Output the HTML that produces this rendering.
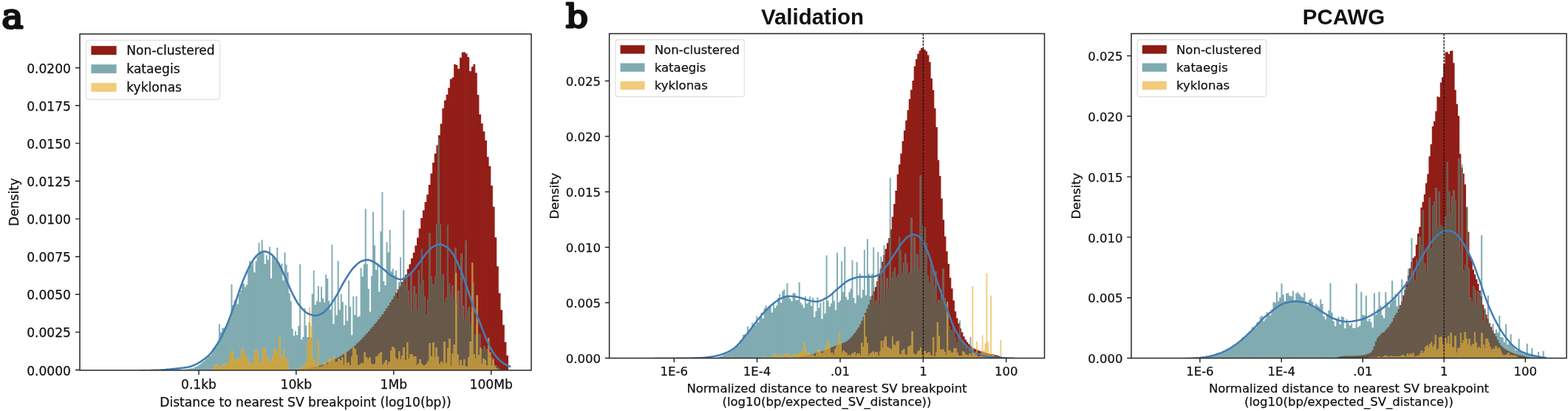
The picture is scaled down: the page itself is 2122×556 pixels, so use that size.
<!DOCTYPE html>
<html lang="en"><head><meta charset="utf-8"><title>Figure</title>
<style>html,body{margin:0;padding:0;background:#fff}body{width:2122px;height:556px;overflow:hidden}svg{display:block}</style></head>
<body>
<svg width="2122" height="556" viewBox="0 0 2122 556">
<rect width="2122" height="556" fill="#fff"/>
<defs><clipPath id="c0a"><rect x="108" y="46" width="611" height="454.9"/></clipPath>
<clipPath id="c0r"><path d="M395 500.5V500.3H397.6V500.1H400.3V499.9H402.9V499.6H405.6V499.4H408.2V499.1H410.8V498.7H413.5V498.4H416.1V498H418.8V497.6H421.4V497.1H424V496.5H426.7V496H429.3V495.3H432V494.6H434.6V493.7H437.2V492.7H439.9V491.7H442.5V490.5H445.2V489.2H447.8V488H450.4V486.7H453.1V485.3H455.7V484H458.4V482.6H461V480.9H463.6V479.2H466.3V477.5H468.9V475.7H471.6V473.6H474.2V471.5H476.8V469.4H479.5V467.2H482.1V464.6H484.8V461.9H487.4V459.4H490V456.5H492.7V453.5H495.3V450.8H498V448H500.6V444.7H503.2V441.7H505.9V438.2H508.5V435.6H511.2V432H513.8V428.6H516.4V425.3H519.1V421.1H521.7V417.2H524.4V413.7H527V409H529.6V405H532.3V400.6H534.9V396.2H537.6V391.2H540.2V387.3H542.8V381.3H545.5V376H548.1V371.5H550.8V364.1H553.4V357.6H556V349.4H558.7V341.7H561.3V332.2H564V321.6H566.6V309.2H569.2V295H571.9V284.6H574.5V273.2H577.2V263.3H579.8V250.1H582.4V234.8H585.1V219.9H587.7V207.8H590.4V196.5H593V183.1H595.6V167.4H598.3V146.4H600.9V135.8H603.6V127.9H606.2V118.8H608.8V107.1H611.5V104.7H614.1V87.1H616.8V88H619.4V93H622V78.1H624.7V70.7H627.3V70.6H630V72.6H632.6V77.3H635.2V96.2H637.9V90.2H640.5V86.8H643.2V98.5H645.8V128.3H648.4V154.7H651.1V167H653.7V177.7H656.4V190.1H659V212.3H661.6V224.8H664.3V251.1H666.9V279.8H669.6V321.3H672.2V360.2H674.8V396.4H677.5V419.2H680.1V439.6H682.8V462.8H685.4V481.1H688V500.5H690.7V500.5z"/></clipPath>
<clipPath id="c0t"><path d="M246.5 500.5V500.3H248.6V500.5zM248.6 500.5V500H250.6V500.5zM250.6 500.5V499.6H252.7V500.5zM252.7 500.5V499.3H254.7V500.5zM254.7 500.5V498.7H256.8V500.5zM256.8 500.5V498.3H258.9V500.5zM258.9 500.5V498.2H260.9V500.5zM260.9 500.5V497.6H263V500.5zM263 500.5V496.6H265V500.5zM265 500.5V495.9H267.1V500.5zM267.1 500.5V494.5H269.2V500.5zM269.2 500.5V493.3H271.2V500.5zM271.2 500.5V491.6H273.3V500.5zM273.3 500.5V489.4H275.3V500.5zM275.3 500.5V488.3H277.4V500.5zM277.4 500.5V485.4H279.5V500.5zM279.5 500.5V484.4H281.5V500.5zM281.5 500.5V481H283.6V500.5zM283.6 500.5V481.3H285.6V500.5zM285.6 500.5V477.7H287.7V500.5zM287.7 500.5V471.1H289.8V500.5zM289.8 500.5V470.4H291.8V500.5zM291.8 500.5V464.9H293.9V500.5zM293.9 500.5V461.4H295.9V500.5zM295.9 500.5V438.5H298V500.5zM298 500.5V449.6H300.1V500.5zM300.1 500.5V443.7H302.1V500.5zM302.1 500.5V443.4H304.2V500.5zM304.2 500.5V441.6H306.2V500.5zM306.2 500.5V438H308.3V500.5zM308.3 500.5V433.1H310.4V500.5zM310.4 500.5V430.3H312.4V500.5zM312.4 500.5V384.5H314.5V500.5zM314.5 500.5V412.8H316.5V500.5zM316.5 500.5V406.5H318.6V500.5zM318.6 500.5V406.1H320.7V500.5zM320.7 500.5V411.5H322.7V500.5zM322.7 500.5V397.9H324.8V500.5zM324.8 500.5V392.8H326.8V500.5zM326.8 500.5V383.6H328.9V500.5zM328.9 500.5V383.6H331V500.5zM331 500.5V388.3H333V500.5zM333 500.5V385.1H335.1V500.5zM335.1 500.5V366H337.1V500.5zM337.1 500.5V352.9H339.2V500.5zM339.2 500.5V358.4H341.3V500.5zM341.3 500.5V354.6H343.3V500.5zM343.3 500.5V368.4H345.4V500.5zM345.4 500.5V353.6H347.4V500.5zM347.4 500.5V347.1H349.5V500.5zM349.5 500.5V328.5H351.6V500.5zM351.6 500.5V340.9H353.6V500.5zM353.6 500.5V324.5H355.7V500.5zM355.7 500.5V342H357.7V500.5zM357.7 500.5V357.1H359.8V500.5zM359.8 500.5V345.4H361.9V500.5zM361.9 500.5V351.4H363.9V500.5zM363.9 500.5V334H366V500.5zM366 500.5V376.5H368V500.5zM368 500.5V346.4H370.1V500.5zM370.1 500.5V347.8H372.2V500.5zM372.2 500.5V352.8H374.2V500.5zM374.2 500.5V335H376.3V500.5zM376.3 500.5V354.7H378.3V500.5zM378.3 500.5V359.3H380.4V500.5zM380.4 500.5V356.5H382.5V500.5zM382.5 500.5V379.5H384.5V500.5zM384.5 500.5V341.5H386.6V500.5zM386.6 500.5V357.9H388.6V500.5zM388.6 500.5V368.6H390.7V500.5zM390.7 500.5V397.1H392.8V500.5zM392.8 500.5V407.2H394.8V500.5zM394.8 500.5V444.8H396.9V500.5zM396.9 500.5V454.3H398.9V500.5zM398.9 500.5V447.7H401V500.5zM401 500.5V453.3H403.1V500.5zM403.1 500.5V440.8H405.1V500.5zM405.1 500.5V357.5H407.2V500.5zM407.2 500.5V459.2H409.2V500.5zM409.2 500.5V455.7H411.3V500.5zM411.3 500.5V417H413.4V500.5zM413.4 500.5V440.2H415.4V500.5zM415.4 500.5V456.2H417.5V500.5zM417.5 500.5V436H419.5V500.5zM419.5 500.5V456.5H421.6V500.5zM421.6 500.5V397.6H423.7V500.5zM423.7 500.5V366H425.7V500.5zM425.7 500.5V412.2H427.8V500.5zM427.8 500.5V407.3H429.8V500.5zM429.8 500.5V387H431.9V500.5zM431.9 500.5V408.8H434V500.5zM434 500.5V388.1H436V500.5zM436 500.5V403.6H438.1V500.5zM438.1 500.5V409.1H440.1V500.5zM440.1 500.5V371.4H442.2V500.5zM442.2 500.5V377H444.3V500.5zM444.3 500.5V407.1H446.3V500.5zM446.3 500.5V419.1H448.4V500.5zM448.4 500.5V331H450.4V500.5zM450.4 500.5V438.2H452.5V500.5zM452.5 500.5V401.6H454.6V500.5zM454.6 500.5V426.4H456.6V500.5zM456.6 500.5V353H458.7V500.5zM458.7 500.5V419.2H460.7V500.5zM460.7 500.5V397.7H462.8V500.5zM462.8 500.5V408.6H464.9V500.5zM464.9 500.5V439.7H466.9V500.5zM466.9 500.5V412.7H469V500.5zM469 500.5V433.9H471V500.5zM471 500.5V379.5H473.1V500.5zM473.1 500.5V414.8H475.2V500.5zM475.2 500.5V453.6H477.2V500.5zM477.2 500.5V401H479.3V500.5zM479.3 500.5V426.1H481.3V500.5zM481.3 500.5V400.5H483.4V500.5zM483.4 500.5V428.7H485.5V500.5zM485.5 500.5V427.7H487.5V500.5zM487.5 500.5V362.5H489.6V500.5zM489.6 500.5V373.9H491.6V500.5zM491.6 500.5V357.4H493.7V500.5zM493.7 500.5V282.5H495.8V500.5zM495.8 500.5V357.3H497.8V500.5zM497.8 500.5V390.8H499.9V500.5zM499.9 500.5V421.7H501.9V500.5zM501.9 500.5V373.2H504V500.5zM504 500.5V286.8H506.1V500.5zM506.1 500.5V331.8H508.1V500.5zM508.1 500.5V364.9H510.2V500.5zM510.2 500.5V355.9H512.2V500.5zM512.2 500.5V394.7H514.3V500.5zM514.3 500.5V313H516.4V500.5zM516.4 500.5V260H518.4V500.5zM518.4 500.5V380.5H520.5V500.5zM520.5 500.5V386.1H522.5V500.5zM522.5 500.5V327.5H524.6V500.5zM524.6 500.5V341.6H526.7V500.5zM526.7 500.5V311H528.7V500.5zM528.7 500.5V367.2H530.8V500.5zM530.8 500.5V363.2H532.8V500.5zM532.8 500.5V372.8H534.9V500.5zM534.9 500.5V365.7H537V500.5zM537 500.5V404.2H539V500.5zM539 500.5V381.4H541.1V500.5zM541.1 500.5V348H543.1V500.5zM543.1 500.5V383H545.2V500.5zM545.2 500.5V284.3H547.3V500.5zM547.3 500.5V387.6H549.3V500.5zM549.3 500.5V371.8H551.4V500.5zM551.4 500.5V392.8H553.4V500.5zM553.4 500.5V411.2H555.5V500.5zM555.5 500.5V370.5H557.6V500.5zM557.6 500.5V421.7H559.6V500.5zM559.6 500.5V387.2H561.7V500.5zM561.7 500.5V397H563.7V500.5zM563.7 500.5V417.9H565.8V500.5zM565.8 500.5V365.7H567.9V500.5zM567.9 500.5V386.6H569.9V500.5zM569.9 500.5V336.8H572V500.5zM572 500.5V379.4H574V500.5zM574 500.5V401.4H576.1V500.5zM576.1 500.5V426.2H578.2V500.5zM578.2 500.5V405.1H580.2V500.5zM580.2 500.5V315.5H582.3V500.5zM582.3 500.5V374.2H584.3V500.5zM584.3 500.5V384.5H586.4V500.5zM586.4 500.5V385.9H588.5V500.5zM588.5 500.5V373.9H590.5V500.5zM590.5 500.5V303H592.6V500.5zM592.6 500.5V187H594.6V500.5zM594.6 500.5V303H596.7V500.5zM596.7 500.5V376.1H598.8V500.5zM598.8 500.5V371.3H600.8V500.5zM600.8 500.5V407.9H602.9V500.5zM602.9 500.5V402.7H604.9V500.5zM604.9 500.5V304H607V500.5zM607 500.5V382.9H609.1V500.5zM609.1 500.5V398H611.1V500.5zM611.1 500.5V385.9H613.2V500.5zM613.2 500.5V404.6H615.2V500.5zM615.2 500.5V335.5H617.3V500.5zM617.3 500.5V410.5H619.4V500.5zM619.4 500.5V393.2H621.4V500.5zM621.4 500.5V427.5H623.5V500.5zM623.5 500.5V343H625.5V500.5zM625.5 500.5V413.6H627.6V500.5zM627.6 500.5V432.4H629.7V500.5zM629.7 500.5V325.5H631.7V500.5zM631.7 500.5V420.1H633.8V500.5zM633.8 500.5V415.6H635.8V500.5zM635.8 500.5V438.8H637.9V500.5zM637.9 500.5V421.9H640V500.5zM640 500.5V382.5H642V500.5zM642 500.5V452H644.1V500.5zM644.1 500.5V439H646.1V500.5zM646.1 500.5V451.4H648.2V500.5zM648.2 500.5V452.2H650.3V500.5zM650.3 500.5V472.5H652.3V500.5zM652.3 500.5V473.4H654.4V500.5zM654.4 500.5V468.6H656.4V500.5zM656.4 500.5V475.5H658.5V500.5zM658.5 500.5V472.3H660.6V500.5zM660.6 500.5V484.3H662.6V500.5zM662.6 500.5V484.3H664.7V500.5zM664.7 500.5V483.6H666.7V500.5zM666.7 500.5V491.5H668.8V500.5zM668.8 500.5V493.7H670.9V500.5zM670.9 500.5V494.6H672.9V500.5zM672.9 500.5V496.7H675V500.5zM675 500.5V498.4H677V500.5z"/></clipPath>
</defs>
<g clip-path="url(#c0a)">
<path id="c0pr" d="M395 500.5V500.3H397.6V500.1H400.3V499.9H402.9V499.6H405.6V499.4H408.2V499.1H410.8V498.7H413.5V498.4H416.1V498H418.8V497.6H421.4V497.1H424V496.5H426.7V496H429.3V495.3H432V494.6H434.6V493.7H437.2V492.7H439.9V491.7H442.5V490.5H445.2V489.2H447.8V488H450.4V486.7H453.1V485.3H455.7V484H458.4V482.6H461V480.9H463.6V479.2H466.3V477.5H468.9V475.7H471.6V473.6H474.2V471.5H476.8V469.4H479.5V467.2H482.1V464.6H484.8V461.9H487.4V459.4H490V456.5H492.7V453.5H495.3V450.8H498V448H500.6V444.7H503.2V441.7H505.9V438.2H508.5V435.6H511.2V432H513.8V428.6H516.4V425.3H519.1V421.1H521.7V417.2H524.4V413.7H527V409H529.6V405H532.3V400.6H534.9V396.2H537.6V391.2H540.2V387.3H542.8V381.3H545.5V376H548.1V371.5H550.8V364.1H553.4V357.6H556V349.4H558.7V341.7H561.3V332.2H564V321.6H566.6V309.2H569.2V295H571.9V284.6H574.5V273.2H577.2V263.3H579.8V250.1H582.4V234.8H585.1V219.9H587.7V207.8H590.4V196.5H593V183.1H595.6V167.4H598.3V146.4H600.9V135.8H603.6V127.9H606.2V118.8H608.8V107.1H611.5V104.7H614.1V87.1H616.8V88H619.4V93H622V78.1H624.7V70.7H627.3V70.6H630V72.6H632.6V77.3H635.2V96.2H637.9V90.2H640.5V86.8H643.2V98.5H645.8V128.3H648.4V154.7H651.1V167H653.7V177.7H656.4V190.1H659V212.3H661.6V224.8H664.3V251.1H666.9V279.8H669.6V321.3H672.2V360.2H674.8V396.4H677.5V419.2H680.1V439.6H682.8V462.8H685.4V481.1H688V500.5H690.7V500.5z" fill="#98211a"/>
<path d="M424 500.5V497.1M426.7 500.5V496.5M429.3 500.5V496M432 500.5V495.3M434.6 500.5V494.6M437.2 500.5V493.7M439.9 500.5V492.7M442.5 500.5V491.7M445.2 500.5V490.5M447.8 500.5V489.2M450.4 500.5V488M453.1 500.5V486.7M455.7 500.5V485.3M458.4 500.5V484M461 500.5V482.6M463.6 500.5V480.9M466.3 500.5V479.2M468.9 500.5V477.5M471.6 500.5V475.7M474.2 500.5V473.6M476.8 500.5V471.5M479.5 500.5V469.4M482.1 500.5V467.2M484.8 500.5V464.6M487.4 500.5V461.9M490 500.5V459.4M492.7 500.5V456.5M495.3 500.5V453.5M498 500.5V450.8M500.6 500.5V448M503.2 500.5V444.7M505.9 500.5V441.7M508.5 500.5V438.2M511.2 500.5V435.6M513.8 500.5V432M516.4 500.5V428.6M519.1 500.5V425.3M521.7 500.5V421.1M524.4 500.5V417.2M527 500.5V413.7M529.6 500.5V409M532.3 500.5V405M534.9 500.5V400.6M537.6 500.5V396.2M540.2 500.5V391.2M542.8 500.5V387.3M545.5 500.5V381.3M548.1 500.5V376M550.8 500.5V371.5M553.4 500.5V364.1M556 500.5V357.6M558.7 500.5V349.4M561.3 500.5V341.7M564 500.5V332.2M566.6 500.5V321.6M569.2 500.5V309.2M571.9 500.5V295M574.5 500.5V284.6M577.2 500.5V273.2M579.8 500.5V263.3M582.4 500.5V250.1M585.1 500.5V234.8M587.7 500.5V219.9M590.4 500.5V207.8M593 500.5V196.5M595.6 500.5V183.1M598.3 500.5V167.4M600.9 500.5V146.4M603.6 500.5V135.8M606.2 500.5V127.9M608.8 500.5V118.8M611.5 500.5V107.1M614.1 500.5V104.7M616.8 500.5V88M619.4 500.5V93M622 500.5V93M624.7 500.5V78.1M627.3 500.5V70.7M630 500.5V72.6M632.6 500.5V77.3M635.2 500.5V96.2M637.9 500.5V96.2M640.5 500.5V90.2M643.2 500.5V98.5M645.8 500.5V128.3M648.4 500.5V154.7M651.1 500.5V167M653.7 500.5V177.7M656.4 500.5V190.1M659 500.5V212.3M661.6 500.5V224.8M664.3 500.5V251.1M666.9 500.5V279.8M669.6 500.5V321.3M672.2 500.5V360.2M674.8 500.5V396.4M677.5 500.5V419.2M680.1 500.5V439.6M682.8 500.5V462.8M685.4 500.5V481.1" stroke="#5e0f0b" stroke-width="0.6" fill="none" opacity="0.5"/>
<path d="M246.5 500.5V500.3H248.6V500.5zM248.6 500.5V500H250.6V500.5zM250.6 500.5V499.6H252.7V500.5zM252.7 500.5V499.3H254.7V500.5zM254.7 500.5V498.7H256.8V500.5zM256.8 500.5V498.3H258.9V500.5zM258.9 500.5V498.2H260.9V500.5zM260.9 500.5V497.6H263V500.5zM263 500.5V496.6H265V500.5zM265 500.5V495.9H267.1V500.5zM267.1 500.5V494.5H269.2V500.5zM269.2 500.5V493.3H271.2V500.5zM271.2 500.5V491.6H273.3V500.5zM273.3 500.5V489.4H275.3V500.5zM275.3 500.5V488.3H277.4V500.5zM277.4 500.5V485.4H279.5V500.5zM279.5 500.5V484.4H281.5V500.5zM281.5 500.5V481H283.6V500.5zM283.6 500.5V481.3H285.6V500.5zM285.6 500.5V477.7H287.7V500.5zM287.7 500.5V471.1H289.8V500.5zM289.8 500.5V470.4H291.8V500.5zM291.8 500.5V464.9H293.9V500.5zM293.9 500.5V461.4H295.9V500.5zM295.9 500.5V438.5H298V500.5zM298 500.5V449.6H300.1V500.5zM300.1 500.5V443.7H302.1V500.5zM302.1 500.5V443.4H304.2V500.5zM304.2 500.5V441.6H306.2V500.5zM306.2 500.5V438H308.3V500.5zM308.3 500.5V433.1H310.4V500.5zM310.4 500.5V430.3H312.4V500.5zM312.4 500.5V384.5H314.5V500.5zM314.5 500.5V412.8H316.5V500.5zM316.5 500.5V406.5H318.6V500.5zM318.6 500.5V406.1H320.7V500.5zM320.7 500.5V411.5H322.7V500.5zM322.7 500.5V397.9H324.8V500.5zM324.8 500.5V392.8H326.8V500.5zM326.8 500.5V383.6H328.9V500.5zM328.9 500.5V383.6H331V500.5zM331 500.5V388.3H333V500.5zM333 500.5V385.1H335.1V500.5zM335.1 500.5V366H337.1V500.5zM337.1 500.5V352.9H339.2V500.5zM339.2 500.5V358.4H341.3V500.5zM341.3 500.5V354.6H343.3V500.5zM343.3 500.5V368.4H345.4V500.5zM345.4 500.5V353.6H347.4V500.5zM347.4 500.5V347.1H349.5V500.5zM349.5 500.5V328.5H351.6V500.5zM351.6 500.5V340.9H353.6V500.5zM353.6 500.5V324.5H355.7V500.5zM355.7 500.5V342H357.7V500.5zM357.7 500.5V357.1H359.8V500.5zM359.8 500.5V345.4H361.9V500.5zM361.9 500.5V351.4H363.9V500.5zM363.9 500.5V334H366V500.5zM366 500.5V376.5H368V500.5zM368 500.5V346.4H370.1V500.5zM370.1 500.5V347.8H372.2V500.5zM372.2 500.5V352.8H374.2V500.5zM374.2 500.5V335H376.3V500.5zM376.3 500.5V354.7H378.3V500.5zM378.3 500.5V359.3H380.4V500.5zM380.4 500.5V356.5H382.5V500.5zM382.5 500.5V379.5H384.5V500.5zM384.5 500.5V341.5H386.6V500.5zM386.6 500.5V357.9H388.6V500.5zM388.6 500.5V368.6H390.7V500.5zM390.7 500.5V397.1H392.8V500.5zM392.8 500.5V407.2H394.8V500.5zM394.8 500.5V444.8H396.9V500.5zM396.9 500.5V454.3H398.9V500.5zM398.9 500.5V447.7H401V500.5zM401 500.5V453.3H403.1V500.5zM403.1 500.5V440.8H405.1V500.5zM405.1 500.5V357.5H407.2V500.5zM407.2 500.5V459.2H409.2V500.5zM409.2 500.5V455.7H411.3V500.5zM411.3 500.5V417H413.4V500.5zM413.4 500.5V440.2H415.4V500.5zM415.4 500.5V456.2H417.5V500.5zM417.5 500.5V436H419.5V500.5zM419.5 500.5V456.5H421.6V500.5zM421.6 500.5V397.6H423.7V500.5zM423.7 500.5V366H425.7V500.5zM425.7 500.5V412.2H427.8V500.5zM427.8 500.5V407.3H429.8V500.5zM429.8 500.5V387H431.9V500.5zM431.9 500.5V408.8H434V500.5zM434 500.5V388.1H436V500.5zM436 500.5V403.6H438.1V500.5zM438.1 500.5V409.1H440.1V500.5zM440.1 500.5V371.4H442.2V500.5zM442.2 500.5V377H444.3V500.5zM444.3 500.5V407.1H446.3V500.5zM446.3 500.5V419.1H448.4V500.5zM448.4 500.5V331H450.4V500.5zM450.4 500.5V438.2H452.5V500.5zM452.5 500.5V401.6H454.6V500.5zM454.6 500.5V426.4H456.6V500.5zM456.6 500.5V353H458.7V500.5zM458.7 500.5V419.2H460.7V500.5zM460.7 500.5V397.7H462.8V500.5zM462.8 500.5V408.6H464.9V500.5zM464.9 500.5V439.7H466.9V500.5zM466.9 500.5V412.7H469V500.5zM469 500.5V433.9H471V500.5zM471 500.5V379.5H473.1V500.5zM473.1 500.5V414.8H475.2V500.5zM475.2 500.5V453.6H477.2V500.5zM477.2 500.5V401H479.3V500.5zM479.3 500.5V426.1H481.3V500.5zM481.3 500.5V400.5H483.4V500.5zM483.4 500.5V428.7H485.5V500.5zM485.5 500.5V427.7H487.5V500.5zM487.5 500.5V362.5H489.6V500.5zM489.6 500.5V373.9H491.6V500.5zM491.6 500.5V357.4H493.7V500.5zM493.7 500.5V282.5H495.8V500.5zM495.8 500.5V357.3H497.8V500.5zM497.8 500.5V390.8H499.9V500.5zM499.9 500.5V421.7H501.9V500.5zM501.9 500.5V373.2H504V500.5zM504 500.5V286.8H506.1V500.5zM506.1 500.5V331.8H508.1V500.5zM508.1 500.5V364.9H510.2V500.5zM510.2 500.5V355.9H512.2V500.5zM512.2 500.5V394.7H514.3V500.5zM514.3 500.5V313H516.4V500.5zM516.4 500.5V260H518.4V500.5zM518.4 500.5V380.5H520.5V500.5zM520.5 500.5V386.1H522.5V500.5zM522.5 500.5V327.5H524.6V500.5zM524.6 500.5V341.6H526.7V500.5zM526.7 500.5V311H528.7V500.5zM528.7 500.5V367.2H530.8V500.5zM530.8 500.5V363.2H532.8V500.5zM532.8 500.5V372.8H534.9V500.5zM534.9 500.5V365.7H537V500.5zM537 500.5V404.2H539V500.5zM539 500.5V381.4H541.1V500.5zM541.1 500.5V348H543.1V500.5zM543.1 500.5V383H545.2V500.5zM545.2 500.5V284.3H547.3V500.5zM547.3 500.5V387.6H549.3V500.5zM549.3 500.5V371.8H551.4V500.5zM551.4 500.5V392.8H553.4V500.5zM553.4 500.5V411.2H555.5V500.5zM555.5 500.5V370.5H557.6V500.5zM557.6 500.5V421.7H559.6V500.5zM559.6 500.5V387.2H561.7V500.5zM561.7 500.5V397H563.7V500.5zM563.7 500.5V417.9H565.8V500.5zM565.8 500.5V365.7H567.9V500.5zM567.9 500.5V386.6H569.9V500.5zM569.9 500.5V336.8H572V500.5zM572 500.5V379.4H574V500.5zM574 500.5V401.4H576.1V500.5zM576.1 500.5V426.2H578.2V500.5zM578.2 500.5V405.1H580.2V500.5zM580.2 500.5V315.5H582.3V500.5zM582.3 500.5V374.2H584.3V500.5zM584.3 500.5V384.5H586.4V500.5zM586.4 500.5V385.9H588.5V500.5zM588.5 500.5V373.9H590.5V500.5zM590.5 500.5V303H592.6V500.5zM592.6 500.5V187H594.6V500.5zM594.6 500.5V303H596.7V500.5zM596.7 500.5V376.1H598.8V500.5zM598.8 500.5V371.3H600.8V500.5zM600.8 500.5V407.9H602.9V500.5zM602.9 500.5V402.7H604.9V500.5zM604.9 500.5V304H607V500.5zM607 500.5V382.9H609.1V500.5zM609.1 500.5V398H611.1V500.5zM611.1 500.5V385.9H613.2V500.5zM613.2 500.5V404.6H615.2V500.5zM615.2 500.5V335.5H617.3V500.5zM617.3 500.5V410.5H619.4V500.5zM619.4 500.5V393.2H621.4V500.5zM621.4 500.5V427.5H623.5V500.5zM623.5 500.5V343H625.5V500.5zM625.5 500.5V413.6H627.6V500.5zM627.6 500.5V432.4H629.7V500.5zM629.7 500.5V325.5H631.7V500.5zM631.7 500.5V420.1H633.8V500.5zM633.8 500.5V415.6H635.8V500.5zM635.8 500.5V438.8H637.9V500.5zM637.9 500.5V421.9H640V500.5zM640 500.5V382.5H642V500.5zM642 500.5V452H644.1V500.5zM644.1 500.5V439H646.1V500.5zM646.1 500.5V451.4H648.2V500.5zM648.2 500.5V452.2H650.3V500.5zM650.3 500.5V472.5H652.3V500.5zM652.3 500.5V473.4H654.4V500.5zM654.4 500.5V468.6H656.4V500.5zM656.4 500.5V475.5H658.5V500.5zM658.5 500.5V472.3H660.6V500.5zM660.6 500.5V484.3H662.6V500.5zM662.6 500.5V484.3H664.7V500.5zM664.7 500.5V483.6H666.7V500.5zM666.7 500.5V491.5H668.8V500.5zM668.8 500.5V493.7H670.9V500.5zM670.9 500.5V494.6H672.9V500.5zM672.9 500.5V496.7H675V500.5zM675 500.5V498.4H677V500.5z" fill="#86b0b6"/>
<path d="M265 500.5V496.6M267.1 500.5V495.9M269.2 500.5V494.5M271.2 500.5V493.3M273.3 500.5V491.6M275.3 500.5V489.4M277.4 500.5V488.3M279.5 500.5V485.4M281.5 500.5V484.4M283.6 500.5V481.3M285.6 500.5V481.3M287.7 500.5V477.7M289.8 500.5V471.1M291.8 500.5V470.4M293.9 500.5V464.9M295.9 500.5V461.4M298 500.5V449.6M300.1 500.5V449.6M302.1 500.5V443.7M304.2 500.5V443.4M306.2 500.5V441.6M308.3 500.5V438M310.4 500.5V433.1M312.4 500.5V430.3M314.5 500.5V412.8M316.5 500.5V412.8M318.6 500.5V406.5M320.7 500.5V411.5M322.7 500.5V411.5M324.8 500.5V397.9M326.8 500.5V392.8M328.9 500.5V383.6M331 500.5V388.3M333 500.5V388.3M335.1 500.5V385.1M337.1 500.5V366M339.2 500.5V358.4M341.3 500.5V358.4M343.3 500.5V368.4M345.4 500.5V368.4M347.4 500.5V353.6M349.5 500.5V347.1M351.6 500.5V340.9M353.6 500.5V340.9M355.7 500.5V342M357.7 500.5V357.1M359.8 500.5V357.1M361.9 500.5V351.4M363.9 500.5V351.4M366 500.5V376.5M368 500.5V376.5M370.1 500.5V347.8M372.2 500.5V352.8M374.2 500.5V352.8M376.3 500.5V354.7M378.3 500.5V359.3M380.4 500.5V359.3M382.5 500.5V379.5M384.5 500.5V379.5M386.6 500.5V357.9M388.6 500.5V368.6M390.7 500.5V397.1M392.8 500.5V407.2M394.8 500.5V444.8M396.9 500.5V454.3M398.9 500.5V454.3M401 500.5V453.3M403.1 500.5V453.3M405.1 500.5V440.8M407.2 500.5V459.2M409.2 500.5V459.2M411.3 500.5V455.7M413.4 500.5V440.2M415.4 500.5V456.2M417.5 500.5V456.2M419.5 500.5V456.5M421.6 500.5V456.5M423.7 500.5V397.6M425.7 500.5V412.2M427.8 500.5V412.2M429.8 500.5V407.3M431.9 500.5V408.8M434 500.5V408.8M436 500.5V403.6M438.1 500.5V409.1M440.1 500.5V409.1M442.2 500.5V377M444.3 500.5V407.1M446.3 500.5V419.1M448.4 500.5V419.1M450.4 500.5V438.2M452.5 500.5V438.2M454.6 500.5V426.4M456.6 500.5V426.4M458.7 500.5V419.2M460.7 500.5V419.2M462.8 500.5V408.6M464.9 500.5V439.7M466.9 500.5V439.7M469 500.5V433.9M471 500.5V433.9M473.1 500.5V414.8M475.2 500.5V453.6M477.2 500.5V453.6M479.3 500.5V426.1M481.3 500.5V426.1M483.4 500.5V428.7M485.5 500.5V428.7M487.5 500.5V427.7M489.6 500.5V373.9M491.6 500.5V373.9M493.7 500.5V357.4M495.8 500.5V357.3M497.8 500.5V390.8M499.9 500.5V421.7M501.9 500.5V421.7M504 500.5V373.2M506.1 500.5V331.8M508.1 500.5V364.9M510.2 500.5V364.9M512.2 500.5V394.7M514.3 500.5V394.7M516.4 500.5V313M518.4 500.5V380.5M520.5 500.5V386.1M522.5 500.5V386.1M524.6 500.5V341.6M526.7 500.5V341.6M528.7 500.5V367.2M530.8 500.5V367.2M532.8 500.5V372.8M534.9 500.5V372.8M537 500.5V404.2M539 500.5V404.2M541.1 500.5V381.4M543.1 500.5V383M545.2 500.5V383M547.3 500.5V387.6M549.3 500.5V387.6M551.4 500.5V392.8M553.4 500.5V411.2M555.5 500.5V411.2M557.6 500.5V421.7M559.6 500.5V421.7M561.7 500.5V397M563.7 500.5V417.9M565.8 500.5V417.9M567.9 500.5V386.6M569.9 500.5V386.6M572 500.5V379.4M574 500.5V401.4M576.1 500.5V426.2M578.2 500.5V426.2M580.2 500.5V405.1M582.3 500.5V374.2M584.3 500.5V384.5M586.4 500.5V385.9M588.5 500.5V385.9M590.5 500.5V373.9M592.6 500.5V303M594.6 500.5V303M596.7 500.5V376.1M598.8 500.5V376.1M600.8 500.5V407.9M602.9 500.5V407.9M604.9 500.5V402.7M607 500.5V382.9M609.1 500.5V398M611.1 500.5V398M613.2 500.5V404.6M615.2 500.5V404.6M617.3 500.5V410.5M619.4 500.5V410.5M621.4 500.5V427.5M623.5 500.5V427.5M625.5 500.5V413.6M627.6 500.5V432.4M629.7 500.5V432.4M631.7 500.5V420.1M633.8 500.5V420.1M635.8 500.5V438.8M637.9 500.5V438.8M640 500.5V421.9M642 500.5V452M644.1 500.5V452M646.1 500.5V451.4M648.2 500.5V452.2M650.3 500.5V472.5M652.3 500.5V473.4M654.4 500.5V473.4M656.4 500.5V475.5M658.5 500.5V475.5M660.6 500.5V484.3M662.6 500.5V484.3M664.7 500.5V484.3M666.7 500.5V491.5M668.8 500.5V493.7M670.9 500.5V494.6M672.9 500.5V496.7" stroke="#5d8e95" stroke-width="0.5" fill="none" opacity="0.5"/>
<g clip-path="url(#c0r)"><path d="M246.5 500.5V500.3H248.6V500.5zM248.6 500.5V500H250.6V500.5zM250.6 500.5V499.6H252.7V500.5zM252.7 500.5V499.3H254.7V500.5zM254.7 500.5V498.7H256.8V500.5zM256.8 500.5V498.3H258.9V500.5zM258.9 500.5V498.2H260.9V500.5zM260.9 500.5V497.6H263V500.5zM263 500.5V496.6H265V500.5zM265 500.5V495.9H267.1V500.5zM267.1 500.5V494.5H269.2V500.5zM269.2 500.5V493.3H271.2V500.5zM271.2 500.5V491.6H273.3V500.5zM273.3 500.5V489.4H275.3V500.5zM275.3 500.5V488.3H277.4V500.5zM277.4 500.5V485.4H279.5V500.5zM279.5 500.5V484.4H281.5V500.5zM281.5 500.5V481H283.6V500.5zM283.6 500.5V481.3H285.6V500.5zM285.6 500.5V477.7H287.7V500.5zM287.7 500.5V471.1H289.8V500.5zM289.8 500.5V470.4H291.8V500.5zM291.8 500.5V464.9H293.9V500.5zM293.9 500.5V461.4H295.9V500.5zM295.9 500.5V438.5H298V500.5zM298 500.5V449.6H300.1V500.5zM300.1 500.5V443.7H302.1V500.5zM302.1 500.5V443.4H304.2V500.5zM304.2 500.5V441.6H306.2V500.5zM306.2 500.5V438H308.3V500.5zM308.3 500.5V433.1H310.4V500.5zM310.4 500.5V430.3H312.4V500.5zM312.4 500.5V384.5H314.5V500.5zM314.5 500.5V412.8H316.5V500.5zM316.5 500.5V406.5H318.6V500.5zM318.6 500.5V406.1H320.7V500.5zM320.7 500.5V411.5H322.7V500.5zM322.7 500.5V397.9H324.8V500.5zM324.8 500.5V392.8H326.8V500.5zM326.8 500.5V383.6H328.9V500.5zM328.9 500.5V383.6H331V500.5zM331 500.5V388.3H333V500.5zM333 500.5V385.1H335.1V500.5zM335.1 500.5V366H337.1V500.5zM337.1 500.5V352.9H339.2V500.5zM339.2 500.5V358.4H341.3V500.5zM341.3 500.5V354.6H343.3V500.5zM343.3 500.5V368.4H345.4V500.5zM345.4 500.5V353.6H347.4V500.5zM347.4 500.5V347.1H349.5V500.5zM349.5 500.5V328.5H351.6V500.5zM351.6 500.5V340.9H353.6V500.5zM353.6 500.5V324.5H355.7V500.5zM355.7 500.5V342H357.7V500.5zM357.7 500.5V357.1H359.8V500.5zM359.8 500.5V345.4H361.9V500.5zM361.9 500.5V351.4H363.9V500.5zM363.9 500.5V334H366V500.5zM366 500.5V376.5H368V500.5zM368 500.5V346.4H370.1V500.5zM370.1 500.5V347.8H372.2V500.5zM372.2 500.5V352.8H374.2V500.5zM374.2 500.5V335H376.3V500.5zM376.3 500.5V354.7H378.3V500.5zM378.3 500.5V359.3H380.4V500.5zM380.4 500.5V356.5H382.5V500.5zM382.5 500.5V379.5H384.5V500.5zM384.5 500.5V341.5H386.6V500.5zM386.6 500.5V357.9H388.6V500.5zM388.6 500.5V368.6H390.7V500.5zM390.7 500.5V397.1H392.8V500.5zM392.8 500.5V407.2H394.8V500.5zM394.8 500.5V444.8H396.9V500.5zM396.9 500.5V454.3H398.9V500.5zM398.9 500.5V447.7H401V500.5zM401 500.5V453.3H403.1V500.5zM403.1 500.5V440.8H405.1V500.5zM405.1 500.5V357.5H407.2V500.5zM407.2 500.5V459.2H409.2V500.5zM409.2 500.5V455.7H411.3V500.5zM411.3 500.5V417H413.4V500.5zM413.4 500.5V440.2H415.4V500.5zM415.4 500.5V456.2H417.5V500.5zM417.5 500.5V436H419.5V500.5zM419.5 500.5V456.5H421.6V500.5zM421.6 500.5V397.6H423.7V500.5zM423.7 500.5V366H425.7V500.5zM425.7 500.5V412.2H427.8V500.5zM427.8 500.5V407.3H429.8V500.5zM429.8 500.5V387H431.9V500.5zM431.9 500.5V408.8H434V500.5zM434 500.5V388.1H436V500.5zM436 500.5V403.6H438.1V500.5zM438.1 500.5V409.1H440.1V500.5zM440.1 500.5V371.4H442.2V500.5zM442.2 500.5V377H444.3V500.5zM444.3 500.5V407.1H446.3V500.5zM446.3 500.5V419.1H448.4V500.5zM448.4 500.5V331H450.4V500.5zM450.4 500.5V438.2H452.5V500.5zM452.5 500.5V401.6H454.6V500.5zM454.6 500.5V426.4H456.6V500.5zM456.6 500.5V353H458.7V500.5zM458.7 500.5V419.2H460.7V500.5zM460.7 500.5V397.7H462.8V500.5zM462.8 500.5V408.6H464.9V500.5zM464.9 500.5V439.7H466.9V500.5zM466.9 500.5V412.7H469V500.5zM469 500.5V433.9H471V500.5zM471 500.5V379.5H473.1V500.5zM473.1 500.5V414.8H475.2V500.5zM475.2 500.5V453.6H477.2V500.5zM477.2 500.5V401H479.3V500.5zM479.3 500.5V426.1H481.3V500.5zM481.3 500.5V400.5H483.4V500.5zM483.4 500.5V428.7H485.5V500.5zM485.5 500.5V427.7H487.5V500.5zM487.5 500.5V362.5H489.6V500.5zM489.6 500.5V373.9H491.6V500.5zM491.6 500.5V357.4H493.7V500.5zM493.7 500.5V282.5H495.8V500.5zM495.8 500.5V357.3H497.8V500.5zM497.8 500.5V390.8H499.9V500.5zM499.9 500.5V421.7H501.9V500.5zM501.9 500.5V373.2H504V500.5zM504 500.5V286.8H506.1V500.5zM506.1 500.5V331.8H508.1V500.5zM508.1 500.5V364.9H510.2V500.5zM510.2 500.5V355.9H512.2V500.5zM512.2 500.5V394.7H514.3V500.5zM514.3 500.5V313H516.4V500.5zM516.4 500.5V260H518.4V500.5zM518.4 500.5V380.5H520.5V500.5zM520.5 500.5V386.1H522.5V500.5zM522.5 500.5V327.5H524.6V500.5zM524.6 500.5V341.6H526.7V500.5zM526.7 500.5V311H528.7V500.5zM528.7 500.5V367.2H530.8V500.5zM530.8 500.5V363.2H532.8V500.5zM532.8 500.5V372.8H534.9V500.5zM534.9 500.5V365.7H537V500.5zM537 500.5V404.2H539V500.5zM539 500.5V381.4H541.1V500.5zM541.1 500.5V348H543.1V500.5zM543.1 500.5V383H545.2V500.5zM545.2 500.5V284.3H547.3V500.5zM547.3 500.5V387.6H549.3V500.5zM549.3 500.5V371.8H551.4V500.5zM551.4 500.5V392.8H553.4V500.5zM553.4 500.5V411.2H555.5V500.5zM555.5 500.5V370.5H557.6V500.5zM557.6 500.5V421.7H559.6V500.5zM559.6 500.5V387.2H561.7V500.5zM561.7 500.5V397H563.7V500.5zM563.7 500.5V417.9H565.8V500.5zM565.8 500.5V365.7H567.9V500.5zM567.9 500.5V386.6H569.9V500.5zM569.9 500.5V336.8H572V500.5zM572 500.5V379.4H574V500.5zM574 500.5V401.4H576.1V500.5zM576.1 500.5V426.2H578.2V500.5zM578.2 500.5V405.1H580.2V500.5zM580.2 500.5V315.5H582.3V500.5zM582.3 500.5V374.2H584.3V500.5zM584.3 500.5V384.5H586.4V500.5zM586.4 500.5V385.9H588.5V500.5zM588.5 500.5V373.9H590.5V500.5zM590.5 500.5V303H592.6V500.5zM592.6 500.5V187H594.6V500.5zM594.6 500.5V303H596.7V500.5zM596.7 500.5V376.1H598.8V500.5zM598.8 500.5V371.3H600.8V500.5zM600.8 500.5V407.9H602.9V500.5zM602.9 500.5V402.7H604.9V500.5zM604.9 500.5V304H607V500.5zM607 500.5V382.9H609.1V500.5zM609.1 500.5V398H611.1V500.5zM611.1 500.5V385.9H613.2V500.5zM613.2 500.5V404.6H615.2V500.5zM615.2 500.5V335.5H617.3V500.5zM617.3 500.5V410.5H619.4V500.5zM619.4 500.5V393.2H621.4V500.5zM621.4 500.5V427.5H623.5V500.5zM623.5 500.5V343H625.5V500.5zM625.5 500.5V413.6H627.6V500.5zM627.6 500.5V432.4H629.7V500.5zM629.7 500.5V325.5H631.7V500.5zM631.7 500.5V420.1H633.8V500.5zM633.8 500.5V415.6H635.8V500.5zM635.8 500.5V438.8H637.9V500.5zM637.9 500.5V421.9H640V500.5zM640 500.5V382.5H642V500.5zM642 500.5V452H644.1V500.5zM644.1 500.5V439H646.1V500.5zM646.1 500.5V451.4H648.2V500.5zM648.2 500.5V452.2H650.3V500.5zM650.3 500.5V472.5H652.3V500.5zM652.3 500.5V473.4H654.4V500.5zM654.4 500.5V468.6H656.4V500.5zM656.4 500.5V475.5H658.5V500.5zM658.5 500.5V472.3H660.6V500.5zM660.6 500.5V484.3H662.6V500.5zM662.6 500.5V484.3H664.7V500.5zM664.7 500.5V483.6H666.7V500.5zM666.7 500.5V491.5H668.8V500.5zM668.8 500.5V493.7H670.9V500.5zM670.9 500.5V494.6H672.9V500.5zM672.9 500.5V496.7H675V500.5zM675 500.5V498.4H677V500.5z" fill="#6c5d4e"/><path d="M265 500.5V496.6M267.1 500.5V495.9M269.2 500.5V494.5M271.2 500.5V493.3M273.3 500.5V491.6M275.3 500.5V489.4M277.4 500.5V488.3M279.5 500.5V485.4M281.5 500.5V484.4M283.6 500.5V481.3M285.6 500.5V481.3M287.7 500.5V477.7M289.8 500.5V471.1M291.8 500.5V470.4M293.9 500.5V464.9M295.9 500.5V461.4M298 500.5V449.6M300.1 500.5V449.6M302.1 500.5V443.7M304.2 500.5V443.4M306.2 500.5V441.6M308.3 500.5V438M310.4 500.5V433.1M312.4 500.5V430.3M314.5 500.5V412.8M316.5 500.5V412.8M318.6 500.5V406.5M320.7 500.5V411.5M322.7 500.5V411.5M324.8 500.5V397.9M326.8 500.5V392.8M328.9 500.5V383.6M331 500.5V388.3M333 500.5V388.3M335.1 500.5V385.1M337.1 500.5V366M339.2 500.5V358.4M341.3 500.5V358.4M343.3 500.5V368.4M345.4 500.5V368.4M347.4 500.5V353.6M349.5 500.5V347.1M351.6 500.5V340.9M353.6 500.5V340.9M355.7 500.5V342M357.7 500.5V357.1M359.8 500.5V357.1M361.9 500.5V351.4M363.9 500.5V351.4M366 500.5V376.5M368 500.5V376.5M370.1 500.5V347.8M372.2 500.5V352.8M374.2 500.5V352.8M376.3 500.5V354.7M378.3 500.5V359.3M380.4 500.5V359.3M382.5 500.5V379.5M384.5 500.5V379.5M386.6 500.5V357.9M388.6 500.5V368.6M390.7 500.5V397.1M392.8 500.5V407.2M394.8 500.5V444.8M396.9 500.5V454.3M398.9 500.5V454.3M401 500.5V453.3M403.1 500.5V453.3M405.1 500.5V440.8M407.2 500.5V459.2M409.2 500.5V459.2M411.3 500.5V455.7M413.4 500.5V440.2M415.4 500.5V456.2M417.5 500.5V456.2M419.5 500.5V456.5M421.6 500.5V456.5M423.7 500.5V397.6M425.7 500.5V412.2M427.8 500.5V412.2M429.8 500.5V407.3M431.9 500.5V408.8M434 500.5V408.8M436 500.5V403.6M438.1 500.5V409.1M440.1 500.5V409.1M442.2 500.5V377M444.3 500.5V407.1M446.3 500.5V419.1M448.4 500.5V419.1M450.4 500.5V438.2M452.5 500.5V438.2M454.6 500.5V426.4M456.6 500.5V426.4M458.7 500.5V419.2M460.7 500.5V419.2M462.8 500.5V408.6M464.9 500.5V439.7M466.9 500.5V439.7M469 500.5V433.9M471 500.5V433.9M473.1 500.5V414.8M475.2 500.5V453.6M477.2 500.5V453.6M479.3 500.5V426.1M481.3 500.5V426.1M483.4 500.5V428.7M485.5 500.5V428.7M487.5 500.5V427.7M489.6 500.5V373.9M491.6 500.5V373.9M493.7 500.5V357.4M495.8 500.5V357.3M497.8 500.5V390.8M499.9 500.5V421.7M501.9 500.5V421.7M504 500.5V373.2M506.1 500.5V331.8M508.1 500.5V364.9M510.2 500.5V364.9M512.2 500.5V394.7M514.3 500.5V394.7M516.4 500.5V313M518.4 500.5V380.5M520.5 500.5V386.1M522.5 500.5V386.1M524.6 500.5V341.6M526.7 500.5V341.6M528.7 500.5V367.2M530.8 500.5V367.2M532.8 500.5V372.8M534.9 500.5V372.8M537 500.5V404.2M539 500.5V404.2M541.1 500.5V381.4M543.1 500.5V383M545.2 500.5V383M547.3 500.5V387.6M549.3 500.5V387.6M551.4 500.5V392.8M553.4 500.5V411.2M555.5 500.5V411.2M557.6 500.5V421.7M559.6 500.5V421.7M561.7 500.5V397M563.7 500.5V417.9M565.8 500.5V417.9M567.9 500.5V386.6M569.9 500.5V386.6M572 500.5V379.4M574 500.5V401.4M576.1 500.5V426.2M578.2 500.5V426.2M580.2 500.5V405.1M582.3 500.5V374.2M584.3 500.5V384.5M586.4 500.5V385.9M588.5 500.5V385.9M590.5 500.5V373.9M592.6 500.5V303M594.6 500.5V303M596.7 500.5V376.1M598.8 500.5V376.1M600.8 500.5V407.9M602.9 500.5V407.9M604.9 500.5V402.7M607 500.5V382.9M609.1 500.5V398M611.1 500.5V398M613.2 500.5V404.6M615.2 500.5V404.6M617.3 500.5V410.5M619.4 500.5V410.5M621.4 500.5V427.5M623.5 500.5V427.5M625.5 500.5V413.6M627.6 500.5V432.4M629.7 500.5V432.4M631.7 500.5V420.1M633.8 500.5V420.1M635.8 500.5V438.8M637.9 500.5V438.8M640 500.5V421.9M642 500.5V452M644.1 500.5V452M646.1 500.5V451.4M648.2 500.5V452.2M650.3 500.5V472.5M652.3 500.5V473.4M654.4 500.5V473.4M656.4 500.5V475.5M658.5 500.5V475.5M660.6 500.5V484.3M662.6 500.5V484.3M664.7 500.5V484.3M666.7 500.5V491.5M668.8 500.5V493.7M670.9 500.5V494.6M672.9 500.5V496.7" stroke="#43372b" stroke-width="0.5" fill="none" opacity="0.4"/></g>
<path d="M287 500.5V499.1H289.2V500.5zM289.2 500.5V494.7H291.4V500.5zM291.4 500.5V492.5H293.6V500.5zM293.6 500.5V494.8H295.8V500.5zM295.8 500.5V496.1H298V500.5zM298 500.5V496.2H300.2V500.5zM300.2 500.5V493.6H302.4V500.5zM302.4 500.5V491.4H304.6V500.5zM304.6 500.5V493H306.8V500.5zM306.8 500.5V491.9H309V500.5zM309 500.5V484.1H311.2V500.5zM311.2 500.5V475.8H313.4V500.5zM313.4 500.5V474.7H315.6V500.5zM315.6 500.5V485H317.8V500.5zM317.8 500.5V487.5H320V500.5zM320 500.5V484.8H322.2V500.5zM322.2 500.5V484.9H324.4V500.5zM324.4 500.5V482.9H326.6V500.5zM326.6 500.5V472.5H328.8V500.5zM328.8 500.5V473.6H331V500.5zM331 500.5V478.9H333.2V500.5zM333.2 500.5V484.8H335.4V500.5zM335.4 500.5V489.5H337.6V500.5zM337.6 500.5V492.4H339.8V500.5zM339.8 500.5V492.9H342V500.5zM342 500.5V485.2H344.2V500.5zM344.2 500.5V475.6H346.4V500.5zM346.4 500.5V473.3H348.6V500.5zM348.6 500.5V480.3H350.8V500.5zM350.8 500.5V489H353V500.5zM353 500.5V490.4H355.2V500.5zM355.2 500.5V470.5H357.4V500.5zM357.4 500.5V470.2H359.6V500.5zM359.6 500.5V481.3H361.8V500.5zM361.8 500.5V484.4H364V500.5zM364 500.5V487.7H366.2V500.5zM366.2 500.5V489.7H368.4V500.5zM368.4 500.5V481.5H370.6V500.5zM370.6 500.5V471.5H372.8V500.5zM372.8 500.5V473.8H375V500.5zM375 500.5V475.2H377.2V500.5zM377.2 500.5V455.5H379.4V500.5zM379.4 500.5V484.7H381.6V500.5zM381.6 500.5V481.2H383.8V500.5zM383.8 500.5V472.5H386V500.5zM386 500.5V483.9H388.2V500.5zM388.2 500.5V489.2H390.4V500.5zM403.6 500.5V498H405.8V500.5zM404.8 500.5V497.9H407V500.5zM407 500.5V495.1H409.2V500.5zM409.2 500.5V496.4H411.4V500.5zM411.4 500.5V495.1H413.6V500.5zM413.6 500.5V488.1H415.8V500.5zM415.8 500.5V460.5H418V500.5zM418 500.5V415.5H420.2V500.5zM420.2 500.5V440.5H422.4V500.5zM422.4 500.5V486.4H424.6V500.5zM424.6 500.5V487.7H426.8V500.5zM426.8 500.5V493H429V500.5zM429 500.5V459.5H431.2V500.5zM431.2 500.5V495.9H433.4V500.5zM433.4 500.5V496.2H435.6V500.5zM435.6 500.5V495.2H437.8V500.5zM437.8 500.5V490.2H440V500.5zM440 500.5V490.1H442.2V500.5zM442.2 500.5V493.7H444.4V500.5zM444.4 500.5V486H446.6V500.5zM446.6 500.5V483.9H448.8V500.5zM448.8 500.5V487.1H451V500.5zM451 500.5V481.6H453.2V500.5zM453.2 500.5V490.1H455.4V500.5zM455.4 500.5V489.4H457.6V500.5zM457.6 500.5V485.4H459.8V500.5zM459.8 500.5V487.4H462V500.5zM462 500.5V483.6H464.2V500.5zM464.2 500.5V492.9H466.4V500.5zM466.4 500.5V477.6H468.6V500.5zM468.6 500.5V491.3H470.8V500.5zM470.8 500.5V490.6H473V500.5zM473 500.5V494.1H475.2V500.5zM475.2 500.5V482.6H477.4V500.5zM477.4 500.5V470.5H479.6V500.5zM479.6 500.5V472.4H481.8V500.5zM481.8 500.5V480.3H484V500.5zM484 500.5V494.6H486.2V500.5zM486.2 500.5V492.9H488.4V500.5zM488.4 500.5V491.2H490.6V500.5zM490.6 500.5V491.7H492.8V500.5zM492.8 500.5V476.7H495V500.5zM495 500.5V483.7H497.2V500.5zM497.2 500.5V486H499.4V500.5zM499.4 500.5V483.7H501.6V500.5zM501.6 500.5V492.3H503.8V500.5zM503.8 500.5V493H506V500.5zM506 500.5V492H508.2V500.5zM508.2 500.5V482.7H510.4V500.5zM510.4 500.5V481.8H512.6V500.5zM512.6 500.5V478.5H514.8V500.5zM514.8 500.5V476.4H517V500.5zM517 500.5V493.2H519.2V500.5zM519.2 500.5V490.8H521.4V500.5zM521.4 500.5V487H523.6V500.5zM523.6 500.5V493.7H525.8V500.5zM525.8 500.5V489.8H528V500.5zM528 500.5V474H530.2V500.5zM530.2 500.5V469H532.4V500.5zM532.4 500.5V471.6H534.6V500.5zM534.6 500.5V484.3H536.8V500.5zM536.8 500.5V486H539V500.5zM539 500.5V475.2H541.2V500.5zM541.2 500.5V486.8H543.4V500.5zM543.4 500.5V481.2H545.6V500.5zM545.6 500.5V470.1H547.8V500.5zM547.8 500.5V487.5H550V500.5zM550 500.5V463.5H552.2V500.5zM552.2 500.5V485.6H554.4V500.5zM554.4 500.5V479H556.6V500.5zM556.6 500.5V479.8H558.8V500.5zM558.8 500.5V482.8H561V500.5zM561 500.5V482.5H563.2V500.5zM563.2 500.5V494.3H565.4V500.5zM565.4 500.5V492.1H567.6V500.5zM567.6 500.5V486.3H569.8V500.5zM569.8 500.5V492.2H572V500.5zM572 500.5V494.4H574.2V500.5zM574.2 500.5V494H576.4V500.5zM576.4 500.5V492.3H578.6V500.5zM578.6 500.5V488.8H580.8V500.5zM580.8 500.5V464.5H583V500.5zM583 500.5V482.5H585.2V500.5zM585.2 500.5V462.9H587.4V500.5zM587.4 500.5V482.9H589.6V500.5zM589.6 500.5V470.4H591.8V500.5zM591.8 500.5V482.8H594V500.5zM594 500.5V492.3H596.2V500.5zM596.2 500.5V489.5H598.4V500.5zM598.4 500.5V491.3H600.6V500.5zM600.6 500.5V462.5H602.8V500.5zM602.8 500.5V491H605V500.5zM605 500.5V471.3H607.2V500.5zM607.2 500.5V458.5H609.4V500.5zM609.4 500.5V494.9H611.6V500.5zM611.6 500.5V478.5H613.8V500.5zM613.8 500.5V465.9H616V500.5zM616 500.5V369.5H618.2V500.5zM618.2 500.5V479.8H620.4V500.5zM620.4 500.5V494.2H622.6V500.5zM622.6 500.5V487.5H624.8V500.5zM624.8 500.5V494H627V500.5zM627 500.5V485.9H629.2V500.5zM629.2 500.5V495.8H631.4V500.5zM631.4 500.5V496.1H633.6V500.5zM633.6 500.5V483.1H635.8V500.5zM635.8 500.5V462H638V500.5zM638 500.5V355.5H640.2V500.5zM640.2 500.5V479.6H642.4V500.5zM642.4 500.5V485.3H644.6V500.5zM644.6 500.5V399.5H646.8V500.5zM646.8 500.5V480H649V500.5zM649 500.5V470.6H651.2V500.5zM651.2 500.5V492.7H653.4V500.5zM653.4 500.5V485.2H655.6V500.5zM655.6 500.5V487.6H657.8V500.5zM657.8 500.5V494.7H660V500.5zM660 500.5V457H662.2V500.5zM662.2 500.5V476.7H664.4V500.5zM664.4 500.5V494.3H666.6V500.5zM666.6 500.5V485.7H668.8V500.5zM668.8 500.5V495.5H671V500.5zM671 500.5V498.4H673.2V500.5z" fill="#f2cb7c"/>
<g clip-path="url(#c0r)"><path d="M287 500.5V499.1H289.2V500.5zM289.2 500.5V494.7H291.4V500.5zM291.4 500.5V492.5H293.6V500.5zM293.6 500.5V494.8H295.8V500.5zM295.8 500.5V496.1H298V500.5zM298 500.5V496.2H300.2V500.5zM300.2 500.5V493.6H302.4V500.5zM302.4 500.5V491.4H304.6V500.5zM304.6 500.5V493H306.8V500.5zM306.8 500.5V491.9H309V500.5zM309 500.5V484.1H311.2V500.5zM311.2 500.5V475.8H313.4V500.5zM313.4 500.5V474.7H315.6V500.5zM315.6 500.5V485H317.8V500.5zM317.8 500.5V487.5H320V500.5zM320 500.5V484.8H322.2V500.5zM322.2 500.5V484.9H324.4V500.5zM324.4 500.5V482.9H326.6V500.5zM326.6 500.5V472.5H328.8V500.5zM328.8 500.5V473.6H331V500.5zM331 500.5V478.9H333.2V500.5zM333.2 500.5V484.8H335.4V500.5zM335.4 500.5V489.5H337.6V500.5zM337.6 500.5V492.4H339.8V500.5zM339.8 500.5V492.9H342V500.5zM342 500.5V485.2H344.2V500.5zM344.2 500.5V475.6H346.4V500.5zM346.4 500.5V473.3H348.6V500.5zM348.6 500.5V480.3H350.8V500.5zM350.8 500.5V489H353V500.5zM353 500.5V490.4H355.2V500.5zM355.2 500.5V470.5H357.4V500.5zM357.4 500.5V470.2H359.6V500.5zM359.6 500.5V481.3H361.8V500.5zM361.8 500.5V484.4H364V500.5zM364 500.5V487.7H366.2V500.5zM366.2 500.5V489.7H368.4V500.5zM368.4 500.5V481.5H370.6V500.5zM370.6 500.5V471.5H372.8V500.5zM372.8 500.5V473.8H375V500.5zM375 500.5V475.2H377.2V500.5zM377.2 500.5V455.5H379.4V500.5zM379.4 500.5V484.7H381.6V500.5zM381.6 500.5V481.2H383.8V500.5zM383.8 500.5V472.5H386V500.5zM386 500.5V483.9H388.2V500.5zM388.2 500.5V489.2H390.4V500.5zM403.6 500.5V498H405.8V500.5zM404.8 500.5V497.9H407V500.5zM407 500.5V495.1H409.2V500.5zM409.2 500.5V496.4H411.4V500.5zM411.4 500.5V495.1H413.6V500.5zM413.6 500.5V488.1H415.8V500.5zM415.8 500.5V460.5H418V500.5zM418 500.5V415.5H420.2V500.5zM420.2 500.5V440.5H422.4V500.5zM422.4 500.5V486.4H424.6V500.5zM424.6 500.5V487.7H426.8V500.5zM426.8 500.5V493H429V500.5zM429 500.5V459.5H431.2V500.5zM431.2 500.5V495.9H433.4V500.5zM433.4 500.5V496.2H435.6V500.5zM435.6 500.5V495.2H437.8V500.5zM437.8 500.5V490.2H440V500.5zM440 500.5V490.1H442.2V500.5zM442.2 500.5V493.7H444.4V500.5zM444.4 500.5V486H446.6V500.5zM446.6 500.5V483.9H448.8V500.5zM448.8 500.5V487.1H451V500.5zM451 500.5V481.6H453.2V500.5zM453.2 500.5V490.1H455.4V500.5zM455.4 500.5V489.4H457.6V500.5zM457.6 500.5V485.4H459.8V500.5zM459.8 500.5V487.4H462V500.5zM462 500.5V483.6H464.2V500.5zM464.2 500.5V492.9H466.4V500.5zM466.4 500.5V477.6H468.6V500.5zM468.6 500.5V491.3H470.8V500.5zM470.8 500.5V490.6H473V500.5zM473 500.5V494.1H475.2V500.5zM475.2 500.5V482.6H477.4V500.5zM477.4 500.5V470.5H479.6V500.5zM479.6 500.5V472.4H481.8V500.5zM481.8 500.5V480.3H484V500.5zM484 500.5V494.6H486.2V500.5zM486.2 500.5V492.9H488.4V500.5zM488.4 500.5V491.2H490.6V500.5zM490.6 500.5V491.7H492.8V500.5zM492.8 500.5V476.7H495V500.5zM495 500.5V483.7H497.2V500.5zM497.2 500.5V486H499.4V500.5zM499.4 500.5V483.7H501.6V500.5zM501.6 500.5V492.3H503.8V500.5zM503.8 500.5V493H506V500.5zM506 500.5V492H508.2V500.5zM508.2 500.5V482.7H510.4V500.5zM510.4 500.5V481.8H512.6V500.5zM512.6 500.5V478.5H514.8V500.5zM514.8 500.5V476.4H517V500.5zM517 500.5V493.2H519.2V500.5zM519.2 500.5V490.8H521.4V500.5zM521.4 500.5V487H523.6V500.5zM523.6 500.5V493.7H525.8V500.5zM525.8 500.5V489.8H528V500.5zM528 500.5V474H530.2V500.5zM530.2 500.5V469H532.4V500.5zM532.4 500.5V471.6H534.6V500.5zM534.6 500.5V484.3H536.8V500.5zM536.8 500.5V486H539V500.5zM539 500.5V475.2H541.2V500.5zM541.2 500.5V486.8H543.4V500.5zM543.4 500.5V481.2H545.6V500.5zM545.6 500.5V470.1H547.8V500.5zM547.8 500.5V487.5H550V500.5zM550 500.5V463.5H552.2V500.5zM552.2 500.5V485.6H554.4V500.5zM554.4 500.5V479H556.6V500.5zM556.6 500.5V479.8H558.8V500.5zM558.8 500.5V482.8H561V500.5zM561 500.5V482.5H563.2V500.5zM563.2 500.5V494.3H565.4V500.5zM565.4 500.5V492.1H567.6V500.5zM567.6 500.5V486.3H569.8V500.5zM569.8 500.5V492.2H572V500.5zM572 500.5V494.4H574.2V500.5zM574.2 500.5V494H576.4V500.5zM576.4 500.5V492.3H578.6V500.5zM578.6 500.5V488.8H580.8V500.5zM580.8 500.5V464.5H583V500.5zM583 500.5V482.5H585.2V500.5zM585.2 500.5V462.9H587.4V500.5zM587.4 500.5V482.9H589.6V500.5zM589.6 500.5V470.4H591.8V500.5zM591.8 500.5V482.8H594V500.5zM594 500.5V492.3H596.2V500.5zM596.2 500.5V489.5H598.4V500.5zM598.4 500.5V491.3H600.6V500.5zM600.6 500.5V462.5H602.8V500.5zM602.8 500.5V491H605V500.5zM605 500.5V471.3H607.2V500.5zM607.2 500.5V458.5H609.4V500.5zM609.4 500.5V494.9H611.6V500.5zM611.6 500.5V478.5H613.8V500.5zM613.8 500.5V465.9H616V500.5zM616 500.5V369.5H618.2V500.5zM618.2 500.5V479.8H620.4V500.5zM620.4 500.5V494.2H622.6V500.5zM622.6 500.5V487.5H624.8V500.5zM624.8 500.5V494H627V500.5zM627 500.5V485.9H629.2V500.5zM629.2 500.5V495.8H631.4V500.5zM631.4 500.5V496.1H633.6V500.5zM633.6 500.5V483.1H635.8V500.5zM635.8 500.5V462H638V500.5zM638 500.5V355.5H640.2V500.5zM640.2 500.5V479.6H642.4V500.5zM642.4 500.5V485.3H644.6V500.5zM644.6 500.5V399.5H646.8V500.5zM646.8 500.5V480H649V500.5zM649 500.5V470.6H651.2V500.5zM651.2 500.5V492.7H653.4V500.5zM653.4 500.5V485.2H655.6V500.5zM655.6 500.5V487.6H657.8V500.5zM657.8 500.5V494.7H660V500.5zM660 500.5V457H662.2V500.5zM662.2 500.5V476.7H664.4V500.5zM664.4 500.5V494.3H666.6V500.5zM666.6 500.5V485.7H668.8V500.5zM668.8 500.5V495.5H671V500.5zM671 500.5V498.4H673.2V500.5z" fill="#c08535"/></g>
<g clip-path="url(#c0t)"><path d="M287 500.5V499.1H289.2V500.5zM289.2 500.5V494.7H291.4V500.5zM291.4 500.5V492.5H293.6V500.5zM293.6 500.5V494.8H295.8V500.5zM295.8 500.5V496.1H298V500.5zM298 500.5V496.2H300.2V500.5zM300.2 500.5V493.6H302.4V500.5zM302.4 500.5V491.4H304.6V500.5zM304.6 500.5V493H306.8V500.5zM306.8 500.5V491.9H309V500.5zM309 500.5V484.1H311.2V500.5zM311.2 500.5V475.8H313.4V500.5zM313.4 500.5V474.7H315.6V500.5zM315.6 500.5V485H317.8V500.5zM317.8 500.5V487.5H320V500.5zM320 500.5V484.8H322.2V500.5zM322.2 500.5V484.9H324.4V500.5zM324.4 500.5V482.9H326.6V500.5zM326.6 500.5V472.5H328.8V500.5zM328.8 500.5V473.6H331V500.5zM331 500.5V478.9H333.2V500.5zM333.2 500.5V484.8H335.4V500.5zM335.4 500.5V489.5H337.6V500.5zM337.6 500.5V492.4H339.8V500.5zM339.8 500.5V492.9H342V500.5zM342 500.5V485.2H344.2V500.5zM344.2 500.5V475.6H346.4V500.5zM346.4 500.5V473.3H348.6V500.5zM348.6 500.5V480.3H350.8V500.5zM350.8 500.5V489H353V500.5zM353 500.5V490.4H355.2V500.5zM355.2 500.5V470.5H357.4V500.5zM357.4 500.5V470.2H359.6V500.5zM359.6 500.5V481.3H361.8V500.5zM361.8 500.5V484.4H364V500.5zM364 500.5V487.7H366.2V500.5zM366.2 500.5V489.7H368.4V500.5zM368.4 500.5V481.5H370.6V500.5zM370.6 500.5V471.5H372.8V500.5zM372.8 500.5V473.8H375V500.5zM375 500.5V475.2H377.2V500.5zM377.2 500.5V455.5H379.4V500.5zM379.4 500.5V484.7H381.6V500.5zM381.6 500.5V481.2H383.8V500.5zM383.8 500.5V472.5H386V500.5zM386 500.5V483.9H388.2V500.5zM388.2 500.5V489.2H390.4V500.5zM403.6 500.5V498H405.8V500.5zM404.8 500.5V497.9H407V500.5zM407 500.5V495.1H409.2V500.5zM409.2 500.5V496.4H411.4V500.5zM411.4 500.5V495.1H413.6V500.5zM413.6 500.5V488.1H415.8V500.5zM415.8 500.5V460.5H418V500.5zM418 500.5V415.5H420.2V500.5zM420.2 500.5V440.5H422.4V500.5zM422.4 500.5V486.4H424.6V500.5zM424.6 500.5V487.7H426.8V500.5zM426.8 500.5V493H429V500.5zM429 500.5V459.5H431.2V500.5zM431.2 500.5V495.9H433.4V500.5zM433.4 500.5V496.2H435.6V500.5zM435.6 500.5V495.2H437.8V500.5zM437.8 500.5V490.2H440V500.5zM440 500.5V490.1H442.2V500.5zM442.2 500.5V493.7H444.4V500.5zM444.4 500.5V486H446.6V500.5zM446.6 500.5V483.9H448.8V500.5zM448.8 500.5V487.1H451V500.5zM451 500.5V481.6H453.2V500.5zM453.2 500.5V490.1H455.4V500.5zM455.4 500.5V489.4H457.6V500.5zM457.6 500.5V485.4H459.8V500.5zM459.8 500.5V487.4H462V500.5zM462 500.5V483.6H464.2V500.5zM464.2 500.5V492.9H466.4V500.5zM466.4 500.5V477.6H468.6V500.5zM468.6 500.5V491.3H470.8V500.5zM470.8 500.5V490.6H473V500.5zM473 500.5V494.1H475.2V500.5zM475.2 500.5V482.6H477.4V500.5zM477.4 500.5V470.5H479.6V500.5zM479.6 500.5V472.4H481.8V500.5zM481.8 500.5V480.3H484V500.5zM484 500.5V494.6H486.2V500.5zM486.2 500.5V492.9H488.4V500.5zM488.4 500.5V491.2H490.6V500.5zM490.6 500.5V491.7H492.8V500.5zM492.8 500.5V476.7H495V500.5zM495 500.5V483.7H497.2V500.5zM497.2 500.5V486H499.4V500.5zM499.4 500.5V483.7H501.6V500.5zM501.6 500.5V492.3H503.8V500.5zM503.8 500.5V493H506V500.5zM506 500.5V492H508.2V500.5zM508.2 500.5V482.7H510.4V500.5zM510.4 500.5V481.8H512.6V500.5zM512.6 500.5V478.5H514.8V500.5zM514.8 500.5V476.4H517V500.5zM517 500.5V493.2H519.2V500.5zM519.2 500.5V490.8H521.4V500.5zM521.4 500.5V487H523.6V500.5zM523.6 500.5V493.7H525.8V500.5zM525.8 500.5V489.8H528V500.5zM528 500.5V474H530.2V500.5zM530.2 500.5V469H532.4V500.5zM532.4 500.5V471.6H534.6V500.5zM534.6 500.5V484.3H536.8V500.5zM536.8 500.5V486H539V500.5zM539 500.5V475.2H541.2V500.5zM541.2 500.5V486.8H543.4V500.5zM543.4 500.5V481.2H545.6V500.5zM545.6 500.5V470.1H547.8V500.5zM547.8 500.5V487.5H550V500.5zM550 500.5V463.5H552.2V500.5zM552.2 500.5V485.6H554.4V500.5zM554.4 500.5V479H556.6V500.5zM556.6 500.5V479.8H558.8V500.5zM558.8 500.5V482.8H561V500.5zM561 500.5V482.5H563.2V500.5zM563.2 500.5V494.3H565.4V500.5zM565.4 500.5V492.1H567.6V500.5zM567.6 500.5V486.3H569.8V500.5zM569.8 500.5V492.2H572V500.5zM572 500.5V494.4H574.2V500.5zM574.2 500.5V494H576.4V500.5zM576.4 500.5V492.3H578.6V500.5zM578.6 500.5V488.8H580.8V500.5zM580.8 500.5V464.5H583V500.5zM583 500.5V482.5H585.2V500.5zM585.2 500.5V462.9H587.4V500.5zM587.4 500.5V482.9H589.6V500.5zM589.6 500.5V470.4H591.8V500.5zM591.8 500.5V482.8H594V500.5zM594 500.5V492.3H596.2V500.5zM596.2 500.5V489.5H598.4V500.5zM598.4 500.5V491.3H600.6V500.5zM600.6 500.5V462.5H602.8V500.5zM602.8 500.5V491H605V500.5zM605 500.5V471.3H607.2V500.5zM607.2 500.5V458.5H609.4V500.5zM609.4 500.5V494.9H611.6V500.5zM611.6 500.5V478.5H613.8V500.5zM613.8 500.5V465.9H616V500.5zM616 500.5V369.5H618.2V500.5zM618.2 500.5V479.8H620.4V500.5zM620.4 500.5V494.2H622.6V500.5zM622.6 500.5V487.5H624.8V500.5zM624.8 500.5V494H627V500.5zM627 500.5V485.9H629.2V500.5zM629.2 500.5V495.8H631.4V500.5zM631.4 500.5V496.1H633.6V500.5zM633.6 500.5V483.1H635.8V500.5zM635.8 500.5V462H638V500.5zM638 500.5V355.5H640.2V500.5zM640.2 500.5V479.6H642.4V500.5zM642.4 500.5V485.3H644.6V500.5zM644.6 500.5V399.5H646.8V500.5zM646.8 500.5V480H649V500.5zM649 500.5V470.6H651.2V500.5zM651.2 500.5V492.7H653.4V500.5zM653.4 500.5V485.2H655.6V500.5zM655.6 500.5V487.6H657.8V500.5zM657.8 500.5V494.7H660V500.5zM660 500.5V457H662.2V500.5zM662.2 500.5V476.7H664.4V500.5zM664.4 500.5V494.3H666.6V500.5zM666.6 500.5V485.7H668.8V500.5zM668.8 500.5V495.5H671V500.5zM671 500.5V498.4H673.2V500.5z" fill="#c9a544"/>
<g clip-path="url(#c0r)"><path d="M287 500.5V499.1H289.2V500.5zM289.2 500.5V494.7H291.4V500.5zM291.4 500.5V492.5H293.6V500.5zM293.6 500.5V494.8H295.8V500.5zM295.8 500.5V496.1H298V500.5zM298 500.5V496.2H300.2V500.5zM300.2 500.5V493.6H302.4V500.5zM302.4 500.5V491.4H304.6V500.5zM304.6 500.5V493H306.8V500.5zM306.8 500.5V491.9H309V500.5zM309 500.5V484.1H311.2V500.5zM311.2 500.5V475.8H313.4V500.5zM313.4 500.5V474.7H315.6V500.5zM315.6 500.5V485H317.8V500.5zM317.8 500.5V487.5H320V500.5zM320 500.5V484.8H322.2V500.5zM322.2 500.5V484.9H324.4V500.5zM324.4 500.5V482.9H326.6V500.5zM326.6 500.5V472.5H328.8V500.5zM328.8 500.5V473.6H331V500.5zM331 500.5V478.9H333.2V500.5zM333.2 500.5V484.8H335.4V500.5zM335.4 500.5V489.5H337.6V500.5zM337.6 500.5V492.4H339.8V500.5zM339.8 500.5V492.9H342V500.5zM342 500.5V485.2H344.2V500.5zM344.2 500.5V475.6H346.4V500.5zM346.4 500.5V473.3H348.6V500.5zM348.6 500.5V480.3H350.8V500.5zM350.8 500.5V489H353V500.5zM353 500.5V490.4H355.2V500.5zM355.2 500.5V470.5H357.4V500.5zM357.4 500.5V470.2H359.6V500.5zM359.6 500.5V481.3H361.8V500.5zM361.8 500.5V484.4H364V500.5zM364 500.5V487.7H366.2V500.5zM366.2 500.5V489.7H368.4V500.5zM368.4 500.5V481.5H370.6V500.5zM370.6 500.5V471.5H372.8V500.5zM372.8 500.5V473.8H375V500.5zM375 500.5V475.2H377.2V500.5zM377.2 500.5V455.5H379.4V500.5zM379.4 500.5V484.7H381.6V500.5zM381.6 500.5V481.2H383.8V500.5zM383.8 500.5V472.5H386V500.5zM386 500.5V483.9H388.2V500.5zM388.2 500.5V489.2H390.4V500.5zM403.6 500.5V498H405.8V500.5zM404.8 500.5V497.9H407V500.5zM407 500.5V495.1H409.2V500.5zM409.2 500.5V496.4H411.4V500.5zM411.4 500.5V495.1H413.6V500.5zM413.6 500.5V488.1H415.8V500.5zM415.8 500.5V460.5H418V500.5zM418 500.5V415.5H420.2V500.5zM420.2 500.5V440.5H422.4V500.5zM422.4 500.5V486.4H424.6V500.5zM424.6 500.5V487.7H426.8V500.5zM426.8 500.5V493H429V500.5zM429 500.5V459.5H431.2V500.5zM431.2 500.5V495.9H433.4V500.5zM433.4 500.5V496.2H435.6V500.5zM435.6 500.5V495.2H437.8V500.5zM437.8 500.5V490.2H440V500.5zM440 500.5V490.1H442.2V500.5zM442.2 500.5V493.7H444.4V500.5zM444.4 500.5V486H446.6V500.5zM446.6 500.5V483.9H448.8V500.5zM448.8 500.5V487.1H451V500.5zM451 500.5V481.6H453.2V500.5zM453.2 500.5V490.1H455.4V500.5zM455.4 500.5V489.4H457.6V500.5zM457.6 500.5V485.4H459.8V500.5zM459.8 500.5V487.4H462V500.5zM462 500.5V483.6H464.2V500.5zM464.2 500.5V492.9H466.4V500.5zM466.4 500.5V477.6H468.6V500.5zM468.6 500.5V491.3H470.8V500.5zM470.8 500.5V490.6H473V500.5zM473 500.5V494.1H475.2V500.5zM475.2 500.5V482.6H477.4V500.5zM477.4 500.5V470.5H479.6V500.5zM479.6 500.5V472.4H481.8V500.5zM481.8 500.5V480.3H484V500.5zM484 500.5V494.6H486.2V500.5zM486.2 500.5V492.9H488.4V500.5zM488.4 500.5V491.2H490.6V500.5zM490.6 500.5V491.7H492.8V500.5zM492.8 500.5V476.7H495V500.5zM495 500.5V483.7H497.2V500.5zM497.2 500.5V486H499.4V500.5zM499.4 500.5V483.7H501.6V500.5zM501.6 500.5V492.3H503.8V500.5zM503.8 500.5V493H506V500.5zM506 500.5V492H508.2V500.5zM508.2 500.5V482.7H510.4V500.5zM510.4 500.5V481.8H512.6V500.5zM512.6 500.5V478.5H514.8V500.5zM514.8 500.5V476.4H517V500.5zM517 500.5V493.2H519.2V500.5zM519.2 500.5V490.8H521.4V500.5zM521.4 500.5V487H523.6V500.5zM523.6 500.5V493.7H525.8V500.5zM525.8 500.5V489.8H528V500.5zM528 500.5V474H530.2V500.5zM530.2 500.5V469H532.4V500.5zM532.4 500.5V471.6H534.6V500.5zM534.6 500.5V484.3H536.8V500.5zM536.8 500.5V486H539V500.5zM539 500.5V475.2H541.2V500.5zM541.2 500.5V486.8H543.4V500.5zM543.4 500.5V481.2H545.6V500.5zM545.6 500.5V470.1H547.8V500.5zM547.8 500.5V487.5H550V500.5zM550 500.5V463.5H552.2V500.5zM552.2 500.5V485.6H554.4V500.5zM554.4 500.5V479H556.6V500.5zM556.6 500.5V479.8H558.8V500.5zM558.8 500.5V482.8H561V500.5zM561 500.5V482.5H563.2V500.5zM563.2 500.5V494.3H565.4V500.5zM565.4 500.5V492.1H567.6V500.5zM567.6 500.5V486.3H569.8V500.5zM569.8 500.5V492.2H572V500.5zM572 500.5V494.4H574.2V500.5zM574.2 500.5V494H576.4V500.5zM576.4 500.5V492.3H578.6V500.5zM578.6 500.5V488.8H580.8V500.5zM580.8 500.5V464.5H583V500.5zM583 500.5V482.5H585.2V500.5zM585.2 500.5V462.9H587.4V500.5zM587.4 500.5V482.9H589.6V500.5zM589.6 500.5V470.4H591.8V500.5zM591.8 500.5V482.8H594V500.5zM594 500.5V492.3H596.2V500.5zM596.2 500.5V489.5H598.4V500.5zM598.4 500.5V491.3H600.6V500.5zM600.6 500.5V462.5H602.8V500.5zM602.8 500.5V491H605V500.5zM605 500.5V471.3H607.2V500.5zM607.2 500.5V458.5H609.4V500.5zM609.4 500.5V494.9H611.6V500.5zM611.6 500.5V478.5H613.8V500.5zM613.8 500.5V465.9H616V500.5zM616 500.5V369.5H618.2V500.5zM618.2 500.5V479.8H620.4V500.5zM620.4 500.5V494.2H622.6V500.5zM622.6 500.5V487.5H624.8V500.5zM624.8 500.5V494H627V500.5zM627 500.5V485.9H629.2V500.5zM629.2 500.5V495.8H631.4V500.5zM631.4 500.5V496.1H633.6V500.5zM633.6 500.5V483.1H635.8V500.5zM635.8 500.5V462H638V500.5zM638 500.5V355.5H640.2V500.5zM640.2 500.5V479.6H642.4V500.5zM642.4 500.5V485.3H644.6V500.5zM644.6 500.5V399.5H646.8V500.5zM646.8 500.5V480H649V500.5zM649 500.5V470.6H651.2V500.5zM651.2 500.5V492.7H653.4V500.5zM653.4 500.5V485.2H655.6V500.5zM655.6 500.5V487.6H657.8V500.5zM657.8 500.5V494.7H660V500.5zM660 500.5V457H662.2V500.5zM662.2 500.5V476.7H664.4V500.5zM664.4 500.5V494.3H666.6V500.5zM666.6 500.5V485.7H668.8V500.5zM668.8 500.5V495.5H671V500.5zM671 500.5V498.4H673.2V500.5z" fill="#b8923e"/></g></g>
<path d="M190 501.4L192 501.4L194 501.4L196 501.3L198 501.3L200 501.3L202 501.2L204 501.1L206 501.1L208 501L210 500.9L212 500.8L214 500.7L216 500.7L218 500.5L220 500.4L222 500.2L224 500.1L226 499.9L228 499.7L230 499.5L232 499.3L234 499.1L236 499L238 498.8L240 498.6L242 498.4L244 498.2L246 497.9L248 497.7L250 497.4L252 497L254 496.7L256 496.3L258 495.8L260 495.1L262 494.3L264 493.4L266 492.4L268 491.3L270 490.1L272 488.8L274 487.5L276 486L278 484.5L280 483L282 481.3L284 479.2L286 476.9L288 474.3L290 471.5L292 468.6L294 465.6L296 462.4L298 458.9L300 455.1L302 451L304 446.7L306 442.2L308 437.4L310 432.3L312 427L314 421.5L316 416.1L318 410.6L320 405L322 399.1L324 393.2L326 387.4L328 382L330 377L332 372.4L334 367.9L336 363.6L338 359.6L340 355.9L342 352.7L344 349.9L346 347.3L348 345.1L350 343.5L352 342.2L354 341L356 340.2L358 340L360 340.4L362 341.1L364 342L366 343.1L368 344.6L370 346.6L372 349L374 351.6L376 354.5L378 358L380 362.1L382 366.4L384 370.8L386 375.2L388 379.7L390 384.4L392 389.1L394 393.5L396 397.5L398 401.4L400 405.2L402 408.7L404 411.7L406 414.2L408 416.6L410 418.8L412 420.8L414 422.5L416 423.8L418 424.7L420 425.4L422 426.1L424 426.6L426 426.9L428 427L430 426.6L432 425.9L434 425L436 424L438 422.6L440 420.8L442 418.8L444 416.6L446 414.3L448 411.6L450 408.6L452 405.4L454 402.1L456 398.8L458 395.3L460 391.5L462 387.7L464 384L466 380.5L468 377.2L470 374L472 370.9L474 367.9L476 365.1L478 362.6L480 360.5L482 358.6L484 356.8L486 355.2L488 353.9L490 353L492 352.4L494 351.9L496 351.6L498 351.5L500 351.9L502 352.6L504 353.5L506 354.5L508 355.7L510 357.1L512 358.6L514 360.2L516 361.8L518 363.4L520 365L522 366.8L524 368.6L526 370.3L528 371.8L530 373L532 374.1L534 375.2L536 376.2L538 377.1L540 377.7L542 378L544 377.8L546 377.1L548 376L550 374.6L552 373L554 371.3L556 369.6L558 367.6L560 365.3L562 362.7L564 360.1L566 357.4L568 354.9L570 352.2L572 349.3L574 346.5L576 343.7L578 341.2L580 339L582 337.1L584 335.3L586 333.8L588 332.8L590 331.8L592 331L594 330.6L596 330.6L598 331L600 331.8L602 332.8L604 333.9L606 335.5L608 337.5L610 339.8L612 342.3L614 345.2L616 348.8L618 352.8L620 357.3L622 361.8L624 366.6L626 371.8L628 377.4L630 383L632 388.9L634 395L636 401.2L638 407.3L640 413L642 418.3L644 423.3L646 428.2L648 433.1L650 438L652 443.1L654 448.4L656 453.6L658 458.6L660 463L662 467L664 470.9L666 474.5L668 477.7L670 480.5L672 483L674 485.2L676 487.2L678 489L680 490.5L682 491.8L684 493L686 494.1L688 495L690 495.7" fill="none" stroke="#427db4" stroke-width="2.6" stroke-linejoin="round" stroke-linecap="round"/>
</g>
<rect x="108" y="46" width="611" height="454.9" fill="none" stroke="#262626" stroke-width="1.5"/>
<path d="M269 500.9v6M400.8 500.9v6M532.8 500.9v6M664.7 500.9v6M108 500.5h-6M108 449.4h-6M108 398.3h-6M108 347.2h-6M108 296.1h-6M108 245h-6M108 193.9h-6M108 142.8h-6M108 91.7h-6" stroke="#222" stroke-width="1.4" fill="none"/>
<g font-family='DejaVu Sans, Liberation Sans, sans-serif' font-size="17.1" fill="#111" stroke="#111" stroke-width="0.25">
<text x="269" y="526.2" text-anchor="middle">0.1kb</text>
<text x="400.8" y="526.2" text-anchor="middle">10kb</text>
<text x="532.8" y="526.2" text-anchor="middle">1Mb</text>
<text x="664.7" y="526.2" text-anchor="middle">100Mb</text>
<text x="96" y="507.5" text-anchor="end">0.0000</text>
<text x="96" y="456.4" text-anchor="end">0.0025</text>
<text x="96" y="405.3" text-anchor="end">0.0050</text>
<text x="96" y="354.2" text-anchor="end">0.0075</text>
<text x="96" y="303.1" text-anchor="end">0.0100</text>
<text x="96" y="252" text-anchor="end">0.0125</text>
<text x="96" y="200.9" text-anchor="end">0.0150</text>
<text x="96" y="149.8" text-anchor="end">0.0175</text>
<text x="96" y="98.7" text-anchor="end">0.0200</text>
<text x="413.5" y="549.6" text-anchor="middle">Distance to nearest SV breakpoint (log10(bp))</text>
<text transform="translate(25.2 273.4) rotate(-90)" text-anchor="middle">Density</text>
<rect x="116.5" y="54.5" width="181" height="80" rx="3.4" fill="#fff" fill-opacity="0.8" stroke="#dcdcdc" stroke-opacity="0.8" stroke-width="1.4"/>
<rect x="123.4" y="62.2" width="34.2" height="12" fill="#8f1b15" stroke="none"/>
<text x="171.3" y="74.2">Non-clustered</text>
<rect x="123.4" y="87.2" width="34.2" height="12" fill="#7fabb0" stroke="none"/>
<text x="171.3" y="99.2">kataegis</text>
<rect x="123.4" y="112.2" width="34.2" height="12" fill="#f2cb7c" stroke="none"/>
<text x="171.3" y="124.2">kyklonas</text>
</g>
<defs><clipPath id="c1a"><rect x="824.6" y="45.5" width="588.9" height="439"/></clipPath>
<clipPath id="c1r"><path d="M1078 484.5V484H1080.3V483.4H1082.6V482.8H1084.9V482.2H1087.2V481.6H1089.5V481.1H1091.8V480.5H1094.1V480H1096.4V479.4H1098.7V478.9H1101V478.2H1103.3V477.6H1105.6V476.9H1107.9V476.3H1110.2V475.5H1112.5V474.8H1114.8V474H1117.1V473.1H1119.4V472.1H1121.7V471.1H1124V470.1H1126.3V469.2H1128.6V468.1H1130.9V467.2H1133.2V466.3H1135.5V465.4H1137.8V464.5H1140.1V463.7H1142.4V462.8H1144.7V461.6H1147V459.7H1149.3V457.8H1151.6V455.2H1153.9V452.4H1156.2V450H1158.5V446.3H1160.8V442.9H1163.1V438.7H1165.4V433.8H1167.7V428.4H1170V423.3H1172.3V417.7H1174.6V412.1H1176.9V405.6H1179.2V399.7H1181.5V394.2H1183.8V388.3H1186.1V380.6H1188.4V372.1H1190.7V363.5H1193V354H1195.3V344.9H1197.6V336.7H1199.9V328.8H1202.2V322H1204.5V310.5H1206.8V293.2H1209.1V276H1211.4V257.9H1213.7V235.7H1216V222.4H1218.3V207.8H1220.6V190.9H1222.9V176.4H1225.2V163.1H1227.5V148.9H1229.8V133.9H1232.1V121.4H1234.4V109.1H1236.7V89.5H1239V79.9H1241.3V72.8H1243.6V68.6H1245.9V65H1248.2V65.4H1250.5V67.3H1252.8V69.5H1255.1V74.4H1257.4V83.9H1259.7V106.3H1262V121.9H1264.3V146.6H1266.6V171.9H1268.9V216.4H1271.2V238H1273.5V268.5H1275.8V297.3H1278.1V319.8H1280.4V339.9H1282.7V356.9H1285V375.7H1287.3V390.3H1289.6V406.6H1291.9V421.2H1294.2V430.5H1296.5V437.6H1298.8V444.2H1301.1V449.6H1303.4V455.2H1305.7V459.5H1308V462.7H1310.3V465.6H1312.6V468.1H1314.9V470H1317.2V471.5H1319.5V472.6H1321.8V473.6H1324.1V474.4H1326.4V475.2H1328.7V476H1331V476.6H1333.3V477.2H1335.6V477.9H1337.9V478.4H1340.2V478.9H1342.5V479.4H1344.8V480H1347.1V480.6H1349.4V481.2H1351.7V481.8H1354V482.4H1356.3V483H1358.6V483.7H1360.9V484.5H1363.2V484.5z"/></clipPath>
<clipPath id="c1t"><path d="M968 484.5V484.2H970V484.5zM970 484.5V483.6H972.1V484.5zM972.1 484.5V482.7H974.1V484.5zM974.1 484.5V481.8H976.2V484.5zM976.2 484.5V481.5H978.2V484.5zM978.2 484.5V480.1H980.3V484.5zM980.3 484.5V479.6H982.3V484.5zM982.3 484.5V478.3H984.4V484.5zM984.4 484.5V477.3H986.4V484.5zM986.4 484.5V474.9H988.5V484.5zM988.5 484.5V475.1H990.5V484.5zM990.5 484.5V473.2H992.6V484.5zM992.6 484.5V471.2H994.6V484.5zM994.6 484.5V468.2H996.7V484.5zM996.7 484.5V465.6H998.7V484.5zM998.7 484.5V466.9H1000.8V484.5zM1000.8 484.5V460.4H1002.8V484.5zM1002.8 484.5V459.7H1004.9V484.5zM1004.9 484.5V452.9H1006.9V484.5zM1006.9 484.5V452.3H1009V484.5zM1009 484.5V454.3H1011V484.5zM1011 484.5V441.5H1013.1V484.5zM1013.1 484.5V448.5H1015.1V484.5zM1015.1 484.5V443.5H1017.2V484.5zM1017.2 484.5V436.8H1019.2V484.5zM1019.2 484.5V439.1H1021.3V484.5zM1021.3 484.5V439.4H1023.3V484.5zM1023.3 484.5V427.7H1025.4V484.5zM1025.4 484.5V436.1H1027.4V484.5zM1027.4 484.5V429.1H1029.5V484.5zM1029.5 484.5V423H1031.5V484.5zM1031.5 484.5V430.8H1033.6V484.5zM1033.6 484.5V417.3H1035.6V484.5zM1035.6 484.5V413.2H1037.7V484.5zM1037.7 484.5V418H1039.7V484.5zM1039.7 484.5V415.2H1041.8V484.5zM1041.8 484.5V414.8H1043.8V484.5zM1043.8 484.5V422.7H1045.9V484.5zM1045.9 484.5V408.7H1047.9V484.5zM1047.9 484.5V416.7H1050V484.5zM1050 484.5V413.6H1052V484.5zM1052 484.5V402.9H1054.1V484.5zM1054.1 484.5V397.6H1056.1V484.5zM1056.1 484.5V409.6H1058.2V484.5zM1058.2 484.5V393.9H1060.2V484.5zM1060.2 484.5V391.6H1062.3V484.5zM1062.3 484.5V399.9H1064.3V484.5zM1064.3 484.5V383H1066.4V484.5zM1066.4 484.5V399.5H1068.4V484.5zM1068.4 484.5V404.1H1070.5V484.5zM1070.5 484.5V407.5H1072.5V484.5zM1072.5 484.5V396.6H1074.6V484.5zM1074.6 484.5V396.4H1076.6V484.5zM1076.6 484.5V406H1078.7V484.5zM1078.7 484.5V406.1H1080.7V484.5zM1080.7 484.5V382H1082.8V484.5zM1082.8 484.5V409.6H1084.8V484.5zM1084.8 484.5V412.2H1086.9V484.5zM1086.9 484.5V416.4H1088.9V484.5zM1088.9 484.5V401H1091V484.5zM1091 484.5V410.8H1093V484.5zM1093 484.5V408.9H1095.1V484.5zM1095.1 484.5V401H1097.1V484.5zM1097.1 484.5V414H1099.2V484.5zM1099.2 484.5V402.5H1101.2V484.5zM1101.2 484.5V429.1H1103.3V484.5zM1103.3 484.5V421H1105.3V484.5zM1105.3 484.5V402.3H1107.4V484.5zM1107.4 484.5V416.7H1109.4V484.5zM1109.4 484.5V409.7H1111.5V484.5zM1111.5 484.5V431.6H1113.5V484.5zM1113.5 484.5V407.4H1115.6V484.5zM1115.6 484.5V424.3H1117.6V484.5zM1117.6 484.5V345.5H1119.7V484.5zM1119.7 484.5V407H1121.7V484.5zM1121.7 484.5V415.1H1123.8V484.5zM1123.8 484.5V410.6H1125.8V484.5zM1125.8 484.5V396.3H1127.9V484.5zM1127.9 484.5V406.8H1129.9V484.5zM1129.9 484.5V419.6H1132V484.5zM1132 484.5V342H1134V484.5zM1134 484.5V409.3H1136.1V484.5zM1136.1 484.5V406.6H1138.1V484.5zM1138.1 484.5V353.2H1140.2V484.5zM1140.2 484.5V395.2H1142.2V484.5zM1142.2 484.5V333.9H1144.3V484.5zM1144.3 484.5V402.1H1146.3V484.5zM1146.3 484.5V405.7H1148.4V484.5zM1148.4 484.5V395.2H1150.4V484.5zM1150.4 484.5V390.8H1152.5V484.5zM1152.5 484.5V352H1154.5V484.5zM1154.5 484.5V403H1156.6V484.5zM1156.6 484.5V410.2H1158.6V484.5zM1158.6 484.5V354.5H1160.7V484.5zM1160.7 484.5V399.5H1162.7V484.5zM1162.7 484.5V370.1H1164.8V484.5zM1164.8 484.5V402.9H1166.8V484.5zM1166.8 484.5V392H1168.9V484.5zM1168.9 484.5V338H1170.9V484.5zM1170.9 484.5V399.5H1173V484.5zM1173 484.5V323.2H1175V484.5zM1175 484.5V370.4H1177.1V484.5zM1177.1 484.5V400.9H1179.1V484.5zM1179.1 484.5V370.4H1181.2V484.5zM1181.2 484.5V334.5H1183.2V484.5zM1183.2 484.5V409.8H1185.3V484.5zM1185.3 484.5V405.9H1187.3V484.5zM1187.3 484.5V341H1189.4V484.5zM1189.4 484.5V410.9H1191.4V484.5zM1191.4 484.5V347H1193.5V484.5zM1193.5 484.5V382.5H1195.5V484.5zM1195.5 484.5V331.6H1197.6V484.5zM1197.6 484.5V403.9H1199.6V484.5zM1199.6 484.5V376.2H1201.7V484.5zM1201.7 484.5V389.7H1203.7V484.5zM1203.7 484.5V240.8H1205.8V484.5zM1205.8 484.5V377.4H1207.8V484.5zM1207.8 484.5V367.9H1209.9V484.5zM1209.9 484.5V362.3H1211.9V484.5zM1211.9 484.5V375.3H1214V484.5zM1214 484.5V370.9H1216V484.5zM1216 484.5V320.8H1218.1V484.5zM1218.1 484.5V339.7H1220.1V484.5zM1220.1 484.5V368.9H1222.2V484.5zM1222.2 484.5V355.7H1224.2V484.5zM1224.2 484.5V343H1226.3V484.5zM1226.3 484.5V356.4H1228.3V484.5zM1228.3 484.5V372.8H1230.4V484.5zM1230.4 484.5V368.8H1232.4V484.5zM1232.4 484.5V294.5H1234.5V484.5zM1234.5 484.5V363.1H1236.5V484.5zM1236.5 484.5V320.3H1238.6V484.5zM1238.6 484.5V343.1H1240.6V484.5zM1240.6 484.5V344.6H1242.7V484.5zM1242.7 484.5V365.2H1244.7V484.5zM1244.7 484.5V237H1246.8V484.5zM1246.8 484.5V304.5H1248.8V484.5zM1248.8 484.5V369.5H1250.9V484.5zM1250.9 484.5V307H1252.9V484.5zM1252.9 484.5V329.2H1255V484.5zM1255 484.5V373.5H1257V484.5zM1257 484.5V382.1H1259.1V484.5zM1259.1 484.5V350.7H1261.1V484.5zM1261.1 484.5V365.4H1263.2V484.5zM1263.2 484.5V388.4H1265.2V484.5zM1265.2 484.5V367.5H1267.3V484.5zM1267.3 484.5V413H1269.3V484.5zM1269.3 484.5V405.7H1271.4V484.5zM1271.4 484.5V408H1273.4V484.5zM1273.4 484.5V391.6H1275.5V484.5zM1275.5 484.5V363.5H1277.5V484.5zM1277.5 484.5V403.2H1279.6V484.5zM1279.6 484.5V418.8H1281.6V484.5zM1281.6 484.5V423.9H1283.7V484.5zM1283.7 484.5V441.5H1285.7V484.5zM1285.7 484.5V446H1287.8V484.5zM1287.8 484.5V445.9H1289.8V484.5zM1289.8 484.5V441.6H1291.9V484.5zM1291.9 484.5V455.9H1293.9V484.5zM1293.9 484.5V463H1296V484.5zM1296 484.5V453.3H1298V484.5zM1298 484.5V433.5H1300.1V484.5zM1300.1 484.5V459.4H1302.1V484.5zM1302.1 484.5V463.6H1304.2V484.5zM1304.2 484.5V464H1306.2V484.5zM1306.2 484.5V466.3H1308.3V484.5zM1308.3 484.5V474.2H1310.3V484.5zM1310.3 484.5V473.2H1312.4V484.5zM1312.4 484.5V456H1314.4V484.5zM1314.4 484.5V475.2H1316.5V484.5zM1316.5 484.5V477.7H1318.5V484.5zM1318.5 484.5V480.8H1320.6V484.5zM1320.6 484.5V483.9H1322.6V484.5z"/></clipPath>
</defs>
<g clip-path="url(#c1a)">
<path id="c1pr" d="M1078 484.5V484H1080.3V483.4H1082.6V482.8H1084.9V482.2H1087.2V481.6H1089.5V481.1H1091.8V480.5H1094.1V480H1096.4V479.4H1098.7V478.9H1101V478.2H1103.3V477.6H1105.6V476.9H1107.9V476.3H1110.2V475.5H1112.5V474.8H1114.8V474H1117.1V473.1H1119.4V472.1H1121.7V471.1H1124V470.1H1126.3V469.2H1128.6V468.1H1130.9V467.2H1133.2V466.3H1135.5V465.4H1137.8V464.5H1140.1V463.7H1142.4V462.8H1144.7V461.6H1147V459.7H1149.3V457.8H1151.6V455.2H1153.9V452.4H1156.2V450H1158.5V446.3H1160.8V442.9H1163.1V438.7H1165.4V433.8H1167.7V428.4H1170V423.3H1172.3V417.7H1174.6V412.1H1176.9V405.6H1179.2V399.7H1181.5V394.2H1183.8V388.3H1186.1V380.6H1188.4V372.1H1190.7V363.5H1193V354H1195.3V344.9H1197.6V336.7H1199.9V328.8H1202.2V322H1204.5V310.5H1206.8V293.2H1209.1V276H1211.4V257.9H1213.7V235.7H1216V222.4H1218.3V207.8H1220.6V190.9H1222.9V176.4H1225.2V163.1H1227.5V148.9H1229.8V133.9H1232.1V121.4H1234.4V109.1H1236.7V89.5H1239V79.9H1241.3V72.8H1243.6V68.6H1245.9V65H1248.2V65.4H1250.5V67.3H1252.8V69.5H1255.1V74.4H1257.4V83.9H1259.7V106.3H1262V121.9H1264.3V146.6H1266.6V171.9H1268.9V216.4H1271.2V238H1273.5V268.5H1275.8V297.3H1278.1V319.8H1280.4V339.9H1282.7V356.9H1285V375.7H1287.3V390.3H1289.6V406.6H1291.9V421.2H1294.2V430.5H1296.5V437.6H1298.8V444.2H1301.1V449.6H1303.4V455.2H1305.7V459.5H1308V462.7H1310.3V465.6H1312.6V468.1H1314.9V470H1317.2V471.5H1319.5V472.6H1321.8V473.6H1324.1V474.4H1326.4V475.2H1328.7V476H1331V476.6H1333.3V477.2H1335.6V477.9H1337.9V478.4H1340.2V478.9H1342.5V479.4H1344.8V480H1347.1V480.6H1349.4V481.2H1351.7V481.8H1354V482.4H1356.3V483H1358.6V483.7H1360.9V484.5H1363.2V484.5z" fill="#98211a"/>
<path d="M1091.8 484.5V481.1M1094.1 484.5V480.5M1096.4 484.5V480M1098.7 484.5V479.4M1101 484.5V478.9M1103.3 484.5V478.2M1105.6 484.5V477.6M1107.9 484.5V476.9M1110.2 484.5V476.3M1112.5 484.5V475.5M1114.8 484.5V474.8M1117.1 484.5V474M1119.4 484.5V473.1M1121.7 484.5V472.1M1124 484.5V471.1M1126.3 484.5V470.1M1128.6 484.5V469.2M1130.9 484.5V468.1M1133.2 484.5V467.2M1135.5 484.5V466.3M1137.8 484.5V465.4M1140.1 484.5V464.5M1142.4 484.5V463.7M1144.7 484.5V462.8M1147 484.5V461.6M1149.3 484.5V459.7M1151.6 484.5V457.8M1153.9 484.5V455.2M1156.2 484.5V452.4M1158.5 484.5V450M1160.8 484.5V446.3M1163.1 484.5V442.9M1165.4 484.5V438.7M1167.7 484.5V433.8M1170 484.5V428.4M1172.3 484.5V423.3M1174.6 484.5V417.7M1176.9 484.5V412.1M1179.2 484.5V405.6M1181.5 484.5V399.7M1183.8 484.5V394.2M1186.1 484.5V388.3M1188.4 484.5V380.6M1190.7 484.5V372.1M1193 484.5V363.5M1195.3 484.5V354M1197.6 484.5V344.9M1199.9 484.5V336.7M1202.2 484.5V328.8M1204.5 484.5V322M1206.8 484.5V310.5M1209.1 484.5V293.2M1211.4 484.5V276M1213.7 484.5V257.9M1216 484.5V235.7M1218.3 484.5V222.4M1220.6 484.5V207.8M1222.9 484.5V190.9M1225.2 484.5V176.4M1227.5 484.5V163.1M1229.8 484.5V148.9M1232.1 484.5V133.9M1234.4 484.5V121.4M1236.7 484.5V109.1M1239 484.5V89.5M1241.3 484.5V79.9M1243.6 484.5V72.8M1245.9 484.5V68.6M1248.2 484.5V65.4M1250.5 484.5V67.3M1252.8 484.5V69.5M1255.1 484.5V74.4M1257.4 484.5V83.9M1259.7 484.5V106.3M1262 484.5V121.9M1264.3 484.5V146.6M1266.6 484.5V171.9M1268.9 484.5V216.4M1271.2 484.5V238M1273.5 484.5V268.5M1275.8 484.5V297.3M1278.1 484.5V319.8M1280.4 484.5V339.9M1282.7 484.5V356.9M1285 484.5V375.7M1287.3 484.5V390.3M1289.6 484.5V406.6M1291.9 484.5V421.2M1294.2 484.5V430.5M1296.5 484.5V437.6M1298.8 484.5V444.2M1301.1 484.5V449.6M1303.4 484.5V455.2M1305.7 484.5V459.5M1308 484.5V462.7M1310.3 484.5V465.6M1312.6 484.5V468.1M1314.9 484.5V470M1317.2 484.5V471.5M1319.5 484.5V472.6M1321.8 484.5V473.6M1324.1 484.5V474.4M1326.4 484.5V475.2M1328.7 484.5V476M1331 484.5V476.6M1333.3 484.5V477.2M1335.6 484.5V477.9M1337.9 484.5V478.4M1340.2 484.5V478.9M1342.5 484.5V479.4M1344.8 484.5V480M1347.1 484.5V480.6M1349.4 484.5V481.2" stroke="#5e0f0b" stroke-width="0.6" fill="none" opacity="0.5"/>
<path d="M968 484.5V484.2H970V484.5zM970 484.5V483.6H972.1V484.5zM972.1 484.5V482.7H974.1V484.5zM974.1 484.5V481.8H976.2V484.5zM976.2 484.5V481.5H978.2V484.5zM978.2 484.5V480.1H980.3V484.5zM980.3 484.5V479.6H982.3V484.5zM982.3 484.5V478.3H984.4V484.5zM984.4 484.5V477.3H986.4V484.5zM986.4 484.5V474.9H988.5V484.5zM988.5 484.5V475.1H990.5V484.5zM990.5 484.5V473.2H992.6V484.5zM992.6 484.5V471.2H994.6V484.5zM994.6 484.5V468.2H996.7V484.5zM996.7 484.5V465.6H998.7V484.5zM998.7 484.5V466.9H1000.8V484.5zM1000.8 484.5V460.4H1002.8V484.5zM1002.8 484.5V459.7H1004.9V484.5zM1004.9 484.5V452.9H1006.9V484.5zM1006.9 484.5V452.3H1009V484.5zM1009 484.5V454.3H1011V484.5zM1011 484.5V441.5H1013.1V484.5zM1013.1 484.5V448.5H1015.1V484.5zM1015.1 484.5V443.5H1017.2V484.5zM1017.2 484.5V436.8H1019.2V484.5zM1019.2 484.5V439.1H1021.3V484.5zM1021.3 484.5V439.4H1023.3V484.5zM1023.3 484.5V427.7H1025.4V484.5zM1025.4 484.5V436.1H1027.4V484.5zM1027.4 484.5V429.1H1029.5V484.5zM1029.5 484.5V423H1031.5V484.5zM1031.5 484.5V430.8H1033.6V484.5zM1033.6 484.5V417.3H1035.6V484.5zM1035.6 484.5V413.2H1037.7V484.5zM1037.7 484.5V418H1039.7V484.5zM1039.7 484.5V415.2H1041.8V484.5zM1041.8 484.5V414.8H1043.8V484.5zM1043.8 484.5V422.7H1045.9V484.5zM1045.9 484.5V408.7H1047.9V484.5zM1047.9 484.5V416.7H1050V484.5zM1050 484.5V413.6H1052V484.5zM1052 484.5V402.9H1054.1V484.5zM1054.1 484.5V397.6H1056.1V484.5zM1056.1 484.5V409.6H1058.2V484.5zM1058.2 484.5V393.9H1060.2V484.5zM1060.2 484.5V391.6H1062.3V484.5zM1062.3 484.5V399.9H1064.3V484.5zM1064.3 484.5V383H1066.4V484.5zM1066.4 484.5V399.5H1068.4V484.5zM1068.4 484.5V404.1H1070.5V484.5zM1070.5 484.5V407.5H1072.5V484.5zM1072.5 484.5V396.6H1074.6V484.5zM1074.6 484.5V396.4H1076.6V484.5zM1076.6 484.5V406H1078.7V484.5zM1078.7 484.5V406.1H1080.7V484.5zM1080.7 484.5V382H1082.8V484.5zM1082.8 484.5V409.6H1084.8V484.5zM1084.8 484.5V412.2H1086.9V484.5zM1086.9 484.5V416.4H1088.9V484.5zM1088.9 484.5V401H1091V484.5zM1091 484.5V410.8H1093V484.5zM1093 484.5V408.9H1095.1V484.5zM1095.1 484.5V401H1097.1V484.5zM1097.1 484.5V414H1099.2V484.5zM1099.2 484.5V402.5H1101.2V484.5zM1101.2 484.5V429.1H1103.3V484.5zM1103.3 484.5V421H1105.3V484.5zM1105.3 484.5V402.3H1107.4V484.5zM1107.4 484.5V416.7H1109.4V484.5zM1109.4 484.5V409.7H1111.5V484.5zM1111.5 484.5V431.6H1113.5V484.5zM1113.5 484.5V407.4H1115.6V484.5zM1115.6 484.5V424.3H1117.6V484.5zM1117.6 484.5V345.5H1119.7V484.5zM1119.7 484.5V407H1121.7V484.5zM1121.7 484.5V415.1H1123.8V484.5zM1123.8 484.5V410.6H1125.8V484.5zM1125.8 484.5V396.3H1127.9V484.5zM1127.9 484.5V406.8H1129.9V484.5zM1129.9 484.5V419.6H1132V484.5zM1132 484.5V342H1134V484.5zM1134 484.5V409.3H1136.1V484.5zM1136.1 484.5V406.6H1138.1V484.5zM1138.1 484.5V353.2H1140.2V484.5zM1140.2 484.5V395.2H1142.2V484.5zM1142.2 484.5V333.9H1144.3V484.5zM1144.3 484.5V402.1H1146.3V484.5zM1146.3 484.5V405.7H1148.4V484.5zM1148.4 484.5V395.2H1150.4V484.5zM1150.4 484.5V390.8H1152.5V484.5zM1152.5 484.5V352H1154.5V484.5zM1154.5 484.5V403H1156.6V484.5zM1156.6 484.5V410.2H1158.6V484.5zM1158.6 484.5V354.5H1160.7V484.5zM1160.7 484.5V399.5H1162.7V484.5zM1162.7 484.5V370.1H1164.8V484.5zM1164.8 484.5V402.9H1166.8V484.5zM1166.8 484.5V392H1168.9V484.5zM1168.9 484.5V338H1170.9V484.5zM1170.9 484.5V399.5H1173V484.5zM1173 484.5V323.2H1175V484.5zM1175 484.5V370.4H1177.1V484.5zM1177.1 484.5V400.9H1179.1V484.5zM1179.1 484.5V370.4H1181.2V484.5zM1181.2 484.5V334.5H1183.2V484.5zM1183.2 484.5V409.8H1185.3V484.5zM1185.3 484.5V405.9H1187.3V484.5zM1187.3 484.5V341H1189.4V484.5zM1189.4 484.5V410.9H1191.4V484.5zM1191.4 484.5V347H1193.5V484.5zM1193.5 484.5V382.5H1195.5V484.5zM1195.5 484.5V331.6H1197.6V484.5zM1197.6 484.5V403.9H1199.6V484.5zM1199.6 484.5V376.2H1201.7V484.5zM1201.7 484.5V389.7H1203.7V484.5zM1203.7 484.5V240.8H1205.8V484.5zM1205.8 484.5V377.4H1207.8V484.5zM1207.8 484.5V367.9H1209.9V484.5zM1209.9 484.5V362.3H1211.9V484.5zM1211.9 484.5V375.3H1214V484.5zM1214 484.5V370.9H1216V484.5zM1216 484.5V320.8H1218.1V484.5zM1218.1 484.5V339.7H1220.1V484.5zM1220.1 484.5V368.9H1222.2V484.5zM1222.2 484.5V355.7H1224.2V484.5zM1224.2 484.5V343H1226.3V484.5zM1226.3 484.5V356.4H1228.3V484.5zM1228.3 484.5V372.8H1230.4V484.5zM1230.4 484.5V368.8H1232.4V484.5zM1232.4 484.5V294.5H1234.5V484.5zM1234.5 484.5V363.1H1236.5V484.5zM1236.5 484.5V320.3H1238.6V484.5zM1238.6 484.5V343.1H1240.6V484.5zM1240.6 484.5V344.6H1242.7V484.5zM1242.7 484.5V365.2H1244.7V484.5zM1244.7 484.5V237H1246.8V484.5zM1246.8 484.5V304.5H1248.8V484.5zM1248.8 484.5V369.5H1250.9V484.5zM1250.9 484.5V307H1252.9V484.5zM1252.9 484.5V329.2H1255V484.5zM1255 484.5V373.5H1257V484.5zM1257 484.5V382.1H1259.1V484.5zM1259.1 484.5V350.7H1261.1V484.5zM1261.1 484.5V365.4H1263.2V484.5zM1263.2 484.5V388.4H1265.2V484.5zM1265.2 484.5V367.5H1267.3V484.5zM1267.3 484.5V413H1269.3V484.5zM1269.3 484.5V405.7H1271.4V484.5zM1271.4 484.5V408H1273.4V484.5zM1273.4 484.5V391.6H1275.5V484.5zM1275.5 484.5V363.5H1277.5V484.5zM1277.5 484.5V403.2H1279.6V484.5zM1279.6 484.5V418.8H1281.6V484.5zM1281.6 484.5V423.9H1283.7V484.5zM1283.7 484.5V441.5H1285.7V484.5zM1285.7 484.5V446H1287.8V484.5zM1287.8 484.5V445.9H1289.8V484.5zM1289.8 484.5V441.6H1291.9V484.5zM1291.9 484.5V455.9H1293.9V484.5zM1293.9 484.5V463H1296V484.5zM1296 484.5V453.3H1298V484.5zM1298 484.5V433.5H1300.1V484.5zM1300.1 484.5V459.4H1302.1V484.5zM1302.1 484.5V463.6H1304.2V484.5zM1304.2 484.5V464H1306.2V484.5zM1306.2 484.5V466.3H1308.3V484.5zM1308.3 484.5V474.2H1310.3V484.5zM1310.3 484.5V473.2H1312.4V484.5zM1312.4 484.5V456H1314.4V484.5zM1314.4 484.5V475.2H1316.5V484.5zM1316.5 484.5V477.7H1318.5V484.5zM1318.5 484.5V480.8H1320.6V484.5zM1320.6 484.5V483.9H1322.6V484.5z" fill="#86b0b6"/>
<path d="M978.2 484.5V481.5M980.3 484.5V480.1M982.3 484.5V479.6M984.4 484.5V478.3M986.4 484.5V477.3M988.5 484.5V475.1M990.5 484.5V475.1M992.6 484.5V473.2M994.6 484.5V471.2M996.7 484.5V468.2M998.7 484.5V466.9M1000.8 484.5V466.9M1002.8 484.5V460.4M1004.9 484.5V459.7M1006.9 484.5V452.9M1009 484.5V454.3M1011 484.5V454.3M1013.1 484.5V448.5M1015.1 484.5V448.5M1017.2 484.5V443.5M1019.2 484.5V439.1M1021.3 484.5V439.4M1023.3 484.5V439.4M1025.4 484.5V436.1M1027.4 484.5V436.1M1029.5 484.5V429.1M1031.5 484.5V430.8M1033.6 484.5V430.8M1035.6 484.5V417.3M1037.7 484.5V418M1039.7 484.5V418M1041.8 484.5V415.2M1043.8 484.5V422.7M1045.9 484.5V422.7M1047.9 484.5V416.7M1050 484.5V416.7M1052 484.5V413.6M1054.1 484.5V402.9M1056.1 484.5V409.6M1058.2 484.5V409.6M1060.2 484.5V393.9M1062.3 484.5V399.9M1064.3 484.5V399.9M1066.4 484.5V399.5M1068.4 484.5V404.1M1070.5 484.5V407.5M1072.5 484.5V407.5M1074.6 484.5V396.6M1076.6 484.5V406M1078.7 484.5V406.1M1080.7 484.5V406.1M1082.8 484.5V409.6M1084.8 484.5V412.2M1086.9 484.5V416.4M1088.9 484.5V416.4M1091 484.5V410.8M1093 484.5V410.8M1095.1 484.5V408.9M1097.1 484.5V414M1099.2 484.5V414M1101.2 484.5V429.1M1103.3 484.5V429.1M1105.3 484.5V421M1107.4 484.5V416.7M1109.4 484.5V416.7M1111.5 484.5V431.6M1113.5 484.5V431.6M1115.6 484.5V424.3M1117.6 484.5V424.3M1119.7 484.5V407M1121.7 484.5V415.1M1123.8 484.5V415.1M1125.8 484.5V410.6M1127.9 484.5V406.8M1129.9 484.5V419.6M1132 484.5V419.6M1134 484.5V409.3M1136.1 484.5V409.3M1138.1 484.5V406.6M1140.2 484.5V395.2M1142.2 484.5V395.2M1144.3 484.5V402.1M1146.3 484.5V405.7M1148.4 484.5V405.7M1150.4 484.5V395.2M1152.5 484.5V390.8M1154.5 484.5V403M1156.6 484.5V410.2M1158.6 484.5V410.2M1160.7 484.5V399.5M1162.7 484.5V399.5M1164.8 484.5V402.9M1166.8 484.5V402.9M1168.9 484.5V392M1170.9 484.5V399.5M1173 484.5V399.5M1175 484.5V370.4M1177.1 484.5V400.9M1179.1 484.5V400.9M1181.2 484.5V370.4M1183.2 484.5V409.8M1185.3 484.5V409.8M1187.3 484.5V405.9M1189.4 484.5V410.9M1191.4 484.5V410.9M1193.5 484.5V382.5M1195.5 484.5V382.5M1197.6 484.5V403.9M1199.6 484.5V403.9M1201.7 484.5V389.7M1203.7 484.5V389.7M1205.8 484.5V377.4M1207.8 484.5V377.4M1209.9 484.5V367.9M1211.9 484.5V375.3M1214 484.5V375.3M1216 484.5V370.9M1218.1 484.5V339.7M1220.1 484.5V368.9M1222.2 484.5V368.9M1224.2 484.5V355.7M1226.3 484.5V356.4M1228.3 484.5V372.8M1230.4 484.5V372.8M1232.4 484.5V368.8M1234.5 484.5V363.1M1236.5 484.5V363.1M1238.6 484.5V343.1M1240.6 484.5V344.6M1242.7 484.5V365.2M1244.7 484.5V365.2M1246.8 484.5V304.5M1248.8 484.5V369.5M1250.9 484.5V369.5M1252.9 484.5V329.2M1255 484.5V373.5M1257 484.5V382.1M1259.1 484.5V382.1M1261.1 484.5V365.4M1263.2 484.5V388.4M1265.2 484.5V388.4M1267.3 484.5V413M1269.3 484.5V413M1271.4 484.5V408M1273.4 484.5V408M1275.5 484.5V391.6M1277.5 484.5V403.2M1279.6 484.5V418.8M1281.6 484.5V423.9M1283.7 484.5V441.5M1285.7 484.5V446M1287.8 484.5V446M1289.8 484.5V445.9M1291.9 484.5V455.9M1293.9 484.5V463M1296 484.5V463M1298 484.5V453.3M1300.1 484.5V459.4M1302.1 484.5V463.6M1304.2 484.5V464M1306.2 484.5V466.3M1308.3 484.5V474.2M1310.3 484.5V474.2M1312.4 484.5V473.2M1314.4 484.5V475.2M1316.5 484.5V477.7M1318.5 484.5V480.8" stroke="#5d8e95" stroke-width="0.5" fill="none" opacity="0.5"/>
<g clip-path="url(#c1r)"><path d="M968 484.5V484.2H970V484.5zM970 484.5V483.6H972.1V484.5zM972.1 484.5V482.7H974.1V484.5zM974.1 484.5V481.8H976.2V484.5zM976.2 484.5V481.5H978.2V484.5zM978.2 484.5V480.1H980.3V484.5zM980.3 484.5V479.6H982.3V484.5zM982.3 484.5V478.3H984.4V484.5zM984.4 484.5V477.3H986.4V484.5zM986.4 484.5V474.9H988.5V484.5zM988.5 484.5V475.1H990.5V484.5zM990.5 484.5V473.2H992.6V484.5zM992.6 484.5V471.2H994.6V484.5zM994.6 484.5V468.2H996.7V484.5zM996.7 484.5V465.6H998.7V484.5zM998.7 484.5V466.9H1000.8V484.5zM1000.8 484.5V460.4H1002.8V484.5zM1002.8 484.5V459.7H1004.9V484.5zM1004.9 484.5V452.9H1006.9V484.5zM1006.9 484.5V452.3H1009V484.5zM1009 484.5V454.3H1011V484.5zM1011 484.5V441.5H1013.1V484.5zM1013.1 484.5V448.5H1015.1V484.5zM1015.1 484.5V443.5H1017.2V484.5zM1017.2 484.5V436.8H1019.2V484.5zM1019.2 484.5V439.1H1021.3V484.5zM1021.3 484.5V439.4H1023.3V484.5zM1023.3 484.5V427.7H1025.4V484.5zM1025.4 484.5V436.1H1027.4V484.5zM1027.4 484.5V429.1H1029.5V484.5zM1029.5 484.5V423H1031.5V484.5zM1031.5 484.5V430.8H1033.6V484.5zM1033.6 484.5V417.3H1035.6V484.5zM1035.6 484.5V413.2H1037.7V484.5zM1037.7 484.5V418H1039.7V484.5zM1039.7 484.5V415.2H1041.8V484.5zM1041.8 484.5V414.8H1043.8V484.5zM1043.8 484.5V422.7H1045.9V484.5zM1045.9 484.5V408.7H1047.9V484.5zM1047.9 484.5V416.7H1050V484.5zM1050 484.5V413.6H1052V484.5zM1052 484.5V402.9H1054.1V484.5zM1054.1 484.5V397.6H1056.1V484.5zM1056.1 484.5V409.6H1058.2V484.5zM1058.2 484.5V393.9H1060.2V484.5zM1060.2 484.5V391.6H1062.3V484.5zM1062.3 484.5V399.9H1064.3V484.5zM1064.3 484.5V383H1066.4V484.5zM1066.4 484.5V399.5H1068.4V484.5zM1068.4 484.5V404.1H1070.5V484.5zM1070.5 484.5V407.5H1072.5V484.5zM1072.5 484.5V396.6H1074.6V484.5zM1074.6 484.5V396.4H1076.6V484.5zM1076.6 484.5V406H1078.7V484.5zM1078.7 484.5V406.1H1080.7V484.5zM1080.7 484.5V382H1082.8V484.5zM1082.8 484.5V409.6H1084.8V484.5zM1084.8 484.5V412.2H1086.9V484.5zM1086.9 484.5V416.4H1088.9V484.5zM1088.9 484.5V401H1091V484.5zM1091 484.5V410.8H1093V484.5zM1093 484.5V408.9H1095.1V484.5zM1095.1 484.5V401H1097.1V484.5zM1097.1 484.5V414H1099.2V484.5zM1099.2 484.5V402.5H1101.2V484.5zM1101.2 484.5V429.1H1103.3V484.5zM1103.3 484.5V421H1105.3V484.5zM1105.3 484.5V402.3H1107.4V484.5zM1107.4 484.5V416.7H1109.4V484.5zM1109.4 484.5V409.7H1111.5V484.5zM1111.5 484.5V431.6H1113.5V484.5zM1113.5 484.5V407.4H1115.6V484.5zM1115.6 484.5V424.3H1117.6V484.5zM1117.6 484.5V345.5H1119.7V484.5zM1119.7 484.5V407H1121.7V484.5zM1121.7 484.5V415.1H1123.8V484.5zM1123.8 484.5V410.6H1125.8V484.5zM1125.8 484.5V396.3H1127.9V484.5zM1127.9 484.5V406.8H1129.9V484.5zM1129.9 484.5V419.6H1132V484.5zM1132 484.5V342H1134V484.5zM1134 484.5V409.3H1136.1V484.5zM1136.1 484.5V406.6H1138.1V484.5zM1138.1 484.5V353.2H1140.2V484.5zM1140.2 484.5V395.2H1142.2V484.5zM1142.2 484.5V333.9H1144.3V484.5zM1144.3 484.5V402.1H1146.3V484.5zM1146.3 484.5V405.7H1148.4V484.5zM1148.4 484.5V395.2H1150.4V484.5zM1150.4 484.5V390.8H1152.5V484.5zM1152.5 484.5V352H1154.5V484.5zM1154.5 484.5V403H1156.6V484.5zM1156.6 484.5V410.2H1158.6V484.5zM1158.6 484.5V354.5H1160.7V484.5zM1160.7 484.5V399.5H1162.7V484.5zM1162.7 484.5V370.1H1164.8V484.5zM1164.8 484.5V402.9H1166.8V484.5zM1166.8 484.5V392H1168.9V484.5zM1168.9 484.5V338H1170.9V484.5zM1170.9 484.5V399.5H1173V484.5zM1173 484.5V323.2H1175V484.5zM1175 484.5V370.4H1177.1V484.5zM1177.1 484.5V400.9H1179.1V484.5zM1179.1 484.5V370.4H1181.2V484.5zM1181.2 484.5V334.5H1183.2V484.5zM1183.2 484.5V409.8H1185.3V484.5zM1185.3 484.5V405.9H1187.3V484.5zM1187.3 484.5V341H1189.4V484.5zM1189.4 484.5V410.9H1191.4V484.5zM1191.4 484.5V347H1193.5V484.5zM1193.5 484.5V382.5H1195.5V484.5zM1195.5 484.5V331.6H1197.6V484.5zM1197.6 484.5V403.9H1199.6V484.5zM1199.6 484.5V376.2H1201.7V484.5zM1201.7 484.5V389.7H1203.7V484.5zM1203.7 484.5V240.8H1205.8V484.5zM1205.8 484.5V377.4H1207.8V484.5zM1207.8 484.5V367.9H1209.9V484.5zM1209.9 484.5V362.3H1211.9V484.5zM1211.9 484.5V375.3H1214V484.5zM1214 484.5V370.9H1216V484.5zM1216 484.5V320.8H1218.1V484.5zM1218.1 484.5V339.7H1220.1V484.5zM1220.1 484.5V368.9H1222.2V484.5zM1222.2 484.5V355.7H1224.2V484.5zM1224.2 484.5V343H1226.3V484.5zM1226.3 484.5V356.4H1228.3V484.5zM1228.3 484.5V372.8H1230.4V484.5zM1230.4 484.5V368.8H1232.4V484.5zM1232.4 484.5V294.5H1234.5V484.5zM1234.5 484.5V363.1H1236.5V484.5zM1236.5 484.5V320.3H1238.6V484.5zM1238.6 484.5V343.1H1240.6V484.5zM1240.6 484.5V344.6H1242.7V484.5zM1242.7 484.5V365.2H1244.7V484.5zM1244.7 484.5V237H1246.8V484.5zM1246.8 484.5V304.5H1248.8V484.5zM1248.8 484.5V369.5H1250.9V484.5zM1250.9 484.5V307H1252.9V484.5zM1252.9 484.5V329.2H1255V484.5zM1255 484.5V373.5H1257V484.5zM1257 484.5V382.1H1259.1V484.5zM1259.1 484.5V350.7H1261.1V484.5zM1261.1 484.5V365.4H1263.2V484.5zM1263.2 484.5V388.4H1265.2V484.5zM1265.2 484.5V367.5H1267.3V484.5zM1267.3 484.5V413H1269.3V484.5zM1269.3 484.5V405.7H1271.4V484.5zM1271.4 484.5V408H1273.4V484.5zM1273.4 484.5V391.6H1275.5V484.5zM1275.5 484.5V363.5H1277.5V484.5zM1277.5 484.5V403.2H1279.6V484.5zM1279.6 484.5V418.8H1281.6V484.5zM1281.6 484.5V423.9H1283.7V484.5zM1283.7 484.5V441.5H1285.7V484.5zM1285.7 484.5V446H1287.8V484.5zM1287.8 484.5V445.9H1289.8V484.5zM1289.8 484.5V441.6H1291.9V484.5zM1291.9 484.5V455.9H1293.9V484.5zM1293.9 484.5V463H1296V484.5zM1296 484.5V453.3H1298V484.5zM1298 484.5V433.5H1300.1V484.5zM1300.1 484.5V459.4H1302.1V484.5zM1302.1 484.5V463.6H1304.2V484.5zM1304.2 484.5V464H1306.2V484.5zM1306.2 484.5V466.3H1308.3V484.5zM1308.3 484.5V474.2H1310.3V484.5zM1310.3 484.5V473.2H1312.4V484.5zM1312.4 484.5V456H1314.4V484.5zM1314.4 484.5V475.2H1316.5V484.5zM1316.5 484.5V477.7H1318.5V484.5zM1318.5 484.5V480.8H1320.6V484.5zM1320.6 484.5V483.9H1322.6V484.5z" fill="#6c5d4e"/><path d="M978.2 484.5V481.5M980.3 484.5V480.1M982.3 484.5V479.6M984.4 484.5V478.3M986.4 484.5V477.3M988.5 484.5V475.1M990.5 484.5V475.1M992.6 484.5V473.2M994.6 484.5V471.2M996.7 484.5V468.2M998.7 484.5V466.9M1000.8 484.5V466.9M1002.8 484.5V460.4M1004.9 484.5V459.7M1006.9 484.5V452.9M1009 484.5V454.3M1011 484.5V454.3M1013.1 484.5V448.5M1015.1 484.5V448.5M1017.2 484.5V443.5M1019.2 484.5V439.1M1021.3 484.5V439.4M1023.3 484.5V439.4M1025.4 484.5V436.1M1027.4 484.5V436.1M1029.5 484.5V429.1M1031.5 484.5V430.8M1033.6 484.5V430.8M1035.6 484.5V417.3M1037.7 484.5V418M1039.7 484.5V418M1041.8 484.5V415.2M1043.8 484.5V422.7M1045.9 484.5V422.7M1047.9 484.5V416.7M1050 484.5V416.7M1052 484.5V413.6M1054.1 484.5V402.9M1056.1 484.5V409.6M1058.2 484.5V409.6M1060.2 484.5V393.9M1062.3 484.5V399.9M1064.3 484.5V399.9M1066.4 484.5V399.5M1068.4 484.5V404.1M1070.5 484.5V407.5M1072.5 484.5V407.5M1074.6 484.5V396.6M1076.6 484.5V406M1078.7 484.5V406.1M1080.7 484.5V406.1M1082.8 484.5V409.6M1084.8 484.5V412.2M1086.9 484.5V416.4M1088.9 484.5V416.4M1091 484.5V410.8M1093 484.5V410.8M1095.1 484.5V408.9M1097.1 484.5V414M1099.2 484.5V414M1101.2 484.5V429.1M1103.3 484.5V429.1M1105.3 484.5V421M1107.4 484.5V416.7M1109.4 484.5V416.7M1111.5 484.5V431.6M1113.5 484.5V431.6M1115.6 484.5V424.3M1117.6 484.5V424.3M1119.7 484.5V407M1121.7 484.5V415.1M1123.8 484.5V415.1M1125.8 484.5V410.6M1127.9 484.5V406.8M1129.9 484.5V419.6M1132 484.5V419.6M1134 484.5V409.3M1136.1 484.5V409.3M1138.1 484.5V406.6M1140.2 484.5V395.2M1142.2 484.5V395.2M1144.3 484.5V402.1M1146.3 484.5V405.7M1148.4 484.5V405.7M1150.4 484.5V395.2M1152.5 484.5V390.8M1154.5 484.5V403M1156.6 484.5V410.2M1158.6 484.5V410.2M1160.7 484.5V399.5M1162.7 484.5V399.5M1164.8 484.5V402.9M1166.8 484.5V402.9M1168.9 484.5V392M1170.9 484.5V399.5M1173 484.5V399.5M1175 484.5V370.4M1177.1 484.5V400.9M1179.1 484.5V400.9M1181.2 484.5V370.4M1183.2 484.5V409.8M1185.3 484.5V409.8M1187.3 484.5V405.9M1189.4 484.5V410.9M1191.4 484.5V410.9M1193.5 484.5V382.5M1195.5 484.5V382.5M1197.6 484.5V403.9M1199.6 484.5V403.9M1201.7 484.5V389.7M1203.7 484.5V389.7M1205.8 484.5V377.4M1207.8 484.5V377.4M1209.9 484.5V367.9M1211.9 484.5V375.3M1214 484.5V375.3M1216 484.5V370.9M1218.1 484.5V339.7M1220.1 484.5V368.9M1222.2 484.5V368.9M1224.2 484.5V355.7M1226.3 484.5V356.4M1228.3 484.5V372.8M1230.4 484.5V372.8M1232.4 484.5V368.8M1234.5 484.5V363.1M1236.5 484.5V363.1M1238.6 484.5V343.1M1240.6 484.5V344.6M1242.7 484.5V365.2M1244.7 484.5V365.2M1246.8 484.5V304.5M1248.8 484.5V369.5M1250.9 484.5V369.5M1252.9 484.5V329.2M1255 484.5V373.5M1257 484.5V382.1M1259.1 484.5V382.1M1261.1 484.5V365.4M1263.2 484.5V388.4M1265.2 484.5V388.4M1267.3 484.5V413M1269.3 484.5V413M1271.4 484.5V408M1273.4 484.5V408M1275.5 484.5V391.6M1277.5 484.5V403.2M1279.6 484.5V418.8M1281.6 484.5V423.9M1283.7 484.5V441.5M1285.7 484.5V446M1287.8 484.5V446M1289.8 484.5V445.9M1291.9 484.5V455.9M1293.9 484.5V463M1296 484.5V463M1298 484.5V453.3M1300.1 484.5V459.4M1302.1 484.5V463.6M1304.2 484.5V464M1306.2 484.5V466.3M1308.3 484.5V474.2M1310.3 484.5V474.2M1312.4 484.5V473.2M1314.4 484.5V475.2M1316.5 484.5V477.7M1318.5 484.5V480.8" stroke="#43372b" stroke-width="0.5" fill="none" opacity="0.4"/></g>
<path d="M1030.4 484.5V483.8H1032.3V484.5zM1032.3 484.5V483.6H1034.2V484.5zM1034.2 484.5V482.4H1036.1V484.5zM1036.1 484.5V483.2H1038V484.5zM1038 484.5V483.1H1039.9V484.5zM1039.9 484.5V483H1041.8V484.5zM1041.8 484.5V483H1043.7V484.5zM1043.7 484.5V482.7H1045.6V484.5zM1045.6 484.5V480.3H1047.5V484.5zM1047.5 484.5V478.4H1049.4V484.5zM1049.4 484.5V482.7H1051.3V484.5zM1051.3 484.5V483H1053.2V484.5zM1053.2 484.5V479.8H1055.1V484.5zM1055.1 484.5V481.8H1057V484.5zM1057 484.5V481.2H1058.9V484.5zM1058.9 484.5V480.7H1060.8V484.5zM1060.8 484.5V479.6H1062.7V484.5zM1062.7 484.5V481.9H1064.6V484.5zM1064.6 484.5V477.7H1066.5V484.5zM1066.5 484.5V479.1H1068.4V484.5zM1068.4 484.5V483.2H1070.3V484.5zM1070.3 484.5V481.5H1072.2V484.5zM1072.2 484.5V480.6H1074.1V484.5zM1074.1 484.5V478.6H1076V484.5zM1076 484.5V479.5H1077.9V484.5zM1077.9 484.5V480.8H1079.8V484.5zM1079.8 484.5V479.4H1081.7V484.5zM1081.7 484.5V476.1H1083.6V484.5zM1083.6 484.5V476.5H1085.5V484.5zM1085.5 484.5V475.1H1087.4V484.5zM1087.4 484.5V462.3H1089.3V484.5zM1089.3 484.5V472.5H1091.2V484.5zM1091.2 484.5V480.2H1093.1V484.5zM1093.1 484.5V477.5H1095V484.5zM1095 484.5V477.1H1096.9V484.5zM1096.9 484.5V480.7H1098.8V484.5zM1098.8 484.5V479.3H1100.7V484.5zM1100.7 484.5V481.6H1102.6V484.5zM1102.6 484.5V482.8H1104.5V484.5zM1104.5 484.5V477.9H1106.4V484.5zM1106.4 484.5V473.4H1108.3V484.5zM1108.3 484.5V473.5H1110.2V484.5zM1110.2 484.5V477.3H1112.1V484.5zM1112.1 484.5V478.6H1114V484.5zM1114 484.5V474.9H1115.9V484.5zM1115.9 484.5V471.7H1117.8V484.5zM1117.8 484.5V465.9H1119.7V484.5zM1119.7 484.5V460.8H1121.6V484.5zM1121.6 484.5V468.9H1123.5V484.5zM1123.5 484.5V477.4H1125.4V484.5zM1125.4 484.5V477.5H1127.3V484.5zM1127.3 484.5V480.1H1129.2V484.5zM1129.2 484.5V472.1H1131.1V484.5zM1131.1 484.5V468.8H1133V484.5zM1133 484.5V464.2H1134.9V484.5zM1134.9 484.5V449.5H1136.8V484.5zM1136.8 484.5V462.7H1138.7V484.5zM1138.7 484.5V476.9H1140.6V484.5zM1140.6 484.5V474.5H1142.5V484.5zM1142.5 484.5V476.3H1144.4V484.5zM1144.4 484.5V477.7H1146.3V484.5zM1146.3 484.5V481.3H1148.2V484.5zM1148.2 484.5V480.2H1150.1V484.5zM1150.1 484.5V481.6H1152V484.5zM1152 484.5V478.4H1153.9V484.5zM1153.9 484.5V477.9H1155.8V484.5zM1155.8 484.5V476.3H1157.7V484.5zM1157.7 484.5V481.1H1159.6V484.5zM1159.6 484.5V478.6H1161.5V484.5zM1161.5 484.5V478.2H1163.4V484.5zM1163.4 484.5V481.3H1165.3V484.5zM1165.3 484.5V463.7H1167.2V484.5zM1167.2 484.5V469.8H1169.1V484.5zM1169.1 484.5V426H1171V484.5zM1171 484.5V455.8H1172.9V484.5zM1172.9 484.5V464.1H1174.8V484.5zM1174.8 484.5V481.7H1176.7V484.5zM1176.7 484.5V478.5H1178.6V484.5zM1178.6 484.5V477.6H1180.5V484.5zM1180.5 484.5V475.8H1182.4V484.5zM1182.4 484.5V478.8H1184.3V484.5zM1184.3 484.5V476.6H1186.2V484.5zM1186.2 484.5V476.8H1188.1V484.5zM1188.1 484.5V481.7H1190V484.5zM1190 484.5V474.9H1191.9V484.5zM1191.9 484.5V461.2H1193.8V484.5zM1193.8 484.5V469.9H1195.7V484.5zM1195.7 484.5V460.7H1197.6V484.5zM1197.6 484.5V455.4H1199.5V484.5zM1199.5 484.5V469.4H1201.4V484.5zM1201.4 484.5V470.6H1203.3V484.5zM1203.3 484.5V471.6H1205.2V484.5zM1205.2 484.5V473.5H1207.1V484.5zM1207.1 484.5V455.4H1209V484.5zM1209 484.5V466H1210.9V484.5zM1210.9 484.5V467.7H1212.8V484.5zM1212.8 484.5V461.9H1214.7V484.5zM1214.7 484.5V461.4H1216.6V484.5zM1216.6 484.5V479.5H1218.5V484.5zM1218.5 484.5V479.5H1220.4V484.5zM1220.4 484.5V473.9H1222.3V484.5zM1222.3 484.5V472.2H1224.2V484.5zM1224.2 484.5V479.8H1226.1V484.5zM1226.1 484.5V480H1228V484.5zM1228 484.5V469.7H1229.9V484.5zM1229.9 484.5V468.2H1231.8V484.5zM1231.8 484.5V467.5H1233.7V484.5zM1233.7 484.5V448.5H1235.6V484.5zM1235.6 484.5V478.6H1237.5V484.5zM1237.5 484.5V480.2H1239.4V484.5zM1239.4 484.5V479.2H1241.3V484.5zM1241.3 484.5V474.9H1243.2V484.5zM1243.2 484.5V474.5H1245.1V484.5zM1245.1 484.5V470.2H1247V484.5zM1247 484.5V480.3H1248.9V484.5zM1248.9 484.5V481.2H1250.8V484.5zM1250.8 484.5V474.7H1252.7V484.5zM1252.7 484.5V478.8H1254.6V484.5zM1254.6 484.5V477.4H1256.5V484.5zM1256.5 484.5V476.6H1258.4V484.5zM1258.4 484.5V480.7H1260.3V484.5zM1260.3 484.5V481.1H1262.2V484.5zM1262.2 484.5V456H1264.1V484.5zM1264.1 484.5V481.9H1266V484.5zM1266 484.5V476.8H1267.9V484.5zM1267.9 484.5V436H1269.8V484.5zM1269.8 484.5V454.5H1271.7V484.5zM1271.7 484.5V472.8H1273.6V484.5zM1273.6 484.5V473.7H1275.5V484.5zM1275.5 484.5V472.7H1277.4V484.5zM1277.4 484.5V476.2H1279.3V484.5zM1279.3 484.5V480.2H1281.2V484.5zM1281.2 484.5V408.5H1283.1V484.5zM1283.1 484.5V474.5H1285V484.5zM1285 484.5V474.3H1286.9V484.5zM1286.9 484.5V477.3H1288.8V484.5zM1288.8 484.5V477.6H1290.7V484.5zM1290.7 484.5V471.6H1292.6V484.5zM1292.6 484.5V471.3H1294.5V484.5zM1294.5 484.5V477.3H1296.4V484.5zM1296.4 484.5V481.6H1298.3V484.5zM1298.3 484.5V481.8H1300.2V484.5zM1300.2 484.5V481.3H1302.1V484.5zM1302.1 484.5V474.9H1304V484.5zM1304 484.5V476.7H1305.9V484.5zM1305.9 484.5V479.2H1307.8V484.5zM1307.8 484.5V480.4H1309.7V484.5zM1309.7 484.5V481.1H1311.6V484.5zM1311.6 484.5V478.2H1313.5V484.5zM1313.5 484.5V481.8H1315.4V484.5zM1315.4 484.5V387.2H1317.3V484.5zM1317.3 484.5V476.7H1319.2V484.5zM1319.2 484.5V476.8H1321.1V484.5zM1321.1 484.5V462H1323V484.5zM1323 484.5V482.4H1324.9V484.5zM1324.9 484.5V482.2H1326.8V484.5zM1326.8 484.5V477.3H1328.7V484.5zM1328.7 484.5V453.5H1330.6V484.5zM1330.6 484.5V474H1332.5V484.5zM1332.5 484.5V464.5H1334.4V484.5zM1334.4 484.5V369.8H1336.3V484.5zM1336.3 484.5V462.5H1338.2V484.5zM1338.2 484.5V478.1H1340.1V484.5zM1340.1 484.5V399.8H1342V484.5zM1342 484.5V480.6H1343.9V484.5zM1343.9 484.5V478.3H1345.8V484.5zM1345.8 484.5V483.1H1347.7V484.5zM1347.7 484.5V483.7H1349.6V484.5zM1349.6 484.5V483.6H1351.5V484.5zM1351.5 484.5V483.7H1353.4V484.5zM1353.4 484.5V459.8H1355.3V484.5zM1355.3 484.5V483H1357.2V484.5zM1357.2 484.5V483.6H1359.1V484.5zM1359.1 484.5V483.7H1361V484.5zM1361 484.5V484.4H1362.9V484.5z" fill="#f2cb7c"/>
<g clip-path="url(#c1r)"><path d="M1030.4 484.5V483.8H1032.3V484.5zM1032.3 484.5V483.6H1034.2V484.5zM1034.2 484.5V482.4H1036.1V484.5zM1036.1 484.5V483.2H1038V484.5zM1038 484.5V483.1H1039.9V484.5zM1039.9 484.5V483H1041.8V484.5zM1041.8 484.5V483H1043.7V484.5zM1043.7 484.5V482.7H1045.6V484.5zM1045.6 484.5V480.3H1047.5V484.5zM1047.5 484.5V478.4H1049.4V484.5zM1049.4 484.5V482.7H1051.3V484.5zM1051.3 484.5V483H1053.2V484.5zM1053.2 484.5V479.8H1055.1V484.5zM1055.1 484.5V481.8H1057V484.5zM1057 484.5V481.2H1058.9V484.5zM1058.9 484.5V480.7H1060.8V484.5zM1060.8 484.5V479.6H1062.7V484.5zM1062.7 484.5V481.9H1064.6V484.5zM1064.6 484.5V477.7H1066.5V484.5zM1066.5 484.5V479.1H1068.4V484.5zM1068.4 484.5V483.2H1070.3V484.5zM1070.3 484.5V481.5H1072.2V484.5zM1072.2 484.5V480.6H1074.1V484.5zM1074.1 484.5V478.6H1076V484.5zM1076 484.5V479.5H1077.9V484.5zM1077.9 484.5V480.8H1079.8V484.5zM1079.8 484.5V479.4H1081.7V484.5zM1081.7 484.5V476.1H1083.6V484.5zM1083.6 484.5V476.5H1085.5V484.5zM1085.5 484.5V475.1H1087.4V484.5zM1087.4 484.5V462.3H1089.3V484.5zM1089.3 484.5V472.5H1091.2V484.5zM1091.2 484.5V480.2H1093.1V484.5zM1093.1 484.5V477.5H1095V484.5zM1095 484.5V477.1H1096.9V484.5zM1096.9 484.5V480.7H1098.8V484.5zM1098.8 484.5V479.3H1100.7V484.5zM1100.7 484.5V481.6H1102.6V484.5zM1102.6 484.5V482.8H1104.5V484.5zM1104.5 484.5V477.9H1106.4V484.5zM1106.4 484.5V473.4H1108.3V484.5zM1108.3 484.5V473.5H1110.2V484.5zM1110.2 484.5V477.3H1112.1V484.5zM1112.1 484.5V478.6H1114V484.5zM1114 484.5V474.9H1115.9V484.5zM1115.9 484.5V471.7H1117.8V484.5zM1117.8 484.5V465.9H1119.7V484.5zM1119.7 484.5V460.8H1121.6V484.5zM1121.6 484.5V468.9H1123.5V484.5zM1123.5 484.5V477.4H1125.4V484.5zM1125.4 484.5V477.5H1127.3V484.5zM1127.3 484.5V480.1H1129.2V484.5zM1129.2 484.5V472.1H1131.1V484.5zM1131.1 484.5V468.8H1133V484.5zM1133 484.5V464.2H1134.9V484.5zM1134.9 484.5V449.5H1136.8V484.5zM1136.8 484.5V462.7H1138.7V484.5zM1138.7 484.5V476.9H1140.6V484.5zM1140.6 484.5V474.5H1142.5V484.5zM1142.5 484.5V476.3H1144.4V484.5zM1144.4 484.5V477.7H1146.3V484.5zM1146.3 484.5V481.3H1148.2V484.5zM1148.2 484.5V480.2H1150.1V484.5zM1150.1 484.5V481.6H1152V484.5zM1152 484.5V478.4H1153.9V484.5zM1153.9 484.5V477.9H1155.8V484.5zM1155.8 484.5V476.3H1157.7V484.5zM1157.7 484.5V481.1H1159.6V484.5zM1159.6 484.5V478.6H1161.5V484.5zM1161.5 484.5V478.2H1163.4V484.5zM1163.4 484.5V481.3H1165.3V484.5zM1165.3 484.5V463.7H1167.2V484.5zM1167.2 484.5V469.8H1169.1V484.5zM1169.1 484.5V426H1171V484.5zM1171 484.5V455.8H1172.9V484.5zM1172.9 484.5V464.1H1174.8V484.5zM1174.8 484.5V481.7H1176.7V484.5zM1176.7 484.5V478.5H1178.6V484.5zM1178.6 484.5V477.6H1180.5V484.5zM1180.5 484.5V475.8H1182.4V484.5zM1182.4 484.5V478.8H1184.3V484.5zM1184.3 484.5V476.6H1186.2V484.5zM1186.2 484.5V476.8H1188.1V484.5zM1188.1 484.5V481.7H1190V484.5zM1190 484.5V474.9H1191.9V484.5zM1191.9 484.5V461.2H1193.8V484.5zM1193.8 484.5V469.9H1195.7V484.5zM1195.7 484.5V460.7H1197.6V484.5zM1197.6 484.5V455.4H1199.5V484.5zM1199.5 484.5V469.4H1201.4V484.5zM1201.4 484.5V470.6H1203.3V484.5zM1203.3 484.5V471.6H1205.2V484.5zM1205.2 484.5V473.5H1207.1V484.5zM1207.1 484.5V455.4H1209V484.5zM1209 484.5V466H1210.9V484.5zM1210.9 484.5V467.7H1212.8V484.5zM1212.8 484.5V461.9H1214.7V484.5zM1214.7 484.5V461.4H1216.6V484.5zM1216.6 484.5V479.5H1218.5V484.5zM1218.5 484.5V479.5H1220.4V484.5zM1220.4 484.5V473.9H1222.3V484.5zM1222.3 484.5V472.2H1224.2V484.5zM1224.2 484.5V479.8H1226.1V484.5zM1226.1 484.5V480H1228V484.5zM1228 484.5V469.7H1229.9V484.5zM1229.9 484.5V468.2H1231.8V484.5zM1231.8 484.5V467.5H1233.7V484.5zM1233.7 484.5V448.5H1235.6V484.5zM1235.6 484.5V478.6H1237.5V484.5zM1237.5 484.5V480.2H1239.4V484.5zM1239.4 484.5V479.2H1241.3V484.5zM1241.3 484.5V474.9H1243.2V484.5zM1243.2 484.5V474.5H1245.1V484.5zM1245.1 484.5V470.2H1247V484.5zM1247 484.5V480.3H1248.9V484.5zM1248.9 484.5V481.2H1250.8V484.5zM1250.8 484.5V474.7H1252.7V484.5zM1252.7 484.5V478.8H1254.6V484.5zM1254.6 484.5V477.4H1256.5V484.5zM1256.5 484.5V476.6H1258.4V484.5zM1258.4 484.5V480.7H1260.3V484.5zM1260.3 484.5V481.1H1262.2V484.5zM1262.2 484.5V456H1264.1V484.5zM1264.1 484.5V481.9H1266V484.5zM1266 484.5V476.8H1267.9V484.5zM1267.9 484.5V436H1269.8V484.5zM1269.8 484.5V454.5H1271.7V484.5zM1271.7 484.5V472.8H1273.6V484.5zM1273.6 484.5V473.7H1275.5V484.5zM1275.5 484.5V472.7H1277.4V484.5zM1277.4 484.5V476.2H1279.3V484.5zM1279.3 484.5V480.2H1281.2V484.5zM1281.2 484.5V408.5H1283.1V484.5zM1283.1 484.5V474.5H1285V484.5zM1285 484.5V474.3H1286.9V484.5zM1286.9 484.5V477.3H1288.8V484.5zM1288.8 484.5V477.6H1290.7V484.5zM1290.7 484.5V471.6H1292.6V484.5zM1292.6 484.5V471.3H1294.5V484.5zM1294.5 484.5V477.3H1296.4V484.5zM1296.4 484.5V481.6H1298.3V484.5zM1298.3 484.5V481.8H1300.2V484.5zM1300.2 484.5V481.3H1302.1V484.5zM1302.1 484.5V474.9H1304V484.5zM1304 484.5V476.7H1305.9V484.5zM1305.9 484.5V479.2H1307.8V484.5zM1307.8 484.5V480.4H1309.7V484.5zM1309.7 484.5V481.1H1311.6V484.5zM1311.6 484.5V478.2H1313.5V484.5zM1313.5 484.5V481.8H1315.4V484.5zM1315.4 484.5V387.2H1317.3V484.5zM1317.3 484.5V476.7H1319.2V484.5zM1319.2 484.5V476.8H1321.1V484.5zM1321.1 484.5V462H1323V484.5zM1323 484.5V482.4H1324.9V484.5zM1324.9 484.5V482.2H1326.8V484.5zM1326.8 484.5V477.3H1328.7V484.5zM1328.7 484.5V453.5H1330.6V484.5zM1330.6 484.5V474H1332.5V484.5zM1332.5 484.5V464.5H1334.4V484.5zM1334.4 484.5V369.8H1336.3V484.5zM1336.3 484.5V462.5H1338.2V484.5zM1338.2 484.5V478.1H1340.1V484.5zM1340.1 484.5V399.8H1342V484.5zM1342 484.5V480.6H1343.9V484.5zM1343.9 484.5V478.3H1345.8V484.5zM1345.8 484.5V483.1H1347.7V484.5zM1347.7 484.5V483.7H1349.6V484.5zM1349.6 484.5V483.6H1351.5V484.5zM1351.5 484.5V483.7H1353.4V484.5zM1353.4 484.5V459.8H1355.3V484.5zM1355.3 484.5V483H1357.2V484.5zM1357.2 484.5V483.6H1359.1V484.5zM1359.1 484.5V483.7H1361V484.5zM1361 484.5V484.4H1362.9V484.5z" fill="#c08535"/></g>
<g clip-path="url(#c1t)"><path d="M1030.4 484.5V483.8H1032.3V484.5zM1032.3 484.5V483.6H1034.2V484.5zM1034.2 484.5V482.4H1036.1V484.5zM1036.1 484.5V483.2H1038V484.5zM1038 484.5V483.1H1039.9V484.5zM1039.9 484.5V483H1041.8V484.5zM1041.8 484.5V483H1043.7V484.5zM1043.7 484.5V482.7H1045.6V484.5zM1045.6 484.5V480.3H1047.5V484.5zM1047.5 484.5V478.4H1049.4V484.5zM1049.4 484.5V482.7H1051.3V484.5zM1051.3 484.5V483H1053.2V484.5zM1053.2 484.5V479.8H1055.1V484.5zM1055.1 484.5V481.8H1057V484.5zM1057 484.5V481.2H1058.9V484.5zM1058.9 484.5V480.7H1060.8V484.5zM1060.8 484.5V479.6H1062.7V484.5zM1062.7 484.5V481.9H1064.6V484.5zM1064.6 484.5V477.7H1066.5V484.5zM1066.5 484.5V479.1H1068.4V484.5zM1068.4 484.5V483.2H1070.3V484.5zM1070.3 484.5V481.5H1072.2V484.5zM1072.2 484.5V480.6H1074.1V484.5zM1074.1 484.5V478.6H1076V484.5zM1076 484.5V479.5H1077.9V484.5zM1077.9 484.5V480.8H1079.8V484.5zM1079.8 484.5V479.4H1081.7V484.5zM1081.7 484.5V476.1H1083.6V484.5zM1083.6 484.5V476.5H1085.5V484.5zM1085.5 484.5V475.1H1087.4V484.5zM1087.4 484.5V462.3H1089.3V484.5zM1089.3 484.5V472.5H1091.2V484.5zM1091.2 484.5V480.2H1093.1V484.5zM1093.1 484.5V477.5H1095V484.5zM1095 484.5V477.1H1096.9V484.5zM1096.9 484.5V480.7H1098.8V484.5zM1098.8 484.5V479.3H1100.7V484.5zM1100.7 484.5V481.6H1102.6V484.5zM1102.6 484.5V482.8H1104.5V484.5zM1104.5 484.5V477.9H1106.4V484.5zM1106.4 484.5V473.4H1108.3V484.5zM1108.3 484.5V473.5H1110.2V484.5zM1110.2 484.5V477.3H1112.1V484.5zM1112.1 484.5V478.6H1114V484.5zM1114 484.5V474.9H1115.9V484.5zM1115.9 484.5V471.7H1117.8V484.5zM1117.8 484.5V465.9H1119.7V484.5zM1119.7 484.5V460.8H1121.6V484.5zM1121.6 484.5V468.9H1123.5V484.5zM1123.5 484.5V477.4H1125.4V484.5zM1125.4 484.5V477.5H1127.3V484.5zM1127.3 484.5V480.1H1129.2V484.5zM1129.2 484.5V472.1H1131.1V484.5zM1131.1 484.5V468.8H1133V484.5zM1133 484.5V464.2H1134.9V484.5zM1134.9 484.5V449.5H1136.8V484.5zM1136.8 484.5V462.7H1138.7V484.5zM1138.7 484.5V476.9H1140.6V484.5zM1140.6 484.5V474.5H1142.5V484.5zM1142.5 484.5V476.3H1144.4V484.5zM1144.4 484.5V477.7H1146.3V484.5zM1146.3 484.5V481.3H1148.2V484.5zM1148.2 484.5V480.2H1150.1V484.5zM1150.1 484.5V481.6H1152V484.5zM1152 484.5V478.4H1153.9V484.5zM1153.9 484.5V477.9H1155.8V484.5zM1155.8 484.5V476.3H1157.7V484.5zM1157.7 484.5V481.1H1159.6V484.5zM1159.6 484.5V478.6H1161.5V484.5zM1161.5 484.5V478.2H1163.4V484.5zM1163.4 484.5V481.3H1165.3V484.5zM1165.3 484.5V463.7H1167.2V484.5zM1167.2 484.5V469.8H1169.1V484.5zM1169.1 484.5V426H1171V484.5zM1171 484.5V455.8H1172.9V484.5zM1172.9 484.5V464.1H1174.8V484.5zM1174.8 484.5V481.7H1176.7V484.5zM1176.7 484.5V478.5H1178.6V484.5zM1178.6 484.5V477.6H1180.5V484.5zM1180.5 484.5V475.8H1182.4V484.5zM1182.4 484.5V478.8H1184.3V484.5zM1184.3 484.5V476.6H1186.2V484.5zM1186.2 484.5V476.8H1188.1V484.5zM1188.1 484.5V481.7H1190V484.5zM1190 484.5V474.9H1191.9V484.5zM1191.9 484.5V461.2H1193.8V484.5zM1193.8 484.5V469.9H1195.7V484.5zM1195.7 484.5V460.7H1197.6V484.5zM1197.6 484.5V455.4H1199.5V484.5zM1199.5 484.5V469.4H1201.4V484.5zM1201.4 484.5V470.6H1203.3V484.5zM1203.3 484.5V471.6H1205.2V484.5zM1205.2 484.5V473.5H1207.1V484.5zM1207.1 484.5V455.4H1209V484.5zM1209 484.5V466H1210.9V484.5zM1210.9 484.5V467.7H1212.8V484.5zM1212.8 484.5V461.9H1214.7V484.5zM1214.7 484.5V461.4H1216.6V484.5zM1216.6 484.5V479.5H1218.5V484.5zM1218.5 484.5V479.5H1220.4V484.5zM1220.4 484.5V473.9H1222.3V484.5zM1222.3 484.5V472.2H1224.2V484.5zM1224.2 484.5V479.8H1226.1V484.5zM1226.1 484.5V480H1228V484.5zM1228 484.5V469.7H1229.9V484.5zM1229.9 484.5V468.2H1231.8V484.5zM1231.8 484.5V467.5H1233.7V484.5zM1233.7 484.5V448.5H1235.6V484.5zM1235.6 484.5V478.6H1237.5V484.5zM1237.5 484.5V480.2H1239.4V484.5zM1239.4 484.5V479.2H1241.3V484.5zM1241.3 484.5V474.9H1243.2V484.5zM1243.2 484.5V474.5H1245.1V484.5zM1245.1 484.5V470.2H1247V484.5zM1247 484.5V480.3H1248.9V484.5zM1248.9 484.5V481.2H1250.8V484.5zM1250.8 484.5V474.7H1252.7V484.5zM1252.7 484.5V478.8H1254.6V484.5zM1254.6 484.5V477.4H1256.5V484.5zM1256.5 484.5V476.6H1258.4V484.5zM1258.4 484.5V480.7H1260.3V484.5zM1260.3 484.5V481.1H1262.2V484.5zM1262.2 484.5V456H1264.1V484.5zM1264.1 484.5V481.9H1266V484.5zM1266 484.5V476.8H1267.9V484.5zM1267.9 484.5V436H1269.8V484.5zM1269.8 484.5V454.5H1271.7V484.5zM1271.7 484.5V472.8H1273.6V484.5zM1273.6 484.5V473.7H1275.5V484.5zM1275.5 484.5V472.7H1277.4V484.5zM1277.4 484.5V476.2H1279.3V484.5zM1279.3 484.5V480.2H1281.2V484.5zM1281.2 484.5V408.5H1283.1V484.5zM1283.1 484.5V474.5H1285V484.5zM1285 484.5V474.3H1286.9V484.5zM1286.9 484.5V477.3H1288.8V484.5zM1288.8 484.5V477.6H1290.7V484.5zM1290.7 484.5V471.6H1292.6V484.5zM1292.6 484.5V471.3H1294.5V484.5zM1294.5 484.5V477.3H1296.4V484.5zM1296.4 484.5V481.6H1298.3V484.5zM1298.3 484.5V481.8H1300.2V484.5zM1300.2 484.5V481.3H1302.1V484.5zM1302.1 484.5V474.9H1304V484.5zM1304 484.5V476.7H1305.9V484.5zM1305.9 484.5V479.2H1307.8V484.5zM1307.8 484.5V480.4H1309.7V484.5zM1309.7 484.5V481.1H1311.6V484.5zM1311.6 484.5V478.2H1313.5V484.5zM1313.5 484.5V481.8H1315.4V484.5zM1315.4 484.5V387.2H1317.3V484.5zM1317.3 484.5V476.7H1319.2V484.5zM1319.2 484.5V476.8H1321.1V484.5zM1321.1 484.5V462H1323V484.5zM1323 484.5V482.4H1324.9V484.5zM1324.9 484.5V482.2H1326.8V484.5zM1326.8 484.5V477.3H1328.7V484.5zM1328.7 484.5V453.5H1330.6V484.5zM1330.6 484.5V474H1332.5V484.5zM1332.5 484.5V464.5H1334.4V484.5zM1334.4 484.5V369.8H1336.3V484.5zM1336.3 484.5V462.5H1338.2V484.5zM1338.2 484.5V478.1H1340.1V484.5zM1340.1 484.5V399.8H1342V484.5zM1342 484.5V480.6H1343.9V484.5zM1343.9 484.5V478.3H1345.8V484.5zM1345.8 484.5V483.1H1347.7V484.5zM1347.7 484.5V483.7H1349.6V484.5zM1349.6 484.5V483.6H1351.5V484.5zM1351.5 484.5V483.7H1353.4V484.5zM1353.4 484.5V459.8H1355.3V484.5zM1355.3 484.5V483H1357.2V484.5zM1357.2 484.5V483.6H1359.1V484.5zM1359.1 484.5V483.7H1361V484.5zM1361 484.5V484.4H1362.9V484.5z" fill="#c9a544"/>
<g clip-path="url(#c1r)"><path d="M1030.4 484.5V483.8H1032.3V484.5zM1032.3 484.5V483.6H1034.2V484.5zM1034.2 484.5V482.4H1036.1V484.5zM1036.1 484.5V483.2H1038V484.5zM1038 484.5V483.1H1039.9V484.5zM1039.9 484.5V483H1041.8V484.5zM1041.8 484.5V483H1043.7V484.5zM1043.7 484.5V482.7H1045.6V484.5zM1045.6 484.5V480.3H1047.5V484.5zM1047.5 484.5V478.4H1049.4V484.5zM1049.4 484.5V482.7H1051.3V484.5zM1051.3 484.5V483H1053.2V484.5zM1053.2 484.5V479.8H1055.1V484.5zM1055.1 484.5V481.8H1057V484.5zM1057 484.5V481.2H1058.9V484.5zM1058.9 484.5V480.7H1060.8V484.5zM1060.8 484.5V479.6H1062.7V484.5zM1062.7 484.5V481.9H1064.6V484.5zM1064.6 484.5V477.7H1066.5V484.5zM1066.5 484.5V479.1H1068.4V484.5zM1068.4 484.5V483.2H1070.3V484.5zM1070.3 484.5V481.5H1072.2V484.5zM1072.2 484.5V480.6H1074.1V484.5zM1074.1 484.5V478.6H1076V484.5zM1076 484.5V479.5H1077.9V484.5zM1077.9 484.5V480.8H1079.8V484.5zM1079.8 484.5V479.4H1081.7V484.5zM1081.7 484.5V476.1H1083.6V484.5zM1083.6 484.5V476.5H1085.5V484.5zM1085.5 484.5V475.1H1087.4V484.5zM1087.4 484.5V462.3H1089.3V484.5zM1089.3 484.5V472.5H1091.2V484.5zM1091.2 484.5V480.2H1093.1V484.5zM1093.1 484.5V477.5H1095V484.5zM1095 484.5V477.1H1096.9V484.5zM1096.9 484.5V480.7H1098.8V484.5zM1098.8 484.5V479.3H1100.7V484.5zM1100.7 484.5V481.6H1102.6V484.5zM1102.6 484.5V482.8H1104.5V484.5zM1104.5 484.5V477.9H1106.4V484.5zM1106.4 484.5V473.4H1108.3V484.5zM1108.3 484.5V473.5H1110.2V484.5zM1110.2 484.5V477.3H1112.1V484.5zM1112.1 484.5V478.6H1114V484.5zM1114 484.5V474.9H1115.9V484.5zM1115.9 484.5V471.7H1117.8V484.5zM1117.8 484.5V465.9H1119.7V484.5zM1119.7 484.5V460.8H1121.6V484.5zM1121.6 484.5V468.9H1123.5V484.5zM1123.5 484.5V477.4H1125.4V484.5zM1125.4 484.5V477.5H1127.3V484.5zM1127.3 484.5V480.1H1129.2V484.5zM1129.2 484.5V472.1H1131.1V484.5zM1131.1 484.5V468.8H1133V484.5zM1133 484.5V464.2H1134.9V484.5zM1134.9 484.5V449.5H1136.8V484.5zM1136.8 484.5V462.7H1138.7V484.5zM1138.7 484.5V476.9H1140.6V484.5zM1140.6 484.5V474.5H1142.5V484.5zM1142.5 484.5V476.3H1144.4V484.5zM1144.4 484.5V477.7H1146.3V484.5zM1146.3 484.5V481.3H1148.2V484.5zM1148.2 484.5V480.2H1150.1V484.5zM1150.1 484.5V481.6H1152V484.5zM1152 484.5V478.4H1153.9V484.5zM1153.9 484.5V477.9H1155.8V484.5zM1155.8 484.5V476.3H1157.7V484.5zM1157.7 484.5V481.1H1159.6V484.5zM1159.6 484.5V478.6H1161.5V484.5zM1161.5 484.5V478.2H1163.4V484.5zM1163.4 484.5V481.3H1165.3V484.5zM1165.3 484.5V463.7H1167.2V484.5zM1167.2 484.5V469.8H1169.1V484.5zM1169.1 484.5V426H1171V484.5zM1171 484.5V455.8H1172.9V484.5zM1172.9 484.5V464.1H1174.8V484.5zM1174.8 484.5V481.7H1176.7V484.5zM1176.7 484.5V478.5H1178.6V484.5zM1178.6 484.5V477.6H1180.5V484.5zM1180.5 484.5V475.8H1182.4V484.5zM1182.4 484.5V478.8H1184.3V484.5zM1184.3 484.5V476.6H1186.2V484.5zM1186.2 484.5V476.8H1188.1V484.5zM1188.1 484.5V481.7H1190V484.5zM1190 484.5V474.9H1191.9V484.5zM1191.9 484.5V461.2H1193.8V484.5zM1193.8 484.5V469.9H1195.7V484.5zM1195.7 484.5V460.7H1197.6V484.5zM1197.6 484.5V455.4H1199.5V484.5zM1199.5 484.5V469.4H1201.4V484.5zM1201.4 484.5V470.6H1203.3V484.5zM1203.3 484.5V471.6H1205.2V484.5zM1205.2 484.5V473.5H1207.1V484.5zM1207.1 484.5V455.4H1209V484.5zM1209 484.5V466H1210.9V484.5zM1210.9 484.5V467.7H1212.8V484.5zM1212.8 484.5V461.9H1214.7V484.5zM1214.7 484.5V461.4H1216.6V484.5zM1216.6 484.5V479.5H1218.5V484.5zM1218.5 484.5V479.5H1220.4V484.5zM1220.4 484.5V473.9H1222.3V484.5zM1222.3 484.5V472.2H1224.2V484.5zM1224.2 484.5V479.8H1226.1V484.5zM1226.1 484.5V480H1228V484.5zM1228 484.5V469.7H1229.9V484.5zM1229.9 484.5V468.2H1231.8V484.5zM1231.8 484.5V467.5H1233.7V484.5zM1233.7 484.5V448.5H1235.6V484.5zM1235.6 484.5V478.6H1237.5V484.5zM1237.5 484.5V480.2H1239.4V484.5zM1239.4 484.5V479.2H1241.3V484.5zM1241.3 484.5V474.9H1243.2V484.5zM1243.2 484.5V474.5H1245.1V484.5zM1245.1 484.5V470.2H1247V484.5zM1247 484.5V480.3H1248.9V484.5zM1248.9 484.5V481.2H1250.8V484.5zM1250.8 484.5V474.7H1252.7V484.5zM1252.7 484.5V478.8H1254.6V484.5zM1254.6 484.5V477.4H1256.5V484.5zM1256.5 484.5V476.6H1258.4V484.5zM1258.4 484.5V480.7H1260.3V484.5zM1260.3 484.5V481.1H1262.2V484.5zM1262.2 484.5V456H1264.1V484.5zM1264.1 484.5V481.9H1266V484.5zM1266 484.5V476.8H1267.9V484.5zM1267.9 484.5V436H1269.8V484.5zM1269.8 484.5V454.5H1271.7V484.5zM1271.7 484.5V472.8H1273.6V484.5zM1273.6 484.5V473.7H1275.5V484.5zM1275.5 484.5V472.7H1277.4V484.5zM1277.4 484.5V476.2H1279.3V484.5zM1279.3 484.5V480.2H1281.2V484.5zM1281.2 484.5V408.5H1283.1V484.5zM1283.1 484.5V474.5H1285V484.5zM1285 484.5V474.3H1286.9V484.5zM1286.9 484.5V477.3H1288.8V484.5zM1288.8 484.5V477.6H1290.7V484.5zM1290.7 484.5V471.6H1292.6V484.5zM1292.6 484.5V471.3H1294.5V484.5zM1294.5 484.5V477.3H1296.4V484.5zM1296.4 484.5V481.6H1298.3V484.5zM1298.3 484.5V481.8H1300.2V484.5zM1300.2 484.5V481.3H1302.1V484.5zM1302.1 484.5V474.9H1304V484.5zM1304 484.5V476.7H1305.9V484.5zM1305.9 484.5V479.2H1307.8V484.5zM1307.8 484.5V480.4H1309.7V484.5zM1309.7 484.5V481.1H1311.6V484.5zM1311.6 484.5V478.2H1313.5V484.5zM1313.5 484.5V481.8H1315.4V484.5zM1315.4 484.5V387.2H1317.3V484.5zM1317.3 484.5V476.7H1319.2V484.5zM1319.2 484.5V476.8H1321.1V484.5zM1321.1 484.5V462H1323V484.5zM1323 484.5V482.4H1324.9V484.5zM1324.9 484.5V482.2H1326.8V484.5zM1326.8 484.5V477.3H1328.7V484.5zM1328.7 484.5V453.5H1330.6V484.5zM1330.6 484.5V474H1332.5V484.5zM1332.5 484.5V464.5H1334.4V484.5zM1334.4 484.5V369.8H1336.3V484.5zM1336.3 484.5V462.5H1338.2V484.5zM1338.2 484.5V478.1H1340.1V484.5zM1340.1 484.5V399.8H1342V484.5zM1342 484.5V480.6H1343.9V484.5zM1343.9 484.5V478.3H1345.8V484.5zM1345.8 484.5V483.1H1347.7V484.5zM1347.7 484.5V483.7H1349.6V484.5zM1349.6 484.5V483.6H1351.5V484.5zM1351.5 484.5V483.7H1353.4V484.5zM1353.4 484.5V459.8H1355.3V484.5zM1355.3 484.5V483H1357.2V484.5zM1357.2 484.5V483.6H1359.1V484.5zM1359.1 484.5V483.7H1361V484.5zM1361 484.5V484.4H1362.9V484.5z" fill="#b8923e"/></g></g>
<path d="M880 485.2L882 485.2L884 485.2L886 485.1L888 485.1L890 485.1L892 485.1L894 485.1L896 485.1L898 485L900 485L902 485L904 485L906 485L908 484.9L910 484.9L912 484.9L914 484.9L916 484.9L918 484.8L920 484.8L922 484.8L924 484.8L926 484.8L928 484.8L930 484.7L932 484.7L934 484.7L936 484.7L938 484.6L940 484.6L942 484.5L944 484.5L946 484.3L948 484.2L950 484L952 483.9L954 483.7L956 483.5L958 483.2L960 483L962 482.7L964 482.4L966 482.1L968 481.7L970 481.2L972 480.7L974 480.2L976 479.6L978 479L980 478.3L982 477.5L984 476.6L986 475.6L988 474.5L990 473.3L992 472.1L994 470.7L996 469L998 467.1L1000 464.9L1002 462.6L1004 460.2L1006 457.7L1008 455.2L1010 452.8L1012 450.3L1014 447.7L1016 445.1L1018 442.4L1020 439.7L1022 437L1024 434.5L1026 432L1028 429.7L1030 427.3L1032 424.9L1034 422.6L1036 420.4L1038 418.3L1040 416.3L1042 414.5L1044 412.8L1046 411.1L1048 409.5L1050 407.9L1052 406.5L1054 405.2L1056 404.1L1058 403.2L1060 402.4L1062 401.6L1064 401L1066 400.8L1068 400.8L1070 400.8L1072 400.9L1074 401L1076 401.1L1078 401.5L1080 402L1082 402.5L1084 403L1086 403.7L1088 404.3L1090 405L1092 405.7L1094 406.3L1096 406.8L1098 407.2L1100 407.5L1102 407.8L1104 408L1106 408L1108 407.6L1110 407L1112 406.2L1114 405.3L1116 404.2L1118 403.1L1120 402L1122 400.8L1124 399.3L1126 397.6L1128 395.7L1130 393.9L1132 392L1134 390.3L1136 388.7L1138 387L1140 385.3L1142 383.7L1144 382.1L1146 380.7L1148 379.4L1150 378.5L1152 377.7L1154 377L1156 376.2L1158 375.6L1160 375.1L1162 374.7L1164 374.5L1166 374.5L1168 374.5L1170 374.5L1172 374.5L1174 374.5L1176 374.5L1178 374.5L1180 374.5L1182 374.3L1184 373.8L1186 373L1188 372.1L1190 371L1192 369.5L1194 367.4L1196 364.9L1198 362.2L1200 359.5L1202 356.8L1204 353.8L1206 350.7L1208 347.6L1210 344.5L1212 341.4L1214 338.2L1216 335.1L1218 332.1L1220 329.5L1222 327.1L1224 324.7L1226 322.6L1228 320.8L1230 319.5L1232 318.5L1234 317.7L1236 317.3L1238 317.4L1240 318L1242 319L1244 320.3L1246 321.9L1248 324.6L1250 328.2L1252 332.6L1254 337.2L1256 341.9L1258 347.5L1260 353.8L1262 360.5L1264 367.3L1266 373.9L1268 380L1270 385.8L1272 391.5L1274 397.1L1276 402.6L1278 408.1L1280 413.5L1282 419L1284 424.7L1286 430.3L1288 435.7L1290 440.7L1292 445L1294 448.8L1296 452.2L1298 455.5L1300 458.4L1302 461.1L1304 463.6L1306 465.9L1308 468L1310 470.1L1312 472L1314 473.6L1316 475.1L1318 476.3L1320 477.3L1322 478.3L1324 479.1L1326 479.8L1328 480.5L1330 481L1332 481.4L1334 481.9L1336 482.2L1338 482.6L1340 482.9L1342 483.1L1344 483.3L1346 483.5L1348 483.6L1350 483.8L1352 483.9L1354 484.1L1356 484.2L1358 484.3L1360 484.5L1362 484.6L1364 484.6L1366 484.7L1368 484.8L1370 484.8L1372 484.8" fill="none" stroke="#427db4" stroke-width="2.5" stroke-linejoin="round" stroke-linecap="round"/>
<line x1="1249.4" y1="45.5" x2="1249.4" y2="484.5" stroke="#1a1a1a" stroke-width="1.4" stroke-dasharray="3 1.45"/>
</g>
<rect x="824.6" y="45.5" width="588.9" height="439" fill="none" stroke="#262626" stroke-width="1.5"/>
<path d="M912.3 484.5v5.8M1024.5 484.5v5.8M1137 484.5v5.8M1249.4 484.5v5.8M1361.7 484.5v5.8M824.6 484.5h-5.8M824.6 409.5h-5.8M824.6 334.5h-5.8M824.6 259.5h-5.8M824.6 184.5h-5.8M824.6 109.5h-5.8" stroke="#222" stroke-width="1.4" fill="none"/>
<g font-family='DejaVu Sans, Liberation Sans, sans-serif' font-size="16.5" fill="#111" stroke="#111" stroke-width="0.25">
<text x="912.3" y="508.3" text-anchor="middle">1E-6</text>
<text x="1024.5" y="508.3" text-anchor="middle">1E-4</text>
<text x="1137" y="508.3" text-anchor="middle">.01</text>
<text x="1249.4" y="508.3" text-anchor="middle">1</text>
<text x="1361.7" y="508.3" text-anchor="middle">100</text>
<text x="813" y="490.7" text-anchor="end">0.000</text>
<text x="813" y="415.7" text-anchor="end">0.005</text>
<text x="813" y="340.7" text-anchor="end">0.010</text>
<text x="813" y="265.7" text-anchor="end">0.015</text>
<text x="813" y="190.7" text-anchor="end">0.020</text>
<text x="813" y="115.7" text-anchor="end">0.025</text>
<text x="1119" y="530.6" text-anchor="middle">Normalized distance to nearest SV breakpoint</text>
<text x="1119" y="549.3" text-anchor="middle">(log10(bp/expected_SV_distance))</text>
<text transform="translate(755.6 265) rotate(-90)" text-anchor="middle">Density</text>
<rect x="832.9" y="53.8" width="174.5" height="77" rx="3.3" fill="#fff" fill-opacity="0.8" stroke="#dcdcdc" stroke-opacity="0.8" stroke-width="1.4"/>
<rect x="839.5" y="61.2" width="33" height="11.5" fill="#8f1b15" stroke="none"/>
<text x="885.7" y="72.8">Non-clustered</text>
<rect x="839.5" y="85.5" width="33" height="11.5" fill="#7fabb0" stroke="none"/>
<text x="885.7" y="97.1">kataegis</text>
<rect x="839.5" y="109.9" width="33" height="11.5" fill="#f2cb7c" stroke="none"/>
<text x="885.7" y="121.4">kyklonas</text>
</g>
<text transform="translate(1099.5 33.1) scale(0.983 1)" text-anchor="middle" font-family="Liberation Sans, sans-serif" font-weight="bold" font-size="30" fill="#111">Validation</text>
<defs><clipPath id="c2a"><rect x="1531" y="45.5" width="589" height="439"/></clipPath>
<clipPath id="c2r"><path d="M1808 484.5V483.9H1810.2V483H1812.4V482.2H1814.6V481.9H1816.8V481.8H1819V481.6H1821.2V481.6H1823.4V481.5H1825.6V481.4H1827.8V481.4H1830V481.4H1832.2V481.4H1834.4V481.2H1836.6V481.2H1838.8V481H1841V480.8H1843.2V480.5H1845.4V480H1847.6V479.4H1849.8V478.8H1852V477.9H1854.2V476.8H1856.4V473.8H1858.6V468.5H1860.8V462.1H1863V457.4H1865.2V455H1867.4V452.4H1869.6V450.1H1871.8V449.6H1874V446.8H1876.2V444.6H1878.4V442.3H1880.6V438.5H1882.8V435.5H1885V430.3H1887.2V426H1889.4V423.2H1891.6V418.1H1893.8V412.8H1896V407.7H1898.2V399.5H1900.4V392.1H1902.6V380.7H1904.8V372.7H1907V362.9H1909.2V354.4H1911.4V348.9H1913.6V346.7H1915.8V331.1H1918V315.9H1920.2V306.9H1922.4V280.8H1924.6V273.2H1926.8V262.9H1929V247.7H1931.2V235.5H1933.4V211.5H1935.6V195.2H1937.8V170.9H1940V164.1H1942.2V150.5H1944.4V130.6H1946.6V131.5H1948.8V111.5H1951V104.6H1953.2V86.6H1955.4V70.7H1957.6V70.2H1959.8V73.1H1962V68.9H1964.2V68.5H1966.4V85.3H1968.6V121.7H1970.8V140.8H1973V156.8H1975.2V208.2H1977.4V227H1979.6V234.7H1981.8V249.4H1984V280.6H1986.2V313.7H1988.4V347.1H1990.6V352.3H1992.8V364.8H1995V371.2H1997.2V377.7H1999.4V384.1H2001.6V392.9H2003.8V400.7H2006V412.3H2008.2V419.1H2010.4V425.6H2012.6V431.2H2014.8V437.4H2017V442.2H2019.2V447.1H2021.4V451H2023.6V455H2025.8V459.6H2028V463.9H2030.2V467.2H2032.4V469.5H2034.6V471.4H2036.8V472.7H2039V474.1H2041.2V475.2H2043.4V476.3H2045.6V477.2H2047.8V478H2050V478.9H2052.2V479.6H2054.4V480.2H2056.6V480.7H2058.8V481.2H2061V481.8H2063.2V482.3H2065.4V482.9H2067.6V483.5H2069.8V484.1H2072V484.5z"/></clipPath>
<clipPath id="c2t"><path d="M1621.2 484.5V484.3H1623.4V484.5zM1623.4 484.5V484.1H1625.6V484.5zM1625.6 484.5V483.9H1627.8V484.5zM1627.8 484.5V483.7H1630V484.5zM1630 484.5V483.3H1632.2V484.5zM1632.2 484.5V482.8H1634.4V484.5zM1634.4 484.5V482.2H1636.6V484.5zM1636.6 484.5V482.1H1638.8V484.5zM1638.8 484.5V481.2H1641V484.5zM1641 484.5V480.6H1643.2V484.5zM1643.2 484.5V479.6H1645.4V484.5zM1645.4 484.5V479.6H1647.6V484.5zM1647.6 484.5V478.7H1649.8V484.5zM1649.8 484.5V478.1H1652V484.5zM1652 484.5V476.4H1654.2V484.5zM1654.2 484.5V475.3H1656.4V484.5zM1656.4 484.5V475H1658.6V484.5zM1658.6 484.5V472.8H1660.8V484.5zM1660.8 484.5V471.5H1663V484.5zM1663 484.5V471.5H1665.2V484.5zM1665.2 484.5V469.2H1667.4V484.5zM1667.4 484.5V468.3H1669.6V484.5zM1669.6 484.5V467.2H1671.8V484.5zM1671.8 484.5V465.5H1674V484.5zM1674 484.5V463.6H1676.2V484.5zM1676.2 484.5V463.2H1678.4V484.5zM1678.4 484.5V459.7H1680.6V484.5zM1680.6 484.5V456.3H1682.8V484.5zM1682.8 484.5V457.2H1685V484.5zM1685 484.5V454.5H1687.2V484.5zM1687.2 484.5V453.2H1689.4V484.5zM1689.4 484.5V448.5H1691.6V484.5zM1691.6 484.5V447.3H1693.8V484.5zM1693.8 484.5V442.5H1696V484.5zM1696 484.5V443.1H1698.2V484.5zM1698.2 484.5V443.6H1700.4V484.5zM1700.4 484.5V435.7H1702.6V484.5zM1702.6 484.5V435.7H1704.8V484.5zM1704.8 484.5V428.5H1707V484.5zM1707 484.5V427.3H1709.2V484.5zM1709.2 484.5V434.3H1711.4V484.5zM1711.4 484.5V431.6H1713.6V484.5zM1713.6 484.5V422.6H1715.8V484.5zM1715.8 484.5V423.4H1718V484.5zM1718 484.5V426.6H1720.2V484.5zM1720.2 484.5V418.5H1722.4V484.5zM1722.4 484.5V408.6H1724.6V484.5zM1724.6 484.5V409.5H1726.8V484.5zM1726.8 484.5V394.8H1729V484.5zM1729 484.5V407.5H1731.2V484.5zM1731.2 484.5V402.5H1733.4V484.5zM1733.4 484.5V383.5H1735.6V484.5zM1735.6 484.5V398.5H1737.8V484.5zM1737.8 484.5V407.5H1740V484.5zM1740 484.5V396.9H1742.2V484.5zM1742.2 484.5V396.3H1744.4V484.5zM1744.4 484.5V399.9H1746.6V484.5zM1746.6 484.5V400.9H1748.8V484.5zM1748.8 484.5V393.5H1751V484.5zM1751 484.5V406.2H1753.2V484.5zM1753.2 484.5V396.7H1755.4V484.5zM1755.4 484.5V395.3H1757.6V484.5zM1757.6 484.5V398.1H1759.8V484.5zM1759.8 484.5V400.9H1762V484.5zM1762 484.5V402.4H1764.2V484.5zM1764.2 484.5V396H1766.4V484.5zM1766.4 484.5V407.9H1768.6V484.5zM1768.6 484.5V412.8H1770.8V484.5zM1770.8 484.5V406H1773V484.5zM1773 484.5V404H1775.2V484.5zM1775.2 484.5V408.6H1777.4V484.5zM1777.4 484.5V417.1H1779.6V484.5zM1779.6 484.5V410.8H1781.8V484.5zM1781.8 484.5V413H1784V484.5zM1784 484.5V415.1H1786.2V484.5zM1786.2 484.5V405H1788.4V484.5zM1788.4 484.5V411H1790.6V484.5zM1790.6 484.5V427.7H1792.8V484.5zM1792.8 484.5V432.1H1795V484.5zM1795 484.5V425.9H1797.2V484.5zM1797.2 484.5V419.8H1799.4V484.5zM1799.4 484.5V383H1801.6V484.5zM1801.6 484.5V422.8H1803.8V484.5zM1803.8 484.5V434.5H1806V484.5zM1806 484.5V441.3H1808.2V484.5zM1808.2 484.5V432.9H1810.4V484.5zM1810.4 484.5V428.5H1812.6V484.5zM1812.6 484.5V438.7H1814.8V484.5zM1814.8 484.5V428H1817V484.5zM1817 484.5V429H1819.2V484.5zM1819.2 484.5V444.2H1821.4V484.5zM1821.4 484.5V431.7H1823.6V484.5zM1823.6 484.5V437.2H1825.8V484.5zM1825.8 484.5V440.3H1828V484.5zM1828 484.5V437.6H1830.2V484.5zM1830.2 484.5V443.8H1832.4V484.5zM1832.4 484.5V443.7H1834.6V484.5zM1834.6 484.5V383.5H1836.8V484.5zM1836.8 484.5V442.6H1839V484.5zM1839 484.5V440.8H1841.2V484.5zM1841.2 484.5V394.8H1843.4V484.5zM1843.4 484.5V426H1845.6V484.5zM1845.6 484.5V426.7H1847.8V484.5zM1847.8 484.5V399.8H1850V484.5zM1850 484.5V434.4H1852.2V484.5zM1852.2 484.5V431.1H1854.4V484.5zM1854.4 484.5V435.7H1856.6V484.5zM1856.6 484.5V443.3H1858.8V484.5zM1858.8 484.5V396.6H1861V484.5zM1861 484.5V425.7H1863.2V484.5zM1863.2 484.5V418.2H1865.4V484.5zM1865.4 484.5V394.8H1867.6V484.5zM1867.6 484.5V413.9H1869.8V484.5zM1869.8 484.5V426.5H1872V484.5zM1872 484.5V430.2H1874.2V484.5zM1874.2 484.5V395.2H1876.4V484.5zM1876.4 484.5V408.8H1878.6V484.5zM1878.6 484.5V415.8H1880.8V484.5zM1880.8 484.5V409.7H1883V484.5zM1883 484.5V379.8H1885.2V484.5zM1885.2 484.5V405.3H1887.4V484.5zM1887.4 484.5V397.6H1889.6V484.5zM1889.6 484.5V414.5H1891.8V484.5zM1891.8 484.5V399.1H1894V484.5zM1894 484.5V414.4H1896.2V484.5zM1896.2 484.5V378H1898.4V484.5zM1898.4 484.5V410.8H1900.6V484.5zM1900.6 484.5V386.2H1902.8V484.5zM1902.8 484.5V388.4H1905V484.5zM1905 484.5V363.5H1907.2V484.5zM1907.2 484.5V375.5H1909.4V484.5zM1909.4 484.5V322H1911.6V484.5zM1911.6 484.5V369.5H1913.8V484.5zM1913.8 484.5V379.6H1916V484.5zM1916 484.5V350H1918.2V484.5zM1918.2 484.5V363.7H1920.4V484.5zM1920.4 484.5V320.3H1922.6V484.5zM1922.6 484.5V332.3H1924.8V484.5zM1924.8 484.5V284.5H1927V484.5zM1927 484.5V356.7H1929.2V484.5zM1929.2 484.5V366H1931.4V484.5zM1931.4 484.5V338.8H1933.6V484.5zM1933.6 484.5V267.5H1935.8V484.5zM1935.8 484.5V335.1H1938V484.5zM1938 484.5V278.3H1940.2V484.5zM1940.2 484.5V273.4H1942.4V484.5zM1942.4 484.5V254.5H1944.6V484.5zM1944.6 484.5V307.6H1946.8V484.5zM1946.8 484.5V259.5H1949V484.5zM1949 484.5V304.7H1951.2V484.5zM1951.2 484.5V307.1H1953.4V484.5zM1953.4 484.5V310.4H1955.6V484.5zM1955.6 484.5V293.2H1957.8V484.5zM1957.8 484.5V219.5H1960V484.5zM1960 484.5V259.3H1962.2V484.5zM1962.2 484.5V290.2H1964.4V484.5zM1964.4 484.5V265.8H1966.6V484.5zM1966.6 484.5V257.5H1968.8V484.5zM1968.8 484.5V272.3H1971V484.5zM1971 484.5V315.9H1973.2V484.5zM1973.2 484.5V214.5H1975.4V484.5zM1975.4 484.5V343.7H1977.6V484.5zM1977.6 484.5V222.5H1979.8V484.5zM1979.8 484.5V366.4H1982V484.5zM1982 484.5V358.8H1984.2V484.5zM1984.2 484.5V279.5H1986.4V484.5zM1986.4 484.5V362.7H1988.6V484.5zM1988.6 484.5V402.4H1990.8V484.5zM1990.8 484.5V406.9H1993V484.5zM1993 484.5V387.5H1995.2V484.5zM1995.2 484.5V391.9H1997.4V484.5zM1997.4 484.5V414.2H1999.6V484.5zM1999.6 484.5V394.1H2001.8V484.5zM2001.8 484.5V397.6H2004V484.5zM2004 484.5V318H2006.2V484.5zM2006.2 484.5V434.2H2008.4V484.5zM2008.4 484.5V416.8H2010.6V484.5zM2010.6 484.5V434.9H2012.8V484.5zM2012.8 484.5V399.8H2015V484.5zM2015 484.5V436.7H2017.2V484.5zM2017.2 484.5V447.3H2019.4V484.5zM2019.4 484.5V437.9H2021.6V484.5zM2021.6 484.5V452H2023.8V484.5zM2023.8 484.5V445.6H2026V484.5zM2026 484.5V449.9H2028.2V484.5zM2028.2 484.5V427H2030.4V484.5zM2030.4 484.5V456H2032.6V484.5zM2032.6 484.5V456.5H2034.8V484.5zM2034.8 484.5V462.9H2037V484.5zM2037 484.5V438.5H2039.2V484.5zM2039.2 484.5V466.3H2041.4V484.5zM2041.4 484.5V463.9H2043.6V484.5zM2043.6 484.5V452H2045.8V484.5zM2045.8 484.5V466H2048V484.5zM2048 484.5V470.8H2050.2V484.5zM2050.2 484.5V473.8H2052.4V484.5zM2052.4 484.5V473.9H2054.6V484.5zM2054.6 484.5V458.5H2056.8V484.5zM2056.8 484.5V475.7H2059V484.5zM2059 484.5V475.4H2061.2V484.5zM2061.2 484.5V478.7H2063.4V484.5zM2063.4 484.5V477.6H2065.6V484.5zM2065.6 484.5V464.8H2067.8V484.5zM2067.8 484.5V479.1H2070V484.5zM2070 484.5V479.6H2072.2V484.5zM2072.2 484.5V471H2074.4V484.5zM2074.4 484.5V482H2076.6V484.5zM2076.6 484.5V482.3H2078.8V484.5zM2078.8 484.5V482H2081V484.5zM2081 484.5V476H2083.2V484.5zM2083.2 484.5V483.2H2085.4V484.5zM2085.4 484.5V483.9H2087.6V484.5zM2087.6 484.5V474.8H2089.8V484.5zM2089.8 484.5V484.4H2092V484.5z"/></clipPath>
</defs>
<g clip-path="url(#c2a)">
<path id="c2pr" d="M1808 484.5V483.9H1810.2V483H1812.4V482.2H1814.6V481.9H1816.8V481.8H1819V481.6H1821.2V481.6H1823.4V481.5H1825.6V481.4H1827.8V481.4H1830V481.4H1832.2V481.4H1834.4V481.2H1836.6V481.2H1838.8V481H1841V480.8H1843.2V480.5H1845.4V480H1847.6V479.4H1849.8V478.8H1852V477.9H1854.2V476.8H1856.4V473.8H1858.6V468.5H1860.8V462.1H1863V457.4H1865.2V455H1867.4V452.4H1869.6V450.1H1871.8V449.6H1874V446.8H1876.2V444.6H1878.4V442.3H1880.6V438.5H1882.8V435.5H1885V430.3H1887.2V426H1889.4V423.2H1891.6V418.1H1893.8V412.8H1896V407.7H1898.2V399.5H1900.4V392.1H1902.6V380.7H1904.8V372.7H1907V362.9H1909.2V354.4H1911.4V348.9H1913.6V346.7H1915.8V331.1H1918V315.9H1920.2V306.9H1922.4V280.8H1924.6V273.2H1926.8V262.9H1929V247.7H1931.2V235.5H1933.4V211.5H1935.6V195.2H1937.8V170.9H1940V164.1H1942.2V150.5H1944.4V130.6H1946.6V131.5H1948.8V111.5H1951V104.6H1953.2V86.6H1955.4V70.7H1957.6V70.2H1959.8V73.1H1962V68.9H1964.2V68.5H1966.4V85.3H1968.6V121.7H1970.8V140.8H1973V156.8H1975.2V208.2H1977.4V227H1979.6V234.7H1981.8V249.4H1984V280.6H1986.2V313.7H1988.4V347.1H1990.6V352.3H1992.8V364.8H1995V371.2H1997.2V377.7H1999.4V384.1H2001.6V392.9H2003.8V400.7H2006V412.3H2008.2V419.1H2010.4V425.6H2012.6V431.2H2014.8V437.4H2017V442.2H2019.2V447.1H2021.4V451H2023.6V455H2025.8V459.6H2028V463.9H2030.2V467.2H2032.4V469.5H2034.6V471.4H2036.8V472.7H2039V474.1H2041.2V475.2H2043.4V476.3H2045.6V477.2H2047.8V478H2050V478.9H2052.2V479.6H2054.4V480.2H2056.6V480.7H2058.8V481.2H2061V481.8H2063.2V482.3H2065.4V482.9H2067.6V483.5H2069.8V484.1H2072V484.5z" fill="#98211a"/>
<path d="M1827.8 484.5V481.4M1830 484.5V481.4M1832.2 484.5V481.4M1834.4 484.5V481.4M1836.6 484.5V481.2M1838.8 484.5V481.2M1841 484.5V481M1843.2 484.5V480.8M1845.4 484.5V480.5M1847.6 484.5V480M1849.8 484.5V479.4M1852 484.5V478.8M1854.2 484.5V477.9M1856.4 484.5V476.8M1858.6 484.5V473.8M1860.8 484.5V468.5M1863 484.5V462.1M1865.2 484.5V457.4M1867.4 484.5V455M1869.6 484.5V452.4M1871.8 484.5V450.1M1874 484.5V449.6M1876.2 484.5V446.8M1878.4 484.5V444.6M1880.6 484.5V442.3M1882.8 484.5V438.5M1885 484.5V435.5M1887.2 484.5V430.3M1889.4 484.5V426M1891.6 484.5V423.2M1893.8 484.5V418.1M1896 484.5V412.8M1898.2 484.5V407.7M1900.4 484.5V399.5M1902.6 484.5V392.1M1904.8 484.5V380.7M1907 484.5V372.7M1909.2 484.5V362.9M1911.4 484.5V354.4M1913.6 484.5V348.9M1915.8 484.5V346.7M1918 484.5V331.1M1920.2 484.5V315.9M1922.4 484.5V306.9M1924.6 484.5V280.8M1926.8 484.5V273.2M1929 484.5V262.9M1931.2 484.5V247.7M1933.4 484.5V235.5M1935.6 484.5V211.5M1937.8 484.5V195.2M1940 484.5V170.9M1942.2 484.5V164.1M1944.4 484.5V150.5M1946.6 484.5V131.5M1948.8 484.5V131.5M1951 484.5V111.5M1953.2 484.5V104.6M1955.4 484.5V86.6M1957.6 484.5V70.7M1959.8 484.5V73.1M1962 484.5V73.1M1964.2 484.5V68.9M1966.4 484.5V85.3M1968.6 484.5V121.7M1970.8 484.5V140.8M1973 484.5V156.8M1975.2 484.5V208.2M1977.4 484.5V227M1979.6 484.5V234.7M1981.8 484.5V249.4M1984 484.5V280.6M1986.2 484.5V313.7M1988.4 484.5V347.1M1990.6 484.5V352.3M1992.8 484.5V364.8M1995 484.5V371.2M1997.2 484.5V377.7M1999.4 484.5V384.1M2001.6 484.5V392.9M2003.8 484.5V400.7M2006 484.5V412.3M2008.2 484.5V419.1M2010.4 484.5V425.6M2012.6 484.5V431.2M2014.8 484.5V437.4M2017 484.5V442.2M2019.2 484.5V447.1M2021.4 484.5V451M2023.6 484.5V455M2025.8 484.5V459.6M2028 484.5V463.9M2030.2 484.5V467.2M2032.4 484.5V469.5M2034.6 484.5V471.4M2036.8 484.5V472.7M2039 484.5V474.1M2041.2 484.5V475.2M2043.4 484.5V476.3M2045.6 484.5V477.2M2047.8 484.5V478M2050 484.5V478.9M2052.2 484.5V479.6M2054.4 484.5V480.2M2056.6 484.5V480.7M2058.8 484.5V481.2" stroke="#5e0f0b" stroke-width="0.6" fill="none" opacity="0.5"/>
<path d="M1621.2 484.5V484.3H1623.4V484.5zM1623.4 484.5V484.1H1625.6V484.5zM1625.6 484.5V483.9H1627.8V484.5zM1627.8 484.5V483.7H1630V484.5zM1630 484.5V483.3H1632.2V484.5zM1632.2 484.5V482.8H1634.4V484.5zM1634.4 484.5V482.2H1636.6V484.5zM1636.6 484.5V482.1H1638.8V484.5zM1638.8 484.5V481.2H1641V484.5zM1641 484.5V480.6H1643.2V484.5zM1643.2 484.5V479.6H1645.4V484.5zM1645.4 484.5V479.6H1647.6V484.5zM1647.6 484.5V478.7H1649.8V484.5zM1649.8 484.5V478.1H1652V484.5zM1652 484.5V476.4H1654.2V484.5zM1654.2 484.5V475.3H1656.4V484.5zM1656.4 484.5V475H1658.6V484.5zM1658.6 484.5V472.8H1660.8V484.5zM1660.8 484.5V471.5H1663V484.5zM1663 484.5V471.5H1665.2V484.5zM1665.2 484.5V469.2H1667.4V484.5zM1667.4 484.5V468.3H1669.6V484.5zM1669.6 484.5V467.2H1671.8V484.5zM1671.8 484.5V465.5H1674V484.5zM1674 484.5V463.6H1676.2V484.5zM1676.2 484.5V463.2H1678.4V484.5zM1678.4 484.5V459.7H1680.6V484.5zM1680.6 484.5V456.3H1682.8V484.5zM1682.8 484.5V457.2H1685V484.5zM1685 484.5V454.5H1687.2V484.5zM1687.2 484.5V453.2H1689.4V484.5zM1689.4 484.5V448.5H1691.6V484.5zM1691.6 484.5V447.3H1693.8V484.5zM1693.8 484.5V442.5H1696V484.5zM1696 484.5V443.1H1698.2V484.5zM1698.2 484.5V443.6H1700.4V484.5zM1700.4 484.5V435.7H1702.6V484.5zM1702.6 484.5V435.7H1704.8V484.5zM1704.8 484.5V428.5H1707V484.5zM1707 484.5V427.3H1709.2V484.5zM1709.2 484.5V434.3H1711.4V484.5zM1711.4 484.5V431.6H1713.6V484.5zM1713.6 484.5V422.6H1715.8V484.5zM1715.8 484.5V423.4H1718V484.5zM1718 484.5V426.6H1720.2V484.5zM1720.2 484.5V418.5H1722.4V484.5zM1722.4 484.5V408.6H1724.6V484.5zM1724.6 484.5V409.5H1726.8V484.5zM1726.8 484.5V394.8H1729V484.5zM1729 484.5V407.5H1731.2V484.5zM1731.2 484.5V402.5H1733.4V484.5zM1733.4 484.5V383.5H1735.6V484.5zM1735.6 484.5V398.5H1737.8V484.5zM1737.8 484.5V407.5H1740V484.5zM1740 484.5V396.9H1742.2V484.5zM1742.2 484.5V396.3H1744.4V484.5zM1744.4 484.5V399.9H1746.6V484.5zM1746.6 484.5V400.9H1748.8V484.5zM1748.8 484.5V393.5H1751V484.5zM1751 484.5V406.2H1753.2V484.5zM1753.2 484.5V396.7H1755.4V484.5zM1755.4 484.5V395.3H1757.6V484.5zM1757.6 484.5V398.1H1759.8V484.5zM1759.8 484.5V400.9H1762V484.5zM1762 484.5V402.4H1764.2V484.5zM1764.2 484.5V396H1766.4V484.5zM1766.4 484.5V407.9H1768.6V484.5zM1768.6 484.5V412.8H1770.8V484.5zM1770.8 484.5V406H1773V484.5zM1773 484.5V404H1775.2V484.5zM1775.2 484.5V408.6H1777.4V484.5zM1777.4 484.5V417.1H1779.6V484.5zM1779.6 484.5V410.8H1781.8V484.5zM1781.8 484.5V413H1784V484.5zM1784 484.5V415.1H1786.2V484.5zM1786.2 484.5V405H1788.4V484.5zM1788.4 484.5V411H1790.6V484.5zM1790.6 484.5V427.7H1792.8V484.5zM1792.8 484.5V432.1H1795V484.5zM1795 484.5V425.9H1797.2V484.5zM1797.2 484.5V419.8H1799.4V484.5zM1799.4 484.5V383H1801.6V484.5zM1801.6 484.5V422.8H1803.8V484.5zM1803.8 484.5V434.5H1806V484.5zM1806 484.5V441.3H1808.2V484.5zM1808.2 484.5V432.9H1810.4V484.5zM1810.4 484.5V428.5H1812.6V484.5zM1812.6 484.5V438.7H1814.8V484.5zM1814.8 484.5V428H1817V484.5zM1817 484.5V429H1819.2V484.5zM1819.2 484.5V444.2H1821.4V484.5zM1821.4 484.5V431.7H1823.6V484.5zM1823.6 484.5V437.2H1825.8V484.5zM1825.8 484.5V440.3H1828V484.5zM1828 484.5V437.6H1830.2V484.5zM1830.2 484.5V443.8H1832.4V484.5zM1832.4 484.5V443.7H1834.6V484.5zM1834.6 484.5V383.5H1836.8V484.5zM1836.8 484.5V442.6H1839V484.5zM1839 484.5V440.8H1841.2V484.5zM1841.2 484.5V394.8H1843.4V484.5zM1843.4 484.5V426H1845.6V484.5zM1845.6 484.5V426.7H1847.8V484.5zM1847.8 484.5V399.8H1850V484.5zM1850 484.5V434.4H1852.2V484.5zM1852.2 484.5V431.1H1854.4V484.5zM1854.4 484.5V435.7H1856.6V484.5zM1856.6 484.5V443.3H1858.8V484.5zM1858.8 484.5V396.6H1861V484.5zM1861 484.5V425.7H1863.2V484.5zM1863.2 484.5V418.2H1865.4V484.5zM1865.4 484.5V394.8H1867.6V484.5zM1867.6 484.5V413.9H1869.8V484.5zM1869.8 484.5V426.5H1872V484.5zM1872 484.5V430.2H1874.2V484.5zM1874.2 484.5V395.2H1876.4V484.5zM1876.4 484.5V408.8H1878.6V484.5zM1878.6 484.5V415.8H1880.8V484.5zM1880.8 484.5V409.7H1883V484.5zM1883 484.5V379.8H1885.2V484.5zM1885.2 484.5V405.3H1887.4V484.5zM1887.4 484.5V397.6H1889.6V484.5zM1889.6 484.5V414.5H1891.8V484.5zM1891.8 484.5V399.1H1894V484.5zM1894 484.5V414.4H1896.2V484.5zM1896.2 484.5V378H1898.4V484.5zM1898.4 484.5V410.8H1900.6V484.5zM1900.6 484.5V386.2H1902.8V484.5zM1902.8 484.5V388.4H1905V484.5zM1905 484.5V363.5H1907.2V484.5zM1907.2 484.5V375.5H1909.4V484.5zM1909.4 484.5V322H1911.6V484.5zM1911.6 484.5V369.5H1913.8V484.5zM1913.8 484.5V379.6H1916V484.5zM1916 484.5V350H1918.2V484.5zM1918.2 484.5V363.7H1920.4V484.5zM1920.4 484.5V320.3H1922.6V484.5zM1922.6 484.5V332.3H1924.8V484.5zM1924.8 484.5V284.5H1927V484.5zM1927 484.5V356.7H1929.2V484.5zM1929.2 484.5V366H1931.4V484.5zM1931.4 484.5V338.8H1933.6V484.5zM1933.6 484.5V267.5H1935.8V484.5zM1935.8 484.5V335.1H1938V484.5zM1938 484.5V278.3H1940.2V484.5zM1940.2 484.5V273.4H1942.4V484.5zM1942.4 484.5V254.5H1944.6V484.5zM1944.6 484.5V307.6H1946.8V484.5zM1946.8 484.5V259.5H1949V484.5zM1949 484.5V304.7H1951.2V484.5zM1951.2 484.5V307.1H1953.4V484.5zM1953.4 484.5V310.4H1955.6V484.5zM1955.6 484.5V293.2H1957.8V484.5zM1957.8 484.5V219.5H1960V484.5zM1960 484.5V259.3H1962.2V484.5zM1962.2 484.5V290.2H1964.4V484.5zM1964.4 484.5V265.8H1966.6V484.5zM1966.6 484.5V257.5H1968.8V484.5zM1968.8 484.5V272.3H1971V484.5zM1971 484.5V315.9H1973.2V484.5zM1973.2 484.5V214.5H1975.4V484.5zM1975.4 484.5V343.7H1977.6V484.5zM1977.6 484.5V222.5H1979.8V484.5zM1979.8 484.5V366.4H1982V484.5zM1982 484.5V358.8H1984.2V484.5zM1984.2 484.5V279.5H1986.4V484.5zM1986.4 484.5V362.7H1988.6V484.5zM1988.6 484.5V402.4H1990.8V484.5zM1990.8 484.5V406.9H1993V484.5zM1993 484.5V387.5H1995.2V484.5zM1995.2 484.5V391.9H1997.4V484.5zM1997.4 484.5V414.2H1999.6V484.5zM1999.6 484.5V394.1H2001.8V484.5zM2001.8 484.5V397.6H2004V484.5zM2004 484.5V318H2006.2V484.5zM2006.2 484.5V434.2H2008.4V484.5zM2008.4 484.5V416.8H2010.6V484.5zM2010.6 484.5V434.9H2012.8V484.5zM2012.8 484.5V399.8H2015V484.5zM2015 484.5V436.7H2017.2V484.5zM2017.2 484.5V447.3H2019.4V484.5zM2019.4 484.5V437.9H2021.6V484.5zM2021.6 484.5V452H2023.8V484.5zM2023.8 484.5V445.6H2026V484.5zM2026 484.5V449.9H2028.2V484.5zM2028.2 484.5V427H2030.4V484.5zM2030.4 484.5V456H2032.6V484.5zM2032.6 484.5V456.5H2034.8V484.5zM2034.8 484.5V462.9H2037V484.5zM2037 484.5V438.5H2039.2V484.5zM2039.2 484.5V466.3H2041.4V484.5zM2041.4 484.5V463.9H2043.6V484.5zM2043.6 484.5V452H2045.8V484.5zM2045.8 484.5V466H2048V484.5zM2048 484.5V470.8H2050.2V484.5zM2050.2 484.5V473.8H2052.4V484.5zM2052.4 484.5V473.9H2054.6V484.5zM2054.6 484.5V458.5H2056.8V484.5zM2056.8 484.5V475.7H2059V484.5zM2059 484.5V475.4H2061.2V484.5zM2061.2 484.5V478.7H2063.4V484.5zM2063.4 484.5V477.6H2065.6V484.5zM2065.6 484.5V464.8H2067.8V484.5zM2067.8 484.5V479.1H2070V484.5zM2070 484.5V479.6H2072.2V484.5zM2072.2 484.5V471H2074.4V484.5zM2074.4 484.5V482H2076.6V484.5zM2076.6 484.5V482.3H2078.8V484.5zM2078.8 484.5V482H2081V484.5zM2081 484.5V476H2083.2V484.5zM2083.2 484.5V483.2H2085.4V484.5zM2085.4 484.5V483.9H2087.6V484.5zM2087.6 484.5V474.8H2089.8V484.5zM2089.8 484.5V484.4H2092V484.5z" fill="#86b0b6"/>
<path d="M1641 484.5V481.2M1643.2 484.5V480.6M1645.4 484.5V479.6M1647.6 484.5V479.6M1649.8 484.5V478.7M1652 484.5V478.1M1654.2 484.5V476.4M1656.4 484.5V475.3M1658.6 484.5V475M1660.8 484.5V472.8M1663 484.5V471.5M1665.2 484.5V471.5M1667.4 484.5V469.2M1669.6 484.5V468.3M1671.8 484.5V467.2M1674 484.5V465.5M1676.2 484.5V463.6M1678.4 484.5V463.2M1680.6 484.5V459.7M1682.8 484.5V457.2M1685 484.5V457.2M1687.2 484.5V454.5M1689.4 484.5V453.2M1691.6 484.5V448.5M1693.8 484.5V447.3M1696 484.5V443.1M1698.2 484.5V443.6M1700.4 484.5V443.6M1702.6 484.5V435.7M1704.8 484.5V435.7M1707 484.5V428.5M1709.2 484.5V434.3M1711.4 484.5V434.3M1713.6 484.5V431.6M1715.8 484.5V423.4M1718 484.5V426.6M1720.2 484.5V426.6M1722.4 484.5V418.5M1724.6 484.5V409.5M1726.8 484.5V409.5M1729 484.5V407.5M1731.2 484.5V407.5M1733.4 484.5V402.5M1735.6 484.5V398.5M1737.8 484.5V407.5M1740 484.5V407.5M1742.2 484.5V396.9M1744.4 484.5V399.9M1746.6 484.5V400.9M1748.8 484.5V400.9M1751 484.5V406.2M1753.2 484.5V406.2M1755.4 484.5V396.7M1757.6 484.5V398.1M1759.8 484.5V400.9M1762 484.5V402.4M1764.2 484.5V402.4M1766.4 484.5V407.9M1768.6 484.5V412.8M1770.8 484.5V412.8M1773 484.5V406M1775.2 484.5V408.6M1777.4 484.5V417.1M1779.6 484.5V417.1M1781.8 484.5V413M1784 484.5V415.1M1786.2 484.5V415.1M1788.4 484.5V411M1790.6 484.5V427.7M1792.8 484.5V432.1M1795 484.5V432.1M1797.2 484.5V425.9M1799.4 484.5V419.8M1801.6 484.5V422.8M1803.8 484.5V434.5M1806 484.5V441.3M1808.2 484.5V441.3M1810.4 484.5V432.9M1812.6 484.5V438.7M1814.8 484.5V438.7M1817 484.5V429M1819.2 484.5V444.2M1821.4 484.5V444.2M1823.6 484.5V437.2M1825.8 484.5V440.3M1828 484.5V440.3M1830.2 484.5V443.8M1832.4 484.5V443.8M1834.6 484.5V443.7M1836.8 484.5V442.6M1839 484.5V442.6M1841.2 484.5V440.8M1843.4 484.5V426M1845.6 484.5V426.7M1847.8 484.5V426.7M1850 484.5V434.4M1852.2 484.5V434.4M1854.4 484.5V435.7M1856.6 484.5V443.3M1858.8 484.5V443.3M1861 484.5V425.7M1863.2 484.5V425.7M1865.4 484.5V418.2M1867.6 484.5V413.9M1869.8 484.5V426.5M1872 484.5V430.2M1874.2 484.5V430.2M1876.4 484.5V408.8M1878.6 484.5V415.8M1880.8 484.5V415.8M1883 484.5V409.7M1885.2 484.5V405.3M1887.4 484.5V405.3M1889.6 484.5V414.5M1891.8 484.5V414.5M1894 484.5V414.4M1896.2 484.5V414.4M1898.4 484.5V410.8M1900.6 484.5V410.8M1902.8 484.5V388.4M1905 484.5V388.4M1907.2 484.5V375.5M1909.4 484.5V375.5M1911.6 484.5V369.5M1913.8 484.5V379.6M1916 484.5V379.6M1918.2 484.5V363.7M1920.4 484.5V363.7M1922.6 484.5V332.3M1924.8 484.5V332.3M1927 484.5V356.7M1929.2 484.5V366M1931.4 484.5V366M1933.6 484.5V338.8M1935.8 484.5V335.1M1938 484.5V335.1M1940.2 484.5V278.3M1942.4 484.5V273.4M1944.6 484.5V307.6M1946.8 484.5V307.6M1949 484.5V304.7M1951.2 484.5V307.1M1953.4 484.5V310.4M1955.6 484.5V310.4M1957.8 484.5V293.2M1960 484.5V259.3M1962.2 484.5V290.2M1964.4 484.5V290.2M1966.6 484.5V265.8M1968.8 484.5V272.3M1971 484.5V315.9M1973.2 484.5V315.9M1975.4 484.5V343.7M1977.6 484.5V343.7M1979.8 484.5V366.4M1982 484.5V366.4M1984.2 484.5V358.8M1986.4 484.5V362.7M1988.6 484.5V402.4M1990.8 484.5V406.9M1993 484.5V406.9M1995.2 484.5V391.9M1997.4 484.5V414.2M1999.6 484.5V414.2M2001.8 484.5V397.6M2004 484.5V397.6M2006.2 484.5V434.2M2008.4 484.5V434.2M2010.6 484.5V434.9M2012.8 484.5V434.9M2015 484.5V436.7M2017.2 484.5V447.3M2019.4 484.5V447.3M2021.6 484.5V452M2023.8 484.5V452M2026 484.5V449.9M2028.2 484.5V449.9M2030.4 484.5V456M2032.6 484.5V456.5M2034.8 484.5V462.9M2037 484.5V462.9M2039.2 484.5V466.3M2041.4 484.5V466.3M2043.6 484.5V463.9M2045.8 484.5V466M2048 484.5V470.8M2050.2 484.5V473.8M2052.4 484.5V473.9M2054.6 484.5V473.9M2056.8 484.5V475.7M2059 484.5V475.7M2061.2 484.5V478.7M2063.4 484.5V478.7M2065.6 484.5V477.6M2067.8 484.5V479.1M2070 484.5V479.6M2072.2 484.5V479.6" stroke="#5d8e95" stroke-width="0.5" fill="none" opacity="0.5"/>
<g clip-path="url(#c2r)"><path d="M1621.2 484.5V484.3H1623.4V484.5zM1623.4 484.5V484.1H1625.6V484.5zM1625.6 484.5V483.9H1627.8V484.5zM1627.8 484.5V483.7H1630V484.5zM1630 484.5V483.3H1632.2V484.5zM1632.2 484.5V482.8H1634.4V484.5zM1634.4 484.5V482.2H1636.6V484.5zM1636.6 484.5V482.1H1638.8V484.5zM1638.8 484.5V481.2H1641V484.5zM1641 484.5V480.6H1643.2V484.5zM1643.2 484.5V479.6H1645.4V484.5zM1645.4 484.5V479.6H1647.6V484.5zM1647.6 484.5V478.7H1649.8V484.5zM1649.8 484.5V478.1H1652V484.5zM1652 484.5V476.4H1654.2V484.5zM1654.2 484.5V475.3H1656.4V484.5zM1656.4 484.5V475H1658.6V484.5zM1658.6 484.5V472.8H1660.8V484.5zM1660.8 484.5V471.5H1663V484.5zM1663 484.5V471.5H1665.2V484.5zM1665.2 484.5V469.2H1667.4V484.5zM1667.4 484.5V468.3H1669.6V484.5zM1669.6 484.5V467.2H1671.8V484.5zM1671.8 484.5V465.5H1674V484.5zM1674 484.5V463.6H1676.2V484.5zM1676.2 484.5V463.2H1678.4V484.5zM1678.4 484.5V459.7H1680.6V484.5zM1680.6 484.5V456.3H1682.8V484.5zM1682.8 484.5V457.2H1685V484.5zM1685 484.5V454.5H1687.2V484.5zM1687.2 484.5V453.2H1689.4V484.5zM1689.4 484.5V448.5H1691.6V484.5zM1691.6 484.5V447.3H1693.8V484.5zM1693.8 484.5V442.5H1696V484.5zM1696 484.5V443.1H1698.2V484.5zM1698.2 484.5V443.6H1700.4V484.5zM1700.4 484.5V435.7H1702.6V484.5zM1702.6 484.5V435.7H1704.8V484.5zM1704.8 484.5V428.5H1707V484.5zM1707 484.5V427.3H1709.2V484.5zM1709.2 484.5V434.3H1711.4V484.5zM1711.4 484.5V431.6H1713.6V484.5zM1713.6 484.5V422.6H1715.8V484.5zM1715.8 484.5V423.4H1718V484.5zM1718 484.5V426.6H1720.2V484.5zM1720.2 484.5V418.5H1722.4V484.5zM1722.4 484.5V408.6H1724.6V484.5zM1724.6 484.5V409.5H1726.8V484.5zM1726.8 484.5V394.8H1729V484.5zM1729 484.5V407.5H1731.2V484.5zM1731.2 484.5V402.5H1733.4V484.5zM1733.4 484.5V383.5H1735.6V484.5zM1735.6 484.5V398.5H1737.8V484.5zM1737.8 484.5V407.5H1740V484.5zM1740 484.5V396.9H1742.2V484.5zM1742.2 484.5V396.3H1744.4V484.5zM1744.4 484.5V399.9H1746.6V484.5zM1746.6 484.5V400.9H1748.8V484.5zM1748.8 484.5V393.5H1751V484.5zM1751 484.5V406.2H1753.2V484.5zM1753.2 484.5V396.7H1755.4V484.5zM1755.4 484.5V395.3H1757.6V484.5zM1757.6 484.5V398.1H1759.8V484.5zM1759.8 484.5V400.9H1762V484.5zM1762 484.5V402.4H1764.2V484.5zM1764.2 484.5V396H1766.4V484.5zM1766.4 484.5V407.9H1768.6V484.5zM1768.6 484.5V412.8H1770.8V484.5zM1770.8 484.5V406H1773V484.5zM1773 484.5V404H1775.2V484.5zM1775.2 484.5V408.6H1777.4V484.5zM1777.4 484.5V417.1H1779.6V484.5zM1779.6 484.5V410.8H1781.8V484.5zM1781.8 484.5V413H1784V484.5zM1784 484.5V415.1H1786.2V484.5zM1786.2 484.5V405H1788.4V484.5zM1788.4 484.5V411H1790.6V484.5zM1790.6 484.5V427.7H1792.8V484.5zM1792.8 484.5V432.1H1795V484.5zM1795 484.5V425.9H1797.2V484.5zM1797.2 484.5V419.8H1799.4V484.5zM1799.4 484.5V383H1801.6V484.5zM1801.6 484.5V422.8H1803.8V484.5zM1803.8 484.5V434.5H1806V484.5zM1806 484.5V441.3H1808.2V484.5zM1808.2 484.5V432.9H1810.4V484.5zM1810.4 484.5V428.5H1812.6V484.5zM1812.6 484.5V438.7H1814.8V484.5zM1814.8 484.5V428H1817V484.5zM1817 484.5V429H1819.2V484.5zM1819.2 484.5V444.2H1821.4V484.5zM1821.4 484.5V431.7H1823.6V484.5zM1823.6 484.5V437.2H1825.8V484.5zM1825.8 484.5V440.3H1828V484.5zM1828 484.5V437.6H1830.2V484.5zM1830.2 484.5V443.8H1832.4V484.5zM1832.4 484.5V443.7H1834.6V484.5zM1834.6 484.5V383.5H1836.8V484.5zM1836.8 484.5V442.6H1839V484.5zM1839 484.5V440.8H1841.2V484.5zM1841.2 484.5V394.8H1843.4V484.5zM1843.4 484.5V426H1845.6V484.5zM1845.6 484.5V426.7H1847.8V484.5zM1847.8 484.5V399.8H1850V484.5zM1850 484.5V434.4H1852.2V484.5zM1852.2 484.5V431.1H1854.4V484.5zM1854.4 484.5V435.7H1856.6V484.5zM1856.6 484.5V443.3H1858.8V484.5zM1858.8 484.5V396.6H1861V484.5zM1861 484.5V425.7H1863.2V484.5zM1863.2 484.5V418.2H1865.4V484.5zM1865.4 484.5V394.8H1867.6V484.5zM1867.6 484.5V413.9H1869.8V484.5zM1869.8 484.5V426.5H1872V484.5zM1872 484.5V430.2H1874.2V484.5zM1874.2 484.5V395.2H1876.4V484.5zM1876.4 484.5V408.8H1878.6V484.5zM1878.6 484.5V415.8H1880.8V484.5zM1880.8 484.5V409.7H1883V484.5zM1883 484.5V379.8H1885.2V484.5zM1885.2 484.5V405.3H1887.4V484.5zM1887.4 484.5V397.6H1889.6V484.5zM1889.6 484.5V414.5H1891.8V484.5zM1891.8 484.5V399.1H1894V484.5zM1894 484.5V414.4H1896.2V484.5zM1896.2 484.5V378H1898.4V484.5zM1898.4 484.5V410.8H1900.6V484.5zM1900.6 484.5V386.2H1902.8V484.5zM1902.8 484.5V388.4H1905V484.5zM1905 484.5V363.5H1907.2V484.5zM1907.2 484.5V375.5H1909.4V484.5zM1909.4 484.5V322H1911.6V484.5zM1911.6 484.5V369.5H1913.8V484.5zM1913.8 484.5V379.6H1916V484.5zM1916 484.5V350H1918.2V484.5zM1918.2 484.5V363.7H1920.4V484.5zM1920.4 484.5V320.3H1922.6V484.5zM1922.6 484.5V332.3H1924.8V484.5zM1924.8 484.5V284.5H1927V484.5zM1927 484.5V356.7H1929.2V484.5zM1929.2 484.5V366H1931.4V484.5zM1931.4 484.5V338.8H1933.6V484.5zM1933.6 484.5V267.5H1935.8V484.5zM1935.8 484.5V335.1H1938V484.5zM1938 484.5V278.3H1940.2V484.5zM1940.2 484.5V273.4H1942.4V484.5zM1942.4 484.5V254.5H1944.6V484.5zM1944.6 484.5V307.6H1946.8V484.5zM1946.8 484.5V259.5H1949V484.5zM1949 484.5V304.7H1951.2V484.5zM1951.2 484.5V307.1H1953.4V484.5zM1953.4 484.5V310.4H1955.6V484.5zM1955.6 484.5V293.2H1957.8V484.5zM1957.8 484.5V219.5H1960V484.5zM1960 484.5V259.3H1962.2V484.5zM1962.2 484.5V290.2H1964.4V484.5zM1964.4 484.5V265.8H1966.6V484.5zM1966.6 484.5V257.5H1968.8V484.5zM1968.8 484.5V272.3H1971V484.5zM1971 484.5V315.9H1973.2V484.5zM1973.2 484.5V214.5H1975.4V484.5zM1975.4 484.5V343.7H1977.6V484.5zM1977.6 484.5V222.5H1979.8V484.5zM1979.8 484.5V366.4H1982V484.5zM1982 484.5V358.8H1984.2V484.5zM1984.2 484.5V279.5H1986.4V484.5zM1986.4 484.5V362.7H1988.6V484.5zM1988.6 484.5V402.4H1990.8V484.5zM1990.8 484.5V406.9H1993V484.5zM1993 484.5V387.5H1995.2V484.5zM1995.2 484.5V391.9H1997.4V484.5zM1997.4 484.5V414.2H1999.6V484.5zM1999.6 484.5V394.1H2001.8V484.5zM2001.8 484.5V397.6H2004V484.5zM2004 484.5V318H2006.2V484.5zM2006.2 484.5V434.2H2008.4V484.5zM2008.4 484.5V416.8H2010.6V484.5zM2010.6 484.5V434.9H2012.8V484.5zM2012.8 484.5V399.8H2015V484.5zM2015 484.5V436.7H2017.2V484.5zM2017.2 484.5V447.3H2019.4V484.5zM2019.4 484.5V437.9H2021.6V484.5zM2021.6 484.5V452H2023.8V484.5zM2023.8 484.5V445.6H2026V484.5zM2026 484.5V449.9H2028.2V484.5zM2028.2 484.5V427H2030.4V484.5zM2030.4 484.5V456H2032.6V484.5zM2032.6 484.5V456.5H2034.8V484.5zM2034.8 484.5V462.9H2037V484.5zM2037 484.5V438.5H2039.2V484.5zM2039.2 484.5V466.3H2041.4V484.5zM2041.4 484.5V463.9H2043.6V484.5zM2043.6 484.5V452H2045.8V484.5zM2045.8 484.5V466H2048V484.5zM2048 484.5V470.8H2050.2V484.5zM2050.2 484.5V473.8H2052.4V484.5zM2052.4 484.5V473.9H2054.6V484.5zM2054.6 484.5V458.5H2056.8V484.5zM2056.8 484.5V475.7H2059V484.5zM2059 484.5V475.4H2061.2V484.5zM2061.2 484.5V478.7H2063.4V484.5zM2063.4 484.5V477.6H2065.6V484.5zM2065.6 484.5V464.8H2067.8V484.5zM2067.8 484.5V479.1H2070V484.5zM2070 484.5V479.6H2072.2V484.5zM2072.2 484.5V471H2074.4V484.5zM2074.4 484.5V482H2076.6V484.5zM2076.6 484.5V482.3H2078.8V484.5zM2078.8 484.5V482H2081V484.5zM2081 484.5V476H2083.2V484.5zM2083.2 484.5V483.2H2085.4V484.5zM2085.4 484.5V483.9H2087.6V484.5zM2087.6 484.5V474.8H2089.8V484.5zM2089.8 484.5V484.4H2092V484.5z" fill="#6c5d4e"/><path d="M1641 484.5V481.2M1643.2 484.5V480.6M1645.4 484.5V479.6M1647.6 484.5V479.6M1649.8 484.5V478.7M1652 484.5V478.1M1654.2 484.5V476.4M1656.4 484.5V475.3M1658.6 484.5V475M1660.8 484.5V472.8M1663 484.5V471.5M1665.2 484.5V471.5M1667.4 484.5V469.2M1669.6 484.5V468.3M1671.8 484.5V467.2M1674 484.5V465.5M1676.2 484.5V463.6M1678.4 484.5V463.2M1680.6 484.5V459.7M1682.8 484.5V457.2M1685 484.5V457.2M1687.2 484.5V454.5M1689.4 484.5V453.2M1691.6 484.5V448.5M1693.8 484.5V447.3M1696 484.5V443.1M1698.2 484.5V443.6M1700.4 484.5V443.6M1702.6 484.5V435.7M1704.8 484.5V435.7M1707 484.5V428.5M1709.2 484.5V434.3M1711.4 484.5V434.3M1713.6 484.5V431.6M1715.8 484.5V423.4M1718 484.5V426.6M1720.2 484.5V426.6M1722.4 484.5V418.5M1724.6 484.5V409.5M1726.8 484.5V409.5M1729 484.5V407.5M1731.2 484.5V407.5M1733.4 484.5V402.5M1735.6 484.5V398.5M1737.8 484.5V407.5M1740 484.5V407.5M1742.2 484.5V396.9M1744.4 484.5V399.9M1746.6 484.5V400.9M1748.8 484.5V400.9M1751 484.5V406.2M1753.2 484.5V406.2M1755.4 484.5V396.7M1757.6 484.5V398.1M1759.8 484.5V400.9M1762 484.5V402.4M1764.2 484.5V402.4M1766.4 484.5V407.9M1768.6 484.5V412.8M1770.8 484.5V412.8M1773 484.5V406M1775.2 484.5V408.6M1777.4 484.5V417.1M1779.6 484.5V417.1M1781.8 484.5V413M1784 484.5V415.1M1786.2 484.5V415.1M1788.4 484.5V411M1790.6 484.5V427.7M1792.8 484.5V432.1M1795 484.5V432.1M1797.2 484.5V425.9M1799.4 484.5V419.8M1801.6 484.5V422.8M1803.8 484.5V434.5M1806 484.5V441.3M1808.2 484.5V441.3M1810.4 484.5V432.9M1812.6 484.5V438.7M1814.8 484.5V438.7M1817 484.5V429M1819.2 484.5V444.2M1821.4 484.5V444.2M1823.6 484.5V437.2M1825.8 484.5V440.3M1828 484.5V440.3M1830.2 484.5V443.8M1832.4 484.5V443.8M1834.6 484.5V443.7M1836.8 484.5V442.6M1839 484.5V442.6M1841.2 484.5V440.8M1843.4 484.5V426M1845.6 484.5V426.7M1847.8 484.5V426.7M1850 484.5V434.4M1852.2 484.5V434.4M1854.4 484.5V435.7M1856.6 484.5V443.3M1858.8 484.5V443.3M1861 484.5V425.7M1863.2 484.5V425.7M1865.4 484.5V418.2M1867.6 484.5V413.9M1869.8 484.5V426.5M1872 484.5V430.2M1874.2 484.5V430.2M1876.4 484.5V408.8M1878.6 484.5V415.8M1880.8 484.5V415.8M1883 484.5V409.7M1885.2 484.5V405.3M1887.4 484.5V405.3M1889.6 484.5V414.5M1891.8 484.5V414.5M1894 484.5V414.4M1896.2 484.5V414.4M1898.4 484.5V410.8M1900.6 484.5V410.8M1902.8 484.5V388.4M1905 484.5V388.4M1907.2 484.5V375.5M1909.4 484.5V375.5M1911.6 484.5V369.5M1913.8 484.5V379.6M1916 484.5V379.6M1918.2 484.5V363.7M1920.4 484.5V363.7M1922.6 484.5V332.3M1924.8 484.5V332.3M1927 484.5V356.7M1929.2 484.5V366M1931.4 484.5V366M1933.6 484.5V338.8M1935.8 484.5V335.1M1938 484.5V335.1M1940.2 484.5V278.3M1942.4 484.5V273.4M1944.6 484.5V307.6M1946.8 484.5V307.6M1949 484.5V304.7M1951.2 484.5V307.1M1953.4 484.5V310.4M1955.6 484.5V310.4M1957.8 484.5V293.2M1960 484.5V259.3M1962.2 484.5V290.2M1964.4 484.5V290.2M1966.6 484.5V265.8M1968.8 484.5V272.3M1971 484.5V315.9M1973.2 484.5V315.9M1975.4 484.5V343.7M1977.6 484.5V343.7M1979.8 484.5V366.4M1982 484.5V366.4M1984.2 484.5V358.8M1986.4 484.5V362.7M1988.6 484.5V402.4M1990.8 484.5V406.9M1993 484.5V406.9M1995.2 484.5V391.9M1997.4 484.5V414.2M1999.6 484.5V414.2M2001.8 484.5V397.6M2004 484.5V397.6M2006.2 484.5V434.2M2008.4 484.5V434.2M2010.6 484.5V434.9M2012.8 484.5V434.9M2015 484.5V436.7M2017.2 484.5V447.3M2019.4 484.5V447.3M2021.6 484.5V452M2023.8 484.5V452M2026 484.5V449.9M2028.2 484.5V449.9M2030.4 484.5V456M2032.6 484.5V456.5M2034.8 484.5V462.9M2037 484.5V462.9M2039.2 484.5V466.3M2041.4 484.5V466.3M2043.6 484.5V463.9M2045.8 484.5V466M2048 484.5V470.8M2050.2 484.5V473.8M2052.4 484.5V473.9M2054.6 484.5V473.9M2056.8 484.5V475.7M2059 484.5V475.7M2061.2 484.5V478.7M2063.4 484.5V478.7M2065.6 484.5V477.6M2067.8 484.5V479.1M2070 484.5V479.6M2072.2 484.5V479.6" stroke="#43372b" stroke-width="0.5" fill="none" opacity="0.4"/></g>
<path d="M1845 484.5V484.4H1846.9V484.5zM1846.9 484.5V484.1H1848.8V484.5zM1848.8 484.5V484.3H1850.7V484.5zM1850.7 484.5V484H1852.6V484.5zM1852.6 484.5V483.6H1854.5V484.5zM1854.5 484.5V483.2H1856.4V484.5zM1856.4 484.5V483.6H1858.3V484.5zM1858.3 484.5V483.8H1860.2V484.5zM1860.2 484.5V483.8H1862.1V484.5zM1862.1 484.5V483.1H1864V484.5zM1864 484.5V482.5H1865.9V484.5zM1865.9 484.5V482.6H1867.8V484.5zM1867.8 484.5V483.6H1869.7V484.5zM1869.7 484.5V483.1H1871.6V484.5zM1871.6 484.5V482.5H1873.5V484.5zM1873.5 484.5V481.3H1875.4V484.5zM1875.4 484.5V481.6H1877.3V484.5zM1877.3 484.5V482.2H1879.2V484.5zM1879.2 484.5V483.3H1881.1V484.5zM1881.1 484.5V481.1H1883V484.5zM1883 484.5V482.1H1884.9V484.5zM1884.9 484.5V481.9H1886.8V484.5zM1886.8 484.5V482.6H1888.7V484.5zM1888.7 484.5V482.3H1890.6V484.5zM1890.6 484.5V482.3H1892.5V484.5zM1892.5 484.5V482.4H1894.4V484.5zM1894.4 484.5V482.6H1896.3V484.5zM1896.3 484.5V480.8H1898.2V484.5zM1898.2 484.5V480.2H1900.1V484.5zM1900.1 484.5V482.1H1902V484.5zM1902 484.5V482.4H1903.9V484.5zM1903.9 484.5V478.5H1905.8V484.5zM1905.8 484.5V481.4H1907.7V484.5zM1907.7 484.5V478.4H1909.6V484.5zM1909.6 484.5V480.4H1911.5V484.5zM1911.5 484.5V477.8H1913.4V484.5zM1913.4 484.5V481.9H1915.3V484.5zM1915.3 484.5V481.9H1917.2V484.5zM1917.2 484.5V481.4H1919.1V484.5zM1919.1 484.5V481.1H1921V484.5zM1921 484.5V478H1922.9V484.5zM1922.9 484.5V474H1924.8V484.5zM1924.8 484.5V478.8H1926.7V484.5zM1926.7 484.5V474.9H1928.6V484.5zM1928.6 484.5V468.9H1930.5V484.5zM1930.5 484.5V467.1H1932.4V484.5zM1932.4 484.5V470.4H1934.3V484.5zM1934.3 484.5V465.2H1936.2V484.5zM1936.2 484.5V462.7H1938.1V484.5zM1938.1 484.5V469.1H1940V484.5zM1940 484.5V466.4H1941.9V484.5zM1941.9 484.5V453.5H1943.8V484.5zM1943.8 484.5V473.8H1945.7V484.5zM1945.7 484.5V471.4H1947.6V484.5zM1947.6 484.5V456.5H1949.5V484.5zM1949.5 484.5V455.7H1951.4V484.5zM1951.4 484.5V465.3H1953.3V484.5zM1953.3 484.5V473.3H1955.2V484.5zM1955.2 484.5V456.9H1957.1V484.5zM1957.1 484.5V464.8H1959V484.5zM1959 484.5V454.7H1960.9V484.5zM1960.9 484.5V465.6H1962.8V484.5zM1962.8 484.5V450.5H1964.7V484.5zM1964.7 484.5V469.6H1966.6V484.5zM1966.6 484.5V470H1968.5V484.5zM1968.5 484.5V454.2H1970.4V484.5zM1970.4 484.5V477H1972.3V484.5zM1972.3 484.5V471.6H1974.2V484.5zM1974.2 484.5V470.1H1976.1V484.5zM1976.1 484.5V450.5H1978V484.5zM1978 484.5V464.1H1979.9V484.5zM1979.9 484.5V459.9H1981.8V484.5zM1981.8 484.5V449.5H1983.7V484.5zM1983.7 484.5V458.3H1985.6V484.5zM1985.6 484.5V465.9H1987.5V484.5zM1987.5 484.5V458.7H1989.4V484.5zM1989.4 484.5V469.1H1991.3V484.5zM1991.3 484.5V466.7H1993.2V484.5zM1993.2 484.5V465.2H1995.1V484.5zM1995.1 484.5V449.5H1997V484.5zM1997 484.5V463.6H1998.9V484.5zM1998.9 484.5V471.1H2000.8V484.5zM2000.8 484.5V469H2002.7V484.5zM2002.7 484.5V471.2H2004.6V484.5zM2004.6 484.5V450.5H2006.5V484.5zM2006.5 484.5V466.3H2008.4V484.5zM2008.4 484.5V471.7H2010.3V484.5zM2010.3 484.5V457.9H2012.2V484.5zM2012.2 484.5V458.5H2014.1V484.5zM2014.1 484.5V463.6H2016V484.5zM2016 484.5V469H2017.9V484.5zM2017.9 484.5V473.3H2019.8V484.5zM2019.8 484.5V471.8H2021.7V484.5zM2021.7 484.5V472H2023.6V484.5zM2023.6 484.5V468H2025.5V484.5zM2025.5 484.5V472.3H2027.4V484.5zM2027.4 484.5V470.1H2029.3V484.5zM2029.3 484.5V472.4H2031.2V484.5zM2031.2 484.5V477.8H2033.1V484.5zM2033.1 484.5V480.4H2035V484.5zM2035 484.5V480.7H2036.9V484.5zM2036.9 484.5V480.8H2038.8V484.5zM2038.8 484.5V479.1H2040.7V484.5zM2040.7 484.5V477H2042.6V484.5zM2042.6 484.5V481.4H2044.5V484.5zM2044.5 484.5V480.1H2046.4V484.5zM2046.4 484.5V481.5H2048.3V484.5zM2048.3 484.5V480.7H2050.2V484.5zM2050.2 484.5V481.8H2052.1V484.5zM2052.1 484.5V482.8H2054V484.5zM2054 484.5V484.1H2055.9V484.5z" fill="#f2cb7c"/>
<g clip-path="url(#c2r)"><path d="M1845 484.5V484.4H1846.9V484.5zM1846.9 484.5V484.1H1848.8V484.5zM1848.8 484.5V484.3H1850.7V484.5zM1850.7 484.5V484H1852.6V484.5zM1852.6 484.5V483.6H1854.5V484.5zM1854.5 484.5V483.2H1856.4V484.5zM1856.4 484.5V483.6H1858.3V484.5zM1858.3 484.5V483.8H1860.2V484.5zM1860.2 484.5V483.8H1862.1V484.5zM1862.1 484.5V483.1H1864V484.5zM1864 484.5V482.5H1865.9V484.5zM1865.9 484.5V482.6H1867.8V484.5zM1867.8 484.5V483.6H1869.7V484.5zM1869.7 484.5V483.1H1871.6V484.5zM1871.6 484.5V482.5H1873.5V484.5zM1873.5 484.5V481.3H1875.4V484.5zM1875.4 484.5V481.6H1877.3V484.5zM1877.3 484.5V482.2H1879.2V484.5zM1879.2 484.5V483.3H1881.1V484.5zM1881.1 484.5V481.1H1883V484.5zM1883 484.5V482.1H1884.9V484.5zM1884.9 484.5V481.9H1886.8V484.5zM1886.8 484.5V482.6H1888.7V484.5zM1888.7 484.5V482.3H1890.6V484.5zM1890.6 484.5V482.3H1892.5V484.5zM1892.5 484.5V482.4H1894.4V484.5zM1894.4 484.5V482.6H1896.3V484.5zM1896.3 484.5V480.8H1898.2V484.5zM1898.2 484.5V480.2H1900.1V484.5zM1900.1 484.5V482.1H1902V484.5zM1902 484.5V482.4H1903.9V484.5zM1903.9 484.5V478.5H1905.8V484.5zM1905.8 484.5V481.4H1907.7V484.5zM1907.7 484.5V478.4H1909.6V484.5zM1909.6 484.5V480.4H1911.5V484.5zM1911.5 484.5V477.8H1913.4V484.5zM1913.4 484.5V481.9H1915.3V484.5zM1915.3 484.5V481.9H1917.2V484.5zM1917.2 484.5V481.4H1919.1V484.5zM1919.1 484.5V481.1H1921V484.5zM1921 484.5V478H1922.9V484.5zM1922.9 484.5V474H1924.8V484.5zM1924.8 484.5V478.8H1926.7V484.5zM1926.7 484.5V474.9H1928.6V484.5zM1928.6 484.5V468.9H1930.5V484.5zM1930.5 484.5V467.1H1932.4V484.5zM1932.4 484.5V470.4H1934.3V484.5zM1934.3 484.5V465.2H1936.2V484.5zM1936.2 484.5V462.7H1938.1V484.5zM1938.1 484.5V469.1H1940V484.5zM1940 484.5V466.4H1941.9V484.5zM1941.9 484.5V453.5H1943.8V484.5zM1943.8 484.5V473.8H1945.7V484.5zM1945.7 484.5V471.4H1947.6V484.5zM1947.6 484.5V456.5H1949.5V484.5zM1949.5 484.5V455.7H1951.4V484.5zM1951.4 484.5V465.3H1953.3V484.5zM1953.3 484.5V473.3H1955.2V484.5zM1955.2 484.5V456.9H1957.1V484.5zM1957.1 484.5V464.8H1959V484.5zM1959 484.5V454.7H1960.9V484.5zM1960.9 484.5V465.6H1962.8V484.5zM1962.8 484.5V450.5H1964.7V484.5zM1964.7 484.5V469.6H1966.6V484.5zM1966.6 484.5V470H1968.5V484.5zM1968.5 484.5V454.2H1970.4V484.5zM1970.4 484.5V477H1972.3V484.5zM1972.3 484.5V471.6H1974.2V484.5zM1974.2 484.5V470.1H1976.1V484.5zM1976.1 484.5V450.5H1978V484.5zM1978 484.5V464.1H1979.9V484.5zM1979.9 484.5V459.9H1981.8V484.5zM1981.8 484.5V449.5H1983.7V484.5zM1983.7 484.5V458.3H1985.6V484.5zM1985.6 484.5V465.9H1987.5V484.5zM1987.5 484.5V458.7H1989.4V484.5zM1989.4 484.5V469.1H1991.3V484.5zM1991.3 484.5V466.7H1993.2V484.5zM1993.2 484.5V465.2H1995.1V484.5zM1995.1 484.5V449.5H1997V484.5zM1997 484.5V463.6H1998.9V484.5zM1998.9 484.5V471.1H2000.8V484.5zM2000.8 484.5V469H2002.7V484.5zM2002.7 484.5V471.2H2004.6V484.5zM2004.6 484.5V450.5H2006.5V484.5zM2006.5 484.5V466.3H2008.4V484.5zM2008.4 484.5V471.7H2010.3V484.5zM2010.3 484.5V457.9H2012.2V484.5zM2012.2 484.5V458.5H2014.1V484.5zM2014.1 484.5V463.6H2016V484.5zM2016 484.5V469H2017.9V484.5zM2017.9 484.5V473.3H2019.8V484.5zM2019.8 484.5V471.8H2021.7V484.5zM2021.7 484.5V472H2023.6V484.5zM2023.6 484.5V468H2025.5V484.5zM2025.5 484.5V472.3H2027.4V484.5zM2027.4 484.5V470.1H2029.3V484.5zM2029.3 484.5V472.4H2031.2V484.5zM2031.2 484.5V477.8H2033.1V484.5zM2033.1 484.5V480.4H2035V484.5zM2035 484.5V480.7H2036.9V484.5zM2036.9 484.5V480.8H2038.8V484.5zM2038.8 484.5V479.1H2040.7V484.5zM2040.7 484.5V477H2042.6V484.5zM2042.6 484.5V481.4H2044.5V484.5zM2044.5 484.5V480.1H2046.4V484.5zM2046.4 484.5V481.5H2048.3V484.5zM2048.3 484.5V480.7H2050.2V484.5zM2050.2 484.5V481.8H2052.1V484.5zM2052.1 484.5V482.8H2054V484.5zM2054 484.5V484.1H2055.9V484.5z" fill="#c08535"/></g>
<g clip-path="url(#c2t)"><path d="M1845 484.5V484.4H1846.9V484.5zM1846.9 484.5V484.1H1848.8V484.5zM1848.8 484.5V484.3H1850.7V484.5zM1850.7 484.5V484H1852.6V484.5zM1852.6 484.5V483.6H1854.5V484.5zM1854.5 484.5V483.2H1856.4V484.5zM1856.4 484.5V483.6H1858.3V484.5zM1858.3 484.5V483.8H1860.2V484.5zM1860.2 484.5V483.8H1862.1V484.5zM1862.1 484.5V483.1H1864V484.5zM1864 484.5V482.5H1865.9V484.5zM1865.9 484.5V482.6H1867.8V484.5zM1867.8 484.5V483.6H1869.7V484.5zM1869.7 484.5V483.1H1871.6V484.5zM1871.6 484.5V482.5H1873.5V484.5zM1873.5 484.5V481.3H1875.4V484.5zM1875.4 484.5V481.6H1877.3V484.5zM1877.3 484.5V482.2H1879.2V484.5zM1879.2 484.5V483.3H1881.1V484.5zM1881.1 484.5V481.1H1883V484.5zM1883 484.5V482.1H1884.9V484.5zM1884.9 484.5V481.9H1886.8V484.5zM1886.8 484.5V482.6H1888.7V484.5zM1888.7 484.5V482.3H1890.6V484.5zM1890.6 484.5V482.3H1892.5V484.5zM1892.5 484.5V482.4H1894.4V484.5zM1894.4 484.5V482.6H1896.3V484.5zM1896.3 484.5V480.8H1898.2V484.5zM1898.2 484.5V480.2H1900.1V484.5zM1900.1 484.5V482.1H1902V484.5zM1902 484.5V482.4H1903.9V484.5zM1903.9 484.5V478.5H1905.8V484.5zM1905.8 484.5V481.4H1907.7V484.5zM1907.7 484.5V478.4H1909.6V484.5zM1909.6 484.5V480.4H1911.5V484.5zM1911.5 484.5V477.8H1913.4V484.5zM1913.4 484.5V481.9H1915.3V484.5zM1915.3 484.5V481.9H1917.2V484.5zM1917.2 484.5V481.4H1919.1V484.5zM1919.1 484.5V481.1H1921V484.5zM1921 484.5V478H1922.9V484.5zM1922.9 484.5V474H1924.8V484.5zM1924.8 484.5V478.8H1926.7V484.5zM1926.7 484.5V474.9H1928.6V484.5zM1928.6 484.5V468.9H1930.5V484.5zM1930.5 484.5V467.1H1932.4V484.5zM1932.4 484.5V470.4H1934.3V484.5zM1934.3 484.5V465.2H1936.2V484.5zM1936.2 484.5V462.7H1938.1V484.5zM1938.1 484.5V469.1H1940V484.5zM1940 484.5V466.4H1941.9V484.5zM1941.9 484.5V453.5H1943.8V484.5zM1943.8 484.5V473.8H1945.7V484.5zM1945.7 484.5V471.4H1947.6V484.5zM1947.6 484.5V456.5H1949.5V484.5zM1949.5 484.5V455.7H1951.4V484.5zM1951.4 484.5V465.3H1953.3V484.5zM1953.3 484.5V473.3H1955.2V484.5zM1955.2 484.5V456.9H1957.1V484.5zM1957.1 484.5V464.8H1959V484.5zM1959 484.5V454.7H1960.9V484.5zM1960.9 484.5V465.6H1962.8V484.5zM1962.8 484.5V450.5H1964.7V484.5zM1964.7 484.5V469.6H1966.6V484.5zM1966.6 484.5V470H1968.5V484.5zM1968.5 484.5V454.2H1970.4V484.5zM1970.4 484.5V477H1972.3V484.5zM1972.3 484.5V471.6H1974.2V484.5zM1974.2 484.5V470.1H1976.1V484.5zM1976.1 484.5V450.5H1978V484.5zM1978 484.5V464.1H1979.9V484.5zM1979.9 484.5V459.9H1981.8V484.5zM1981.8 484.5V449.5H1983.7V484.5zM1983.7 484.5V458.3H1985.6V484.5zM1985.6 484.5V465.9H1987.5V484.5zM1987.5 484.5V458.7H1989.4V484.5zM1989.4 484.5V469.1H1991.3V484.5zM1991.3 484.5V466.7H1993.2V484.5zM1993.2 484.5V465.2H1995.1V484.5zM1995.1 484.5V449.5H1997V484.5zM1997 484.5V463.6H1998.9V484.5zM1998.9 484.5V471.1H2000.8V484.5zM2000.8 484.5V469H2002.7V484.5zM2002.7 484.5V471.2H2004.6V484.5zM2004.6 484.5V450.5H2006.5V484.5zM2006.5 484.5V466.3H2008.4V484.5zM2008.4 484.5V471.7H2010.3V484.5zM2010.3 484.5V457.9H2012.2V484.5zM2012.2 484.5V458.5H2014.1V484.5zM2014.1 484.5V463.6H2016V484.5zM2016 484.5V469H2017.9V484.5zM2017.9 484.5V473.3H2019.8V484.5zM2019.8 484.5V471.8H2021.7V484.5zM2021.7 484.5V472H2023.6V484.5zM2023.6 484.5V468H2025.5V484.5zM2025.5 484.5V472.3H2027.4V484.5zM2027.4 484.5V470.1H2029.3V484.5zM2029.3 484.5V472.4H2031.2V484.5zM2031.2 484.5V477.8H2033.1V484.5zM2033.1 484.5V480.4H2035V484.5zM2035 484.5V480.7H2036.9V484.5zM2036.9 484.5V480.8H2038.8V484.5zM2038.8 484.5V479.1H2040.7V484.5zM2040.7 484.5V477H2042.6V484.5zM2042.6 484.5V481.4H2044.5V484.5zM2044.5 484.5V480.1H2046.4V484.5zM2046.4 484.5V481.5H2048.3V484.5zM2048.3 484.5V480.7H2050.2V484.5zM2050.2 484.5V481.8H2052.1V484.5zM2052.1 484.5V482.8H2054V484.5zM2054 484.5V484.1H2055.9V484.5z" fill="#c9a544"/>
<g clip-path="url(#c2r)"><path d="M1845 484.5V484.4H1846.9V484.5zM1846.9 484.5V484.1H1848.8V484.5zM1848.8 484.5V484.3H1850.7V484.5zM1850.7 484.5V484H1852.6V484.5zM1852.6 484.5V483.6H1854.5V484.5zM1854.5 484.5V483.2H1856.4V484.5zM1856.4 484.5V483.6H1858.3V484.5zM1858.3 484.5V483.8H1860.2V484.5zM1860.2 484.5V483.8H1862.1V484.5zM1862.1 484.5V483.1H1864V484.5zM1864 484.5V482.5H1865.9V484.5zM1865.9 484.5V482.6H1867.8V484.5zM1867.8 484.5V483.6H1869.7V484.5zM1869.7 484.5V483.1H1871.6V484.5zM1871.6 484.5V482.5H1873.5V484.5zM1873.5 484.5V481.3H1875.4V484.5zM1875.4 484.5V481.6H1877.3V484.5zM1877.3 484.5V482.2H1879.2V484.5zM1879.2 484.5V483.3H1881.1V484.5zM1881.1 484.5V481.1H1883V484.5zM1883 484.5V482.1H1884.9V484.5zM1884.9 484.5V481.9H1886.8V484.5zM1886.8 484.5V482.6H1888.7V484.5zM1888.7 484.5V482.3H1890.6V484.5zM1890.6 484.5V482.3H1892.5V484.5zM1892.5 484.5V482.4H1894.4V484.5zM1894.4 484.5V482.6H1896.3V484.5zM1896.3 484.5V480.8H1898.2V484.5zM1898.2 484.5V480.2H1900.1V484.5zM1900.1 484.5V482.1H1902V484.5zM1902 484.5V482.4H1903.9V484.5zM1903.9 484.5V478.5H1905.8V484.5zM1905.8 484.5V481.4H1907.7V484.5zM1907.7 484.5V478.4H1909.6V484.5zM1909.6 484.5V480.4H1911.5V484.5zM1911.5 484.5V477.8H1913.4V484.5zM1913.4 484.5V481.9H1915.3V484.5zM1915.3 484.5V481.9H1917.2V484.5zM1917.2 484.5V481.4H1919.1V484.5zM1919.1 484.5V481.1H1921V484.5zM1921 484.5V478H1922.9V484.5zM1922.9 484.5V474H1924.8V484.5zM1924.8 484.5V478.8H1926.7V484.5zM1926.7 484.5V474.9H1928.6V484.5zM1928.6 484.5V468.9H1930.5V484.5zM1930.5 484.5V467.1H1932.4V484.5zM1932.4 484.5V470.4H1934.3V484.5zM1934.3 484.5V465.2H1936.2V484.5zM1936.2 484.5V462.7H1938.1V484.5zM1938.1 484.5V469.1H1940V484.5zM1940 484.5V466.4H1941.9V484.5zM1941.9 484.5V453.5H1943.8V484.5zM1943.8 484.5V473.8H1945.7V484.5zM1945.7 484.5V471.4H1947.6V484.5zM1947.6 484.5V456.5H1949.5V484.5zM1949.5 484.5V455.7H1951.4V484.5zM1951.4 484.5V465.3H1953.3V484.5zM1953.3 484.5V473.3H1955.2V484.5zM1955.2 484.5V456.9H1957.1V484.5zM1957.1 484.5V464.8H1959V484.5zM1959 484.5V454.7H1960.9V484.5zM1960.9 484.5V465.6H1962.8V484.5zM1962.8 484.5V450.5H1964.7V484.5zM1964.7 484.5V469.6H1966.6V484.5zM1966.6 484.5V470H1968.5V484.5zM1968.5 484.5V454.2H1970.4V484.5zM1970.4 484.5V477H1972.3V484.5zM1972.3 484.5V471.6H1974.2V484.5zM1974.2 484.5V470.1H1976.1V484.5zM1976.1 484.5V450.5H1978V484.5zM1978 484.5V464.1H1979.9V484.5zM1979.9 484.5V459.9H1981.8V484.5zM1981.8 484.5V449.5H1983.7V484.5zM1983.7 484.5V458.3H1985.6V484.5zM1985.6 484.5V465.9H1987.5V484.5zM1987.5 484.5V458.7H1989.4V484.5zM1989.4 484.5V469.1H1991.3V484.5zM1991.3 484.5V466.7H1993.2V484.5zM1993.2 484.5V465.2H1995.1V484.5zM1995.1 484.5V449.5H1997V484.5zM1997 484.5V463.6H1998.9V484.5zM1998.9 484.5V471.1H2000.8V484.5zM2000.8 484.5V469H2002.7V484.5zM2002.7 484.5V471.2H2004.6V484.5zM2004.6 484.5V450.5H2006.5V484.5zM2006.5 484.5V466.3H2008.4V484.5zM2008.4 484.5V471.7H2010.3V484.5zM2010.3 484.5V457.9H2012.2V484.5zM2012.2 484.5V458.5H2014.1V484.5zM2014.1 484.5V463.6H2016V484.5zM2016 484.5V469H2017.9V484.5zM2017.9 484.5V473.3H2019.8V484.5zM2019.8 484.5V471.8H2021.7V484.5zM2021.7 484.5V472H2023.6V484.5zM2023.6 484.5V468H2025.5V484.5zM2025.5 484.5V472.3H2027.4V484.5zM2027.4 484.5V470.1H2029.3V484.5zM2029.3 484.5V472.4H2031.2V484.5zM2031.2 484.5V477.8H2033.1V484.5zM2033.1 484.5V480.4H2035V484.5zM2035 484.5V480.7H2036.9V484.5zM2036.9 484.5V480.8H2038.8V484.5zM2038.8 484.5V479.1H2040.7V484.5zM2040.7 484.5V477H2042.6V484.5zM2042.6 484.5V481.4H2044.5V484.5zM2044.5 484.5V480.1H2046.4V484.5zM2046.4 484.5V481.5H2048.3V484.5zM2048.3 484.5V480.7H2050.2V484.5zM2050.2 484.5V481.8H2052.1V484.5zM2052.1 484.5V482.8H2054V484.5zM2054 484.5V484.1H2055.9V484.5z" fill="#b8923e"/></g></g>
<path d="M1600 485.2L1602 485.2L1604 485.2L1606 485.1L1608 485.1L1610 485L1612 484.9L1614 484.8L1616 484.7L1618 484.6L1620 484.5L1622 484.3L1624 484.1L1626 483.8L1628 483.6L1630 483.3L1632 483L1634 482.6L1636 482.2L1638 481.7L1640 481.2L1642 480.7L1644 480.1L1646 479.5L1648 478.8L1650 478.1L1652 477.4L1654 476.6L1656 475.7L1658 474.8L1660 473.8L1662 472.7L1664 471.6L1666 470.3L1668 469L1670 467.6L1672 466.2L1674 464.8L1676 463.3L1678 461.7L1680 460L1682 458.2L1684 456.5L1686 454.7L1688 452.8L1690 451L1692 449.1L1694 447.1L1696 445.1L1698 442.9L1700 440.8L1702 438.6L1704 436.5L1706 434.4L1708 432.3L1710 430.4L1712 428.5L1714 426.8L1716 425.2L1718 423.6L1720 422L1722 420.4L1724 418.8L1726 417.3L1728 415.8L1730 414.4L1732 413.2L1734 412.1L1736 411.1L1738 410.3L1740 409.8L1742 409.3L1744 408.8L1746 408.4L1748 408.1L1750 407.9L1752 407.8L1754 407.8L1756 407.9L1758 408L1760 408.3L1762 408.5L1764 408.8L1766 409.2L1768 409.8L1770 410.6L1772 411.5L1774 412.6L1776 413.7L1778 414.9L1780 416L1782 417.1L1784 418.4L1786 419.7L1788 421L1790 422.2L1792 423.5L1794 424.8L1796 426.1L1798 427.4L1800 428.6L1802 429.7L1804 430.6L1806 431.3L1808 432L1810 432.7L1812 433.4L1814 434L1816 434.5L1818 434.8L1820 435.1L1822 435.2L1824 435.2L1826 435.1L1828 434.9L1830 434.7L1832 434.3L1834 434L1836 433.6L1838 433.2L1840 432.8L1842 432.3L1844 431.7L1846 431L1848 430.2L1850 429.3L1852 428.4L1854 427.3L1856 426.3L1858 425.1L1860 424L1862 422.8L1864 421.6L1866 420.4L1868 419.1L1870 417.7L1872 416.2L1874 414.6L1876 412.9L1878 411.2L1880 409.4L1882 407.6L1884 405.7L1886 403.7L1888 401.8L1890 399.8L1892 397.6L1894 395.4L1896 393L1898 390.6L1900 388.1L1902 385.6L1904 383.2L1906 380.7L1908 378L1910 374.7L1912 370.9L1914 366.9L1916 362.9L1918 359.1L1920 355.4L1922 351.8L1924 348.2L1926 344.7L1928 341.3L1930 338L1932 334.8L1934 331.8L1936 329L1938 326.4L1940 323.8L1942 321.6L1944 319.6L1946 317.8L1948 316.2L1950 314.8L1952 313.7L1954 313L1956 312.4L1958 312.1L1960 312L1962 312.3L1964 312.8L1966 313.5L1968 314.6L1970 316.2L1972 318L1974 320.1L1976 322.6L1978 325.5L1980 328.6L1982 331.8L1984 335.3L1986 339.1L1988 343L1990 347.3L1992 351.8L1994 356.6L1996 361.7L1998 367.1L2000 372.8L2002 378.4L2004 384.2L2006 390.2L2008 396.1L2010 401.9L2012 407.2L2014 412.2L2016 417L2018 421.6L2020 426L2022 430.2L2024 434.1L2026 437.8L2028 441.4L2030 444.8L2032 448.1L2034 451.1L2036 454L2038 456.7L2040 459.2L2042 461.7L2044 464L2046 466.1L2048 468.1L2050 469.8L2052 471.3L2054 472.7L2056 473.9L2058 475.1L2060 476.1L2062 477L2064 477.8L2066 478.5L2068 479.2L2070 479.8L2072 480.3L2074 480.8L2076 481.2L2078 481.6L2080 482.1L2082 482.5L2084 482.8L2086 483.2L2088 483.5L2090 483.7L2092 484" fill="none" stroke="#427db4" stroke-width="2.5" stroke-linejoin="round" stroke-linecap="round"/>
<line x1="1954.2" y1="45.5" x2="1954.2" y2="484.5" stroke="#1a1a1a" stroke-width="1.4" stroke-dasharray="3 1.45"/>
</g>
<rect x="1531" y="45.5" width="589" height="439" fill="none" stroke="#262626" stroke-width="1.5"/>
<path d="M1623.9 484.5v5.8M1734.2 484.5v5.8M1844.3 484.5v5.8M1954.2 484.5v5.8M2064.3 484.5v5.8M1531 484.5h-5.8M1531 402.7h-5.8M1531 320.9h-5.8M1531 239.1h-5.8M1531 157.3h-5.8M1531 75.5h-5.8" stroke="#222" stroke-width="1.4" fill="none"/>
<g font-family='DejaVu Sans, Liberation Sans, sans-serif' font-size="16.5" fill="#111" stroke="#111" stroke-width="0.25">
<text x="1623.9" y="508.3" text-anchor="middle">1E-6</text>
<text x="1734.2" y="508.3" text-anchor="middle">1E-4</text>
<text x="1844.3" y="508.3" text-anchor="middle">.01</text>
<text x="1954.2" y="508.3" text-anchor="middle">1</text>
<text x="2064.3" y="508.3" text-anchor="middle">100</text>
<text x="1519.4" y="491.1" text-anchor="end">0.000</text>
<text x="1519.4" y="409.3" text-anchor="end">0.005</text>
<text x="1519.4" y="327.5" text-anchor="end">0.010</text>
<text x="1519.4" y="245.7" text-anchor="end">0.015</text>
<text x="1519.4" y="163.9" text-anchor="end">0.020</text>
<text x="1519.4" y="82.1" text-anchor="end">0.025</text>
<text x="1825.5" y="530.6" text-anchor="middle">Normalized distance to nearest SV breakpoint</text>
<text x="1825.5" y="549.3" text-anchor="middle">(log10(bp/expected_SV_distance))</text>
<text transform="translate(1462 265) rotate(-90)" text-anchor="middle">Density</text>
<rect x="1539.2" y="53.8" width="174.5" height="77" rx="3.3" fill="#fff" fill-opacity="0.8" stroke="#dcdcdc" stroke-opacity="0.8" stroke-width="1.4"/>
<rect x="1545.8" y="61.2" width="33" height="11.5" fill="#8f1b15" stroke="none"/>
<text x="1592" y="72.8">Non-clustered</text>
<rect x="1545.8" y="85.5" width="33" height="11.5" fill="#7fabb0" stroke="none"/>
<text x="1592" y="97.1">kataegis</text>
<rect x="1545.8" y="109.9" width="33" height="11.5" fill="#f2cb7c" stroke="none"/>
<text x="1592" y="121.4">kyklonas</text>
</g>
<text transform="translate(1818.5 33.1) scale(0.983 1)" text-anchor="middle" font-family="Liberation Sans, sans-serif" font-weight="bold" font-size="30" fill="#111">PCAWG</text>
<g font-family="DejaVu Serif, Liberation Serif, serif" font-size="45" fill="#111" stroke="#111" stroke-width="3" stroke-linejoin="round"><text transform="translate(2.6 37.6) scale(1.08 1.04)">a</text><text transform="translate(765.7 36.9) scale(1.045 0.963)">b</text></g>
</svg>
</body></html>
